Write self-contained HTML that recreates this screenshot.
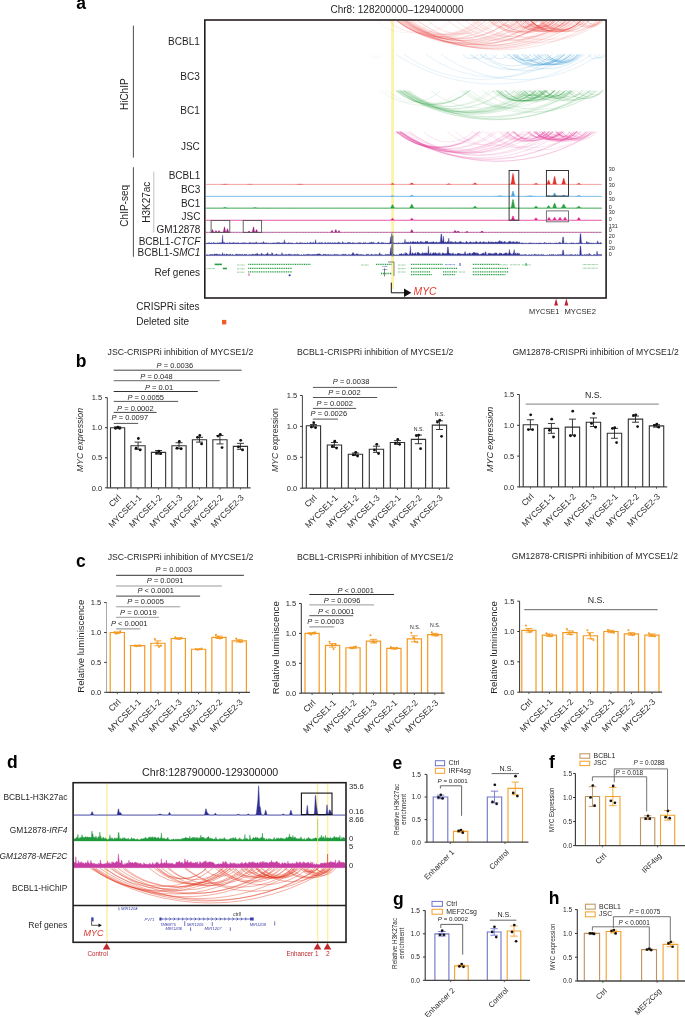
<!DOCTYPE html>
<html><head><meta charset="utf-8"><title>Figure</title>
<style>
html,body{margin:0;padding:0;background:#fff;width:685px;height:1017px;overflow:hidden}
svg{display:block;-webkit-font-smoothing:antialiased;will-change:transform}
text{font-family:"Liberation Sans",sans-serif}
</style></head><body>
<svg width="685" height="1017" viewBox="0 0 685 1017" font-family="&quot;Liberation Sans&quot;, sans-serif">
<rect width="685" height="1017" fill="#fff"/>
<text x="76.20" y="9.10" font-size="17.5" font-weight="bold" fill="#000">a</text>
<text x="330.50" y="12.80" font-size="10" fill="#231f20" textLength="133.00" lengthAdjust="spacingAndGlyphs">Chr8: 128200000–129400000</text>
<rect x="391.20" y="20.50" width="2.90" height="268.50" fill="#fbf2ab" />
<path d="M401.2 20.8A68.6 68.6 0 0 0 490.1 20.8M406.4 20.8A54.5 54.5 0 0 0 479.6 20.8M404.6 20.8A92.2 92.2 0 0 0 518.6 20.8M396.9 20.8A118.3 118.3 0 0 0 537.5 20.8M396.6 20.8A108.9 108.9 0 0 0 527.7 20.8M397.1 20.8A65.0 65.0 0 0 0 482.1 20.8M402.8 20.8A156.2 156.2 0 0 0 580.0 20.8M398.0 20.8A80.5 80.5 0 0 0 499.7 20.8M406.0 20.8A169.9 169.9 0 0 0 596.0 20.8M405.2 20.8A95.6 95.6 0 0 0 522.8 20.8M411.6 20.8A47.0 47.0 0 0 0 476.2 20.8M409.7 20.8A77.7 77.7 0 0 0 508.5 20.8M398.3 20.8A67.2 67.2 0 0 0 485.7 20.8M400.9 20.8A156.7 156.7 0 0 0 578.5 20.8M398.9 20.8A126.3 126.3 0 0 0 547.4 20.8M406.2 20.8A91.5 91.5 0 0 0 519.5 20.8M404.8 20.8A54.8 54.8 0 0 0 478.4 20.8M397.0 20.8A79.3 79.3 0 0 0 497.4 20.8M406.9 20.8A98.0 98.0 0 0 0 526.9 20.8M401.0 20.8A124.7 124.7 0 0 0 547.9 20.8M403.3 20.8A85.1 85.1 0 0 0 509.9 20.8M408.7 20.8A132.3 132.3 0 0 0 563.0 20.8M399.9 20.8A124.3 124.3 0 0 0 546.4 20.8M404.4 20.8A161.3 161.3 0 0 0 586.4 20.8M407.7 20.8A79.4 79.4 0 0 0 508.3 20.8M411.7 20.8A55.2 55.2 0 0 0 485.7 20.8M402.7 20.8A146.5 146.5 0 0 0 570.7 20.8M398.4 20.8A114.4 114.4 0 0 0 535.0 20.8M396.6 20.8A140.5 140.5 0 0 0 558.9 20.8M408.2 20.8A115.7 115.7 0 0 0 546.2 20.8" fill="none" stroke="#e4312b" stroke-width="0.6" stroke-opacity="0.22"/>
<path d="M493.4 20.8A44.7 44.7 0 0 0 555.3 20.8M476.7 20.8A70.8 70.8 0 0 0 568.0 20.8M465.9 20.8A64.4 64.4 0 0 0 550.2 20.8M490.1 20.8A87.2 87.2 0 0 0 599.0 20.8M456.1 20.8A89.3 89.3 0 0 0 567.1 20.8M417.6 20.8A126.5 126.5 0 0 0 566.3 20.8M472.2 20.8A108.0 108.0 0 0 0 602.4 20.8M488.4 20.8A44.1 44.1 0 0 0 549.7 20.8M447.9 20.8A95.0 95.0 0 0 0 564.9 20.8M414.1 20.8A100.6 100.6 0 0 0 536.8 20.8M427.6 20.8A48.9 48.9 0 0 0 494.4 20.8M417.5 20.8A135.1 135.1 0 0 0 574.5 20.8" fill="none" stroke="#e4312b" stroke-width="0.6" stroke-opacity="0.22"/>
<path d="M503.2 20.8A20.9 20.9 0 0 0 535.4 20.8M529.9 20.8A38.9 38.9 0 0 0 584.9 20.8M498.2 20.8A36.9 36.9 0 0 0 550.8 20.8M546.0 20.8A36.0 36.0 0 0 0 597.5 20.8M573.6 20.8A16.9 16.9 0 0 0 600.4 20.8M518.4 20.8A27.6 27.6 0 0 0 559.4 20.8M526.6 20.8A38.9 38.9 0 0 0 581.6 20.8M587.7 20.8A6.0 6.0 0 0 0 598.5 20.8M508.0 20.8A19.0 19.0 0 0 0 537.7 20.8M513.8 20.8A33.5 33.5 0 0 0 562.2 20.8M550.1 20.8A13.0 13.0 0 0 0 571.4 20.8M490.4 20.8A37.2 37.2 0 0 0 543.4 20.8M527.7 20.8A32.4 32.4 0 0 0 574.7 20.8M587.2 20.8A8.1 8.1 0 0 0 601.2 20.8M542.6 20.8A27.7 27.7 0 0 0 583.7 20.8M559.0 20.8A6.7 6.7 0 0 0 570.8 20.8M581.8 20.8A11.3 11.3 0 0 0 600.5 20.8M579.2 20.8A12.8 12.8 0 0 0 600.2 20.8M530.0 20.8A23.1 23.1 0 0 0 565.1 20.8M500.6 20.8A38.9 38.9 0 0 0 555.6 20.8M496.3 20.8A9.7 9.7 0 0 0 512.9 20.8M511.3 20.8A14.4 14.4 0 0 0 534.6 20.8M524.7 20.8A7.8 7.8 0 0 0 538.3 20.8M490.0 20.8A16.0 16.0 0 0 0 515.6 20.8M500.3 20.8A29.7 29.7 0 0 0 544.0 20.8M492.6 20.8A38.9 38.9 0 0 0 547.6 20.8M552.6 20.8A9.4 9.4 0 0 0 568.6 20.8M515.7 20.8A24.4 24.4 0 0 0 552.6 20.8M527.1 20.8A10.8 10.8 0 0 0 545.2 20.8M576.6 20.8A16.5 16.5 0 0 0 602.9 20.8M537.5 20.8A24.4 24.4 0 0 0 574.4 20.8M498.8 20.8A11.8 11.8 0 0 0 518.4 20.8M524.9 20.8A17.8 17.8 0 0 0 553.0 20.8M574.5 20.8A7.4 7.4 0 0 0 587.5 20.8" fill="none" stroke="#e4312b" stroke-width="0.6" stroke-opacity="0.28"/>
<path d="M515.7 20.8A34.8 34.8 0 0 0 565.7 20.8M530.8 20.8A14.9 14.9 0 0 0 554.9 20.8M531.3 20.8A11.5 11.5 0 0 0 550.4 20.8M530.8 20.8A34.8 34.8 0 0 0 580.8 20.8M540.9 20.8A26.6 26.6 0 0 0 580.6 20.8M522.8 20.8A23.8 23.8 0 0 0 558.9 20.8M520.0 20.8A34.8 34.8 0 0 0 570.0 20.8M531.0 20.8A34.8 34.8 0 0 0 580.9 20.8M524.9 20.8A18.1 18.1 0 0 0 553.4 20.8M539.3 20.8A34.8 34.8 0 0 0 589.3 20.8" fill="none" stroke="#e4312b" stroke-width="0.7" stroke-opacity="0.45"/>
<path d="M389.1 20.8A45.7 45.7 0 0 0 452.1 20.8M388.4 20.8A43.8 43.8 0 0 0 449.2 20.8M376.5 20.8A41.2 41.2 0 0 0 434.2 20.8" fill="none" stroke="#e4312b" stroke-width="0.6" stroke-opacity="0.1"/>
<path d="M396.0 54.3A176.3 176.3 0 0 0 592.0 54.3M426.0 54.3A117.8 117.8 0 0 0 566.0 54.3M441.0 54.3A137.2 137.2 0 0 0 600.0 54.3M404.0 54.3A134.1 134.1 0 0 0 560.0 54.3" fill="none" stroke="#3a9bd5" stroke-width="0.6" stroke-opacity="0.22"/>
<path d="M463.0 54.3A8.7 8.7 0 0 0 478.0 54.3M470.0 54.3A9.4 9.4 0 0 0 486.0 54.3M480.0 54.3A10.1 10.1 0 0 0 497.0 54.3M492.0 54.3A9.4 9.4 0 0 0 508.0 54.3M503.0 54.3A9.4 9.4 0 0 0 519.0 54.3M588.0 54.3A8.7 8.7 0 0 0 603.0 54.3M594.0 54.3A6.8 6.8 0 0 0 606.0 54.3M484.2 54.3A40.7 40.7 0 0 0 541.3 54.3M471.1 54.3A61.8 61.8 0 0 0 552.6 54.3M480.4 54.3A70.3 70.3 0 0 0 571.2 54.3M508.3 54.3A40.1 40.1 0 0 0 564.7 54.3M507.5 54.3A57.9 57.9 0 0 0 584.6 54.3M508.2 54.3A37.6 37.6 0 0 0 561.6 54.3" fill="none" stroke="#3a9bd5" stroke-width="0.6" stroke-opacity="0.3"/>
<path d="M516.8 54.3A17.2 17.2 0 0 0 544.1 54.3M515.9 54.3A16.5 16.5 0 0 0 542.1 54.3M533.0 54.3A34.2 34.2 0 0 0 582.2 54.3M541.6 54.3A18.6 18.6 0 0 0 570.7 54.3M534.1 54.3A30.4 30.4 0 0 0 578.6 54.3M511.4 54.3A34.8 34.8 0 0 0 561.4 54.3M544.4 54.3A23.6 23.6 0 0 0 580.2 54.3M538.0 54.3A19.8 19.8 0 0 0 568.8 54.3M515.1 54.3A34.8 34.8 0 0 0 565.1 54.3M521.3 54.3A34.8 34.8 0 0 0 571.3 54.3M546.9 54.3A15.3 15.3 0 0 0 571.4 54.3M524.1 54.3A34.8 34.8 0 0 0 574.1 54.3M537.0 54.3A12.6 12.6 0 0 0 557.8 54.3M513.1 54.3A15.9 15.9 0 0 0 538.5 54.3M544.2 54.3A24.2 24.2 0 0 0 580.8 54.3M513.8 54.3A34.8 34.8 0 0 0 563.8 54.3M547.2 54.3A19.7 19.7 0 0 0 577.8 54.3M522.0 54.3A28.3 28.3 0 0 0 563.9 54.3M513.2 54.3A10.4 10.4 0 0 0 530.8 54.3M546.8 54.3A19.8 19.8 0 0 0 577.5 54.3M529.1 54.3A34.8 34.8 0 0 0 579.1 54.3M525.4 54.3A34.8 34.8 0 0 0 575.4 54.3" fill="none" stroke="#3a9bd5" stroke-width="0.6" stroke-opacity="0.35"/>
<path d="M370.0 54.3A6.8 6.8 0 0 0 382.0 54.3" fill="none" stroke="#3a9bd5" stroke-width="0.6" stroke-opacity="0.15"/>
<path d="M407.6 90.5A66.4 66.4 0 0 0 494.1 90.5M399.5 90.5A84.4 84.4 0 0 0 505.4 90.5M399.4 90.5A124.4 124.4 0 0 0 545.9 90.5M399.6 90.5A101.1 101.1 0 0 0 522.8 90.5M397.8 90.5A172.8 172.8 0 0 0 590.6 90.5M401.0 90.5A105.1 105.1 0 0 0 528.2 90.5M404.2 90.5A165.2 165.2 0 0 0 589.8 90.5M401.9 90.5A169.6 169.6 0 0 0 591.6 90.5M403.0 90.5A113.1 113.1 0 0 0 538.4 90.5M403.3 90.5A46.7 46.7 0 0 0 467.6 90.5M402.2 90.5A67.8 67.8 0 0 0 490.3 90.5M396.1 90.5A158.4 158.4 0 0 0 575.3 90.5M398.4 90.5A109.7 109.7 0 0 0 530.3 90.5M406.2 90.5A113.4 113.4 0 0 0 541.8 90.5M400.6 90.5A113.7 113.7 0 0 0 536.5 90.5M403.8 90.5A148.1 148.1 0 0 0 573.2 90.5M397.5 90.5A122.7 122.7 0 0 0 542.3 90.5M399.5 90.5A82.4 82.4 0 0 0 503.2 90.5M406.8 90.5A106.1 106.1 0 0 0 535.1 90.5M403.9 90.5A144.5 144.5 0 0 0 569.9 90.5M408.8 90.5A95.4 95.4 0 0 0 526.2 90.5M404.6 90.5A108.0 108.0 0 0 0 534.8 90.5" fill="none" stroke="#2ea043" stroke-width="0.6" stroke-opacity="0.22"/>
<path d="M466.1 90.5A85.6 85.6 0 0 0 573.2 90.5M460.7 90.5A73.8 73.8 0 0 0 555.3 90.5M463.0 90.5A111.9 111.9 0 0 0 597.2 90.5M482.9 90.5A88.5 88.5 0 0 0 593.1 90.5M504.8 90.5A39.0 39.0 0 0 0 559.9 90.5M470.4 90.5A105.2 105.2 0 0 0 597.7 90.5M495.6 90.5A34.2 34.2 0 0 0 544.8 90.5M430.9 90.5A77.3 77.3 0 0 0 529.3 90.5" fill="none" stroke="#2ea043" stroke-width="0.6" stroke-opacity="0.2"/>
<path d="M497.1 90.5A21.7 21.7 0 0 0 530.4 90.5M497.2 90.5A34.8 34.8 0 0 0 547.2 90.5M566.8 90.5A22.5 22.5 0 0 0 601.2 90.5M505.1 90.5A34.8 34.8 0 0 0 555.1 90.5M554.7 90.5A9.1 9.1 0 0 0 570.3 90.5M576.5 90.5A16.7 16.7 0 0 0 603.0 90.5M511.5 90.5A34.8 34.8 0 0 0 561.5 90.5M529.0 90.5A28.1 28.1 0 0 0 570.7 90.5M587.0 90.5A9.3 9.3 0 0 0 602.8 90.5M505.8 90.5A33.2 33.2 0 0 0 553.9 90.5M540.5 90.5A17.9 17.9 0 0 0 568.7 90.5M509.2 90.5A24.5 24.5 0 0 0 546.2 90.5M560.8 90.5A6.0 6.0 0 0 0 571.4 90.5M544.3 90.5A20.6 20.6 0 0 0 576.2 90.5M491.8 90.5A29.9 29.9 0 0 0 535.7 90.5M551.1 90.5A20.7 20.7 0 0 0 583.1 90.5M496.3 90.5A34.8 34.8 0 0 0 546.3 90.5M567.3 90.5A23.5 23.5 0 0 0 603.0 90.5M500.3 90.5A22.9 22.9 0 0 0 535.2 90.5M493.9 90.5A34.8 34.8 0 0 0 543.9 90.5M516.5 90.5A12.1 12.1 0 0 0 536.5 90.5M531.4 90.5A34.8 34.8 0 0 0 581.4 90.5M570.3 90.5A9.5 9.5 0 0 0 586.4 90.5M504.6 90.5A34.8 34.8 0 0 0 554.6 90.5M545.9 90.5A29.7 29.7 0 0 0 589.6 90.5M498.8 90.5A9.0 9.0 0 0 0 514.2 90.5M557.4 90.5A16.0 16.0 0 0 0 583.0 90.5M497.1 90.5A34.8 34.8 0 0 0 547.1 90.5M552.2 90.5A29.6 29.6 0 0 0 595.7 90.5M498.2 90.5A34.8 34.8 0 0 0 548.2 90.5M496.5 90.5A34.8 34.8 0 0 0 546.5 90.5M534.5 90.5A19.4 19.4 0 0 0 564.7 90.5M544.2 90.5A34.8 34.8 0 0 0 594.2 90.5M516.3 90.5A12.1 12.1 0 0 0 536.3 90.5M541.6 90.5A13.8 13.8 0 0 0 564.1 90.5M500.7 90.5A15.6 15.6 0 0 0 525.8 90.5" fill="none" stroke="#2ea043" stroke-width="0.6" stroke-opacity="0.28"/>
<path d="M513.8 90.5A20.2 20.2 0 0 0 545.1 90.5M523.2 90.5A20.2 20.2 0 0 0 554.6 90.5M539.3 90.5A16.3 16.3 0 0 0 565.4 90.5M530.0 90.5A15.3 15.3 0 0 0 554.6 90.5M524.5 90.5A11.2 11.2 0 0 0 543.3 90.5M521.0 90.5A11.2 11.2 0 0 0 539.7 90.5M538.4 90.5A22.0 22.0 0 0 0 572.2 90.5M518.8 90.5A27.5 27.5 0 0 0 559.7 90.5M545.6 90.5A12.3 12.3 0 0 0 565.9 90.5" fill="none" stroke="#2ea043" stroke-width="0.7" stroke-opacity="0.45"/>
<path d="M396.0 90.5A55.9 55.9 0 0 0 470.0 90.5" fill="none" stroke="#2ea043" stroke-width="0.7" stroke-opacity="0.5"/>
<path d="M388.4 90.5A36.7 36.7 0 0 0 440.7 90.5M381.9 90.5A59.2 59.2 0 0 0 460.4 90.5M379.9 90.5A43.5 43.5 0 0 0 440.3 90.5M385.8 90.5A63.5 63.5 0 0 0 469.0 90.5" fill="none" stroke="#2ea043" stroke-width="0.6" stroke-opacity="0.1"/>
<path d="M400.8 131.6A154.7 154.7 0 0 0 576.5 131.6M405.9 131.6A120.9 120.9 0 0 0 549.0 131.6M401.7 131.6A85.5 85.5 0 0 0 508.7 131.6M396.8 131.6A61.8 61.8 0 0 0 478.2 131.6M397.0 131.6A145.2 145.2 0 0 0 563.7 131.6M399.6 131.6A63.5 63.5 0 0 0 482.9 131.6M397.2 131.6A159.8 159.8 0 0 0 577.8 131.6M408.2 131.6A123.5 123.5 0 0 0 553.9 131.6M399.9 131.6A73.2 73.2 0 0 0 493.9 131.6M400.1 131.6A102.1 102.1 0 0 0 524.3 131.6M398.2 131.6A102.1 102.1 0 0 0 522.4 131.6M399.7 131.6A175.2 175.2 0 0 0 594.7 131.6M409.6 131.6A104.8 104.8 0 0 0 536.6 131.6M399.4 131.6A176.1 176.1 0 0 0 595.2 131.6M400.3 131.6A87.9 87.9 0 0 0 509.9 131.6M396.0 131.6A95.5 95.5 0 0 0 513.4 131.6M402.6 131.6A105.6 105.6 0 0 0 530.4 131.6M398.8 131.6A109.6 109.6 0 0 0 530.7 131.6M396.1 131.6A79.7 79.7 0 0 0 497.0 131.6M397.3 131.6A96.7 96.7 0 0 0 515.9 131.6" fill="none" stroke="#df1f8a" stroke-width="0.6" stroke-opacity="0.24"/>
<path d="M423.8 131.6A34.1 34.1 0 0 0 472.9 131.6M447.4 131.6A48.4 48.4 0 0 0 513.6 131.6M472.7 131.6A66.1 66.1 0 0 0 558.9 131.6M487.5 131.6A67.4 67.4 0 0 0 575.2 131.6M484.4 131.6A84.9 84.9 0 0 0 590.9 131.6M455.1 131.6A55.4 55.4 0 0 0 529.3 131.6" fill="none" stroke="#df1f8a" stroke-width="0.6" stroke-opacity="0.2"/>
<path d="M576.7 131.6A6.6 6.6 0 0 0 588.4 131.6M555.1 131.6A20.1 20.1 0 0 0 586.3 131.6M498.6 131.6A30.8 30.8 0 0 0 543.6 131.6M569.0 131.6A13.4 13.4 0 0 0 590.9 131.6M555.9 131.6A23.8 23.8 0 0 0 592.0 131.6M506.6 131.6A30.8 30.8 0 0 0 551.6 131.6M536.9 131.6A30.8 30.8 0 0 0 581.9 131.6M561.8 131.6A20.5 20.5 0 0 0 593.4 131.6M543.5 131.6A30.8 30.8 0 0 0 588.5 131.6M551.7 131.6A23.1 23.1 0 0 0 586.9 131.6M514.1 131.6A7.0 7.0 0 0 0 526.4 131.6M506.0 131.6A26.5 26.5 0 0 0 545.6 131.6M503.7 131.6A30.8 30.8 0 0 0 548.7 131.6M541.4 131.6A26.3 26.3 0 0 0 580.6 131.6M547.0 131.6A25.2 25.2 0 0 0 584.9 131.6M535.6 131.6A5.7 5.7 0 0 0 545.8 131.6M561.2 131.6A19.3 19.3 0 0 0 591.3 131.6M536.7 131.6A24.8 24.8 0 0 0 574.2 131.6M549.7 131.6A7.1 7.1 0 0 0 562.3 131.6M556.2 131.6A10.7 10.7 0 0 0 574.2 131.6M501.2 131.6A21.5 21.5 0 0 0 534.2 131.6M555.5 131.6A9.8 9.8 0 0 0 572.2 131.6M556.4 131.6A27.5 27.5 0 0 0 597.2 131.6M536.0 131.6A19.2 19.2 0 0 0 565.9 131.6M534.8 131.6A30.8 30.8 0 0 0 579.8 131.6M558.7 131.6A17.8 17.8 0 0 0 586.8 131.6M548.3 131.6A7.5 7.5 0 0 0 561.4 131.6M507.2 131.6A19.6 19.6 0 0 0 537.7 131.6M556.7 131.6A11.8 11.8 0 0 0 576.2 131.6M542.1 131.6A5.9 5.9 0 0 0 552.7 131.6" fill="none" stroke="#df1f8a" stroke-width="0.6" stroke-opacity="0.28"/>
<path d="M514.0 131.6A19.5 19.5 0 0 0 544.4 131.6M534.2 131.6A23.6 23.6 0 0 0 570.1 131.6M534.3 131.6A15.9 15.9 0 0 0 559.8 131.6M529.0 131.6A21.0 21.0 0 0 0 561.4 131.6M527.4 131.6A13.4 13.4 0 0 0 549.3 131.6M541.5 131.6A13.3 13.3 0 0 0 563.2 131.6M544.3 131.6A21.3 21.3 0 0 0 577.0 131.6M512.6 131.6A27.3 27.3 0 0 0 553.1 131.6M539.1 131.6A25.5 25.5 0 0 0 577.3 131.6" fill="none" stroke="#df1f8a" stroke-width="0.7" stroke-opacity="0.5"/>
<path d="M396.0 131.6A63.1 63.1 0 0 0 480.0 131.6" fill="none" stroke="#df1f8a" stroke-width="0.7" stroke-opacity="0.5"/>
<rect x="204.80" y="20.00" width="401.30" height="278.00" fill="none" stroke="#231f20" stroke-width="1.6" />
<line x1="133.40" y1="25.60" x2="133.40" y2="157.60" stroke="#231f20" stroke-width="0.8" />
<line x1="133.40" y1="167.20" x2="133.40" y2="256.80" stroke="#231f20" stroke-width="0.8" />
<line x1="153.80" y1="171.60" x2="153.80" y2="232.30" stroke="#b0b0b0" stroke-width="0.8" />
<text x="128.00" y="94.20" font-size="10" text-anchor="middle" fill="#231f20" transform="rotate(-90 128.00 94.20)">HiChIP</text>
<text x="128.50" y="205.80" font-size="10" text-anchor="middle" fill="#231f20" transform="rotate(-90 128.50 205.80)">ChIP-seq</text>
<text x="150.50" y="202.20" font-size="10" text-anchor="middle" fill="#231f20" transform="rotate(-90 150.50 202.20)">H3K27ac</text>
<text x="199.80" y="44.90" font-size="10" text-anchor="end" fill="#231f20">BCBL1</text>
<text x="199.80" y="79.70" font-size="10" text-anchor="end" fill="#231f20">BC3</text>
<text x="199.80" y="114.40" font-size="10" text-anchor="end" fill="#231f20">BC1</text>
<text x="199.80" y="149.80" font-size="10" text-anchor="end" fill="#231f20">JSC</text>
<text x="200.40" y="179.30" font-size="10" text-anchor="end" fill="#231f20">BCBL1</text>
<text x="200.40" y="192.90" font-size="10" text-anchor="end" fill="#231f20">BC3</text>
<text x="200.40" y="206.60" font-size="10" text-anchor="end" fill="#231f20">BC1</text>
<text x="200.40" y="219.70" font-size="10" text-anchor="end" fill="#231f20">JSC</text>
<text x="200.40" y="232.60" font-size="10" text-anchor="end" fill="#231f20">GM12878</text>
<text x="200.40" y="244.60" font-size="10" text-anchor="end" fill="#231f20">BCBL1-<tspan font-style="italic">CTCF</tspan></text>
<text x="200.40" y="256.40" font-size="10" text-anchor="end" fill="#231f20">BCBL1-<tspan font-style="italic">SMC1</tspan></text>
<text x="200.10" y="276.30" font-size="10" text-anchor="end" fill="#231f20">Ref genes</text>
<text x="136.20" y="310.00" font-size="10" fill="#231f20">CRISPRi sites</text>
<text x="136.20" y="324.60" font-size="10" fill="#231f20">Deleted site</text>
<rect x="222.00" y="319.90" width="4.30" height="4.50" fill="#f15a29" />
<path d="M205.8 184.4L205.8 184.40L206.3 184.40L206.8 184.40L207.3 184.40L207.8 184.40L208.3 184.40L208.8 184.40L209.3 184.40L209.8 184.40L210.3 184.40L210.8 184.40L211.3 184.40L211.8 184.40L212.3 184.40L212.8 184.40L213.3 184.40L213.8 184.40L214.3 184.40L214.8 184.40L215.3 184.40L215.8 184.40L216.3 184.40L216.8 184.40L217.3 184.40L217.8 184.40L218.3 184.40L218.8 184.40L219.3 184.40L219.8 184.40L220.3 184.40L220.8 184.40L221.3 184.39L221.8 184.37L222.3 184.34L222.8 184.28L223.3 184.21L223.8 184.12L224.3 184.05L224.8 184.00L225.3 184.01L225.8 184.06L226.3 184.14L226.8 184.22L227.3 184.29L227.8 184.34L228.3 184.37L228.8 184.39L229.3 184.40L229.8 184.40L230.3 184.40L230.8 184.40L231.3 184.40L231.8 184.40L232.3 184.40L232.8 184.40L233.3 184.40L233.8 184.40L234.3 184.40L234.8 184.40L235.3 184.40L235.8 184.40L236.3 184.40L236.8 184.40L237.3 184.40L237.8 184.40L238.3 184.40L238.8 184.40L239.3 184.40L239.8 184.40L240.3 184.40L240.8 184.40L241.3 184.40L241.8 184.40L242.3 184.40L242.8 184.40L243.3 184.40L243.8 184.40L244.3 184.40L244.8 184.40L245.3 184.40L245.8 184.40L246.3 184.39L246.8 184.38L247.3 184.35L247.8 184.31L248.3 184.25L248.8 184.19L249.3 184.13L249.8 184.10L250.3 184.11L250.8 184.14L251.3 184.20L251.8 184.27L252.3 184.32L252.8 184.36L253.3 184.38L253.8 184.39L254.3 184.40L254.8 184.40L255.3 184.40L255.8 184.40L256.3 184.40L256.8 184.40L257.3 184.40L257.8 184.40L258.3 184.40L258.8 184.40L259.3 184.40L259.8 184.40L260.3 184.40L260.8 184.40L261.3 184.40L261.8 184.40L262.3 184.40L262.8 184.40L263.3 184.40L263.8 184.40L264.3 184.40L264.8 184.40L265.3 184.40L265.8 184.40L266.3 184.40L266.8 184.40L267.3 184.40L267.8 184.40L268.3 184.40L268.8 184.40L269.3 184.40L269.8 184.40L270.3 184.40L270.8 184.40L271.3 184.40L271.8 184.40L272.3 184.40L272.8 184.40L273.3 184.40L273.8 184.40L274.3 184.40L274.8 184.40L275.3 184.40L275.8 184.40L276.3 184.40L276.8 184.40L277.3 184.40L277.8 184.40L278.3 184.40L278.8 184.40L279.3 184.40L279.8 184.40L280.3 184.40L280.8 184.40L281.3 184.40L281.8 184.40L282.3 184.40L282.8 184.40L283.3 184.40L283.8 184.40L284.3 184.40L284.8 184.40L285.3 184.40L285.8 184.40L286.3 184.40L286.8 184.40L287.3 184.40L287.8 184.40L288.3 184.40L288.8 184.40L289.3 184.40L289.8 184.40L290.3 184.40L290.8 184.40L291.3 184.40L291.8 184.40L292.3 184.40L292.8 184.40L293.3 184.40L293.8 184.40L294.3 184.40L294.8 184.40L295.3 184.40L295.8 184.40L296.3 184.39L296.8 184.37L297.3 184.34L297.8 184.28L298.3 184.21L298.8 184.12L299.3 184.05L299.8 184.00L300.3 184.01L300.8 184.06L301.3 184.14L301.8 184.22L302.3 184.29L302.8 184.34L303.3 184.37L303.8 184.39L304.3 184.40L304.8 184.40L305.3 184.40L305.8 184.40L306.3 184.40L306.8 184.40L307.3 184.40L307.8 184.40L308.3 184.40L308.8 184.40L309.3 184.40L309.8 184.40L310.3 184.40L310.8 184.40L311.3 184.40L311.8 184.40L312.3 184.40L312.8 184.40L313.3 184.40L313.8 184.40L314.3 184.40L314.8 184.40L315.3 184.40L315.8 184.40L316.3 184.40L316.8 184.40L317.3 184.40L317.8 184.40L318.3 184.40L318.8 184.40L319.3 184.40L319.8 184.40L320.3 184.40L320.8 184.40L321.3 184.40L321.8 184.40L322.3 184.40L322.8 184.40L323.3 184.40L323.8 184.40L324.3 184.40L324.8 184.40L325.3 184.40L325.8 184.40L326.3 184.40L326.8 184.40L327.3 184.40L327.8 184.40L328.3 184.40L328.8 184.40L329.3 184.40L329.8 184.40L330.3 184.40L330.8 184.40L331.3 184.40L331.8 184.40L332.3 184.40L332.8 184.40L333.3 184.40L333.8 184.40L334.3 184.40L334.8 184.40L335.3 184.40L335.8 184.40L336.3 184.40L336.8 184.40L337.3 184.40L337.8 184.40L338.3 184.40L338.8 184.40L339.3 184.40L339.8 184.40L340.3 184.40L340.8 184.40L341.3 184.40L341.8 184.40L342.3 184.40L342.8 184.40L343.3 184.40L343.8 184.40L344.3 184.40L344.8 184.40L345.3 184.40L345.8 184.40L346.3 184.40L346.8 184.40L347.3 184.40L347.8 184.40L348.3 184.40L348.8 184.40L349.3 184.40L349.8 184.40L350.3 184.40L350.8 184.40L351.3 184.40L351.8 184.40L352.3 184.40L352.8 184.40L353.3 184.40L353.8 184.40L354.3 184.40L354.8 184.40L355.3 184.40L355.8 184.40L356.3 184.40L356.8 184.40L357.3 184.40L357.8 184.40L358.3 184.40L358.8 184.40L359.3 184.40L359.8 184.40L360.3 184.40L360.8 184.40L361.3 184.40L361.8 184.40L362.3 184.40L362.8 184.40L363.3 184.40L363.8 184.40L364.3 184.40L364.8 184.40L365.3 184.40L365.8 184.40L366.3 184.40L366.8 184.40L367.3 184.40L367.8 184.40L368.3 184.40L368.8 184.40L369.3 184.40L369.8 184.40L370.3 184.40L370.8 184.40L371.3 184.40L371.8 184.40L372.3 184.40L372.8 184.40L373.3 184.40L373.8 184.40L374.3 184.40L374.8 184.40L375.3 184.40L375.8 184.40L376.3 184.40L376.8 184.40L377.3 184.40L377.8 184.40L378.3 184.40L378.8 184.40L379.3 184.40L379.8 184.40L380.3 184.40L380.8 184.40L381.3 184.40L381.8 184.40L382.3 184.40L382.8 184.40L383.3 184.40L383.8 184.40L384.3 184.40L384.8 184.40L385.3 184.40L385.8 184.40L386.3 184.40L386.8 184.40L387.3 184.40L387.8 184.40L388.3 184.40L388.8 184.40L389.3 184.40L389.8 184.39L390.3 184.36L390.8 184.24L391.3 183.96L391.8 183.55L392.3 183.23L392.8 183.27L393.3 183.63L393.8 184.03L394.3 184.27L394.8 184.37L395.3 184.39L395.8 184.40L396.3 184.40L396.8 184.40L397.3 184.40L397.8 184.40L398.3 184.40L398.8 184.40L399.3 184.40L399.8 184.40L400.3 184.40L400.8 184.40L401.3 184.40L401.8 184.40L402.3 184.40L402.8 184.40L403.3 184.40L403.8 184.40L404.3 184.40L404.8 184.40L405.3 184.40L405.8 184.40L406.3 184.40L406.8 184.40L407.3 184.40L407.8 184.40L408.3 184.39L408.8 184.37L409.3 184.31L409.8 184.15L410.3 183.85L410.8 183.44L411.3 183.06L411.8 182.90L412.3 183.06L412.8 183.44L413.3 183.85L413.8 184.15L414.3 184.31L414.8 184.37L415.3 184.39L415.8 184.40L416.3 184.40L416.8 184.40L417.3 184.40L417.8 184.40L418.3 184.40L418.8 184.40L419.3 184.40L419.8 184.40L420.3 184.40L420.8 184.40L421.3 184.40L421.8 184.40L422.3 184.40L422.8 184.40L423.3 184.40L423.8 184.40L424.3 184.40L424.8 184.40L425.3 184.40L425.8 184.40L426.3 184.40L426.8 184.40L427.3 184.40L427.8 184.40L428.3 184.40L428.8 184.40L429.3 184.40L429.8 184.40L430.3 184.40L430.8 184.40L431.3 184.40L431.8 184.40L432.3 184.40L432.8 184.40L433.3 184.40L433.8 184.40L434.3 184.40L434.8 184.40L435.3 184.40L435.8 184.40L436.3 184.40L436.8 184.40L437.3 184.40L437.8 184.40L438.3 184.40L438.8 184.40L439.3 184.40L439.8 184.40L440.3 184.40L440.8 184.40L441.3 184.40L441.8 184.40L442.3 184.40L442.8 184.40L443.3 184.40L443.8 184.40L444.3 184.40L444.8 184.40L445.3 184.40L445.8 184.39L446.3 184.35L446.8 184.26L447.3 184.11L447.8 183.89L448.3 183.68L448.8 183.60L449.3 183.68L449.8 183.89L450.3 184.11L450.8 184.26L451.3 184.35L451.8 184.39L452.3 184.40L452.8 184.40L453.3 184.40L453.8 184.40L454.3 184.40L454.8 184.40L455.3 184.40L455.8 184.40L456.3 184.40L456.8 184.40L457.3 184.40L457.8 184.40L458.3 184.40L458.8 184.40L459.3 184.40L459.8 184.40L460.3 184.40L460.8 184.40L461.3 184.40L461.8 184.40L462.3 184.40L462.8 184.40L463.3 184.40L463.8 184.40L464.3 184.40L464.8 184.40L465.3 184.40L465.8 184.40L466.3 184.40L466.8 184.40L467.3 184.40L467.8 184.40L468.3 184.40L468.8 184.40L469.3 184.40L469.8 184.40L470.3 184.40L470.8 184.40L471.3 184.40L471.8 184.38L472.3 184.34L472.8 184.23L473.3 183.98L473.8 183.61L474.3 183.19L474.8 182.93L475.3 182.96L475.8 183.27L476.3 183.69L476.8 184.04L477.3 184.26L477.8 184.35L478.3 184.39L478.8 184.40L479.3 184.40L479.8 184.40L480.3 184.40L480.8 184.40L481.3 184.40L481.8 184.40L482.3 184.40L482.8 184.40L483.3 184.40L483.8 184.40L484.3 184.40L484.8 184.40L485.3 184.40L485.8 184.40L486.3 184.40L486.8 184.40L487.3 184.40L487.8 184.40L488.3 184.40L488.8 184.40L489.3 184.40L489.8 184.40L490.3 184.40L490.8 184.40L491.3 184.40L491.8 184.40L492.3 184.40L492.8 184.40L493.3 184.40L493.8 184.40L494.3 184.40L494.8 184.40L495.3 184.40L495.8 184.40L496.3 184.40L496.8 184.40L497.3 184.40L497.8 184.40L498.3 184.40L498.8 184.40L499.3 184.40L499.8 184.40L500.3 184.40L500.8 184.40L501.3 184.40L501.8 184.40L502.3 184.40L502.8 184.40L503.3 184.40L503.8 184.40L504.3 184.40L504.8 184.40L505.3 184.40L505.8 184.40L506.3 184.40L506.8 184.40L507.3 184.40L507.8 184.40L508.3 184.40L508.8 184.40L509.3 184.40L509.8 184.37L510.3 184.25L510.8 183.74L511.3 182.32L511.8 179.49L512.3 175.79L512.8 173.17L513.3 173.50L513.8 176.53L514.3 180.17L514.8 182.71L515.3 183.90L515.8 184.29L516.3 184.38L516.8 184.40L517.3 184.40L517.8 184.40L518.3 184.40L518.8 184.40L519.3 184.40L519.8 184.40L520.3 184.40L520.8 184.40L521.3 184.40L521.8 184.40L522.3 184.40L522.8 184.40L523.3 184.40L523.8 184.40L524.3 184.40L524.8 184.40L525.3 184.40L525.8 184.40L526.3 184.40L526.8 184.40L527.3 184.40L527.8 184.40L528.3 184.40L528.8 184.40L529.3 184.40L529.8 184.40L530.3 184.40L530.8 184.40L531.3 184.40L531.8 184.40L532.3 184.40L532.8 184.39L533.3 184.35L533.8 184.26L534.3 184.07L534.8 183.77L535.3 183.43L535.8 183.22L536.3 183.25L536.8 183.50L537.3 183.83L537.8 184.12L538.3 184.29L538.8 184.36L539.3 184.39L539.8 184.40L540.3 184.40L540.8 184.40L541.3 184.40L541.8 184.40L542.3 184.40L542.8 184.40L543.3 184.40L543.8 184.40L544.3 184.40L544.8 184.40L545.3 184.40L545.8 184.38L546.3 184.29L546.8 183.93L547.3 183.01L547.8 181.51L548.3 180.17L548.8 180.02L549.3 181.20L549.8 182.74L550.3 183.80L550.8 184.24L551.3 184.37L551.8 184.36L552.3 184.18L552.8 183.50L553.3 181.77L553.8 178.95L554.3 176.41L554.8 176.13L555.3 178.35L555.8 181.27L556.3 183.26L556.8 184.11L557.3 184.35L557.8 184.39L558.3 184.40L558.8 184.40L559.3 184.40L559.8 184.40L560.3 184.39L560.8 184.36L561.3 184.18L561.8 183.63L562.3 182.36L562.8 180.38L563.3 178.49L563.8 177.94L564.3 179.15L564.8 181.22L565.3 182.97L565.8 183.92L566.3 184.28L566.8 184.38L567.3 184.40L567.8 184.40L568.3 184.40L568.8 184.40L569.3 184.40L569.8 184.40L570.3 184.40L570.8 184.40L571.3 184.40L571.8 184.40L572.3 184.40L572.8 184.40L573.3 184.40L573.8 184.40L574.3 184.40L574.8 184.40L575.3 184.39L575.8 184.38L576.3 184.33L576.8 184.20L577.3 183.96L577.8 183.63L578.3 183.33L578.8 183.20L579.3 183.33L579.8 183.63L580.3 183.96L580.8 184.20L581.3 184.33L581.8 184.38L582.3 184.39L582.8 184.40L583.3 184.40L583.8 184.40L584.3 184.40L584.8 184.40L585.3 184.40L585.8 184.40L586.3 184.40L586.8 184.40L587.3 184.40L587.8 184.40L588.3 184.40L588.8 184.40L589.3 184.40L589.8 184.40L590.3 184.40L590.8 184.40L591.3 184.40L591.8 184.40L592.3 184.40L592.8 184.40L593.3 184.40L593.8 184.40L594.3 184.40L594.8 184.40L595.3 184.40L595.8 184.40L596.3 184.40L596.8 184.40L597.3 184.40L597.8 184.40L598.3 184.40L598.8 184.40L599.3 184.40L599.8 184.40L600.3 184.40L600.8 184.40L601.3 184.40L601.8 184.40L601.8 184.4Z" fill="#e4312b" stroke="#e4312b" stroke-width="0.25" stroke-linejoin="round"/>
<path d="M205.8 196.4L205.8 196.40L206.3 196.40L206.8 196.40L207.3 196.40L207.8 196.40L208.3 196.40L208.8 196.40L209.3 196.40L209.8 196.40L210.3 196.40L210.8 196.40L211.3 196.40L211.8 196.40L212.3 196.40L212.8 196.40L213.3 196.40L213.8 196.40L214.3 196.40L214.8 196.40L215.3 196.40L215.8 196.40L216.3 196.40L216.8 196.40L217.3 196.40L217.8 196.40L218.3 196.40L218.8 196.40L219.3 196.40L219.8 196.40L220.3 196.40L220.8 196.40L221.3 196.40L221.8 196.40L222.3 196.40L222.8 196.40L223.3 196.40L223.8 196.40L224.3 196.40L224.8 196.40L225.3 196.40L225.8 196.40L226.3 196.40L226.8 196.40L227.3 196.40L227.8 196.40L228.3 196.40L228.8 196.40L229.3 196.40L229.8 196.40L230.3 196.40L230.8 196.40L231.3 196.40L231.8 196.40L232.3 196.40L232.8 196.40L233.3 196.40L233.8 196.40L234.3 196.40L234.8 196.40L235.3 196.40L235.8 196.40L236.3 196.40L236.8 196.40L237.3 196.40L237.8 196.40L238.3 196.40L238.8 196.40L239.3 196.40L239.8 196.40L240.3 196.40L240.8 196.40L241.3 196.40L241.8 196.40L242.3 196.40L242.8 196.40L243.3 196.40L243.8 196.40L244.3 196.40L244.8 196.40L245.3 196.40L245.8 196.40L246.3 196.40L246.8 196.40L247.3 196.40L247.8 196.40L248.3 196.40L248.8 196.40L249.3 196.40L249.8 196.40L250.3 196.40L250.8 196.40L251.3 196.40L251.8 196.40L252.3 196.40L252.8 196.40L253.3 196.40L253.8 196.40L254.3 196.40L254.8 196.40L255.3 196.40L255.8 196.40L256.3 196.40L256.8 196.40L257.3 196.40L257.8 196.40L258.3 196.40L258.8 196.40L259.3 196.40L259.8 196.40L260.3 196.40L260.8 196.40L261.3 196.40L261.8 196.40L262.3 196.40L262.8 196.40L263.3 196.40L263.8 196.40L264.3 196.40L264.8 196.40L265.3 196.40L265.8 196.40L266.3 196.40L266.8 196.40L267.3 196.40L267.8 196.40L268.3 196.40L268.8 196.40L269.3 196.40L269.8 196.40L270.3 196.40L270.8 196.40L271.3 196.40L271.8 196.40L272.3 196.40L272.8 196.40L273.3 196.40L273.8 196.40L274.3 196.40L274.8 196.40L275.3 196.40L275.8 196.40L276.3 196.40L276.8 196.40L277.3 196.40L277.8 196.40L278.3 196.40L278.8 196.40L279.3 196.40L279.8 196.40L280.3 196.40L280.8 196.40L281.3 196.40L281.8 196.40L282.3 196.40L282.8 196.40L283.3 196.40L283.8 196.40L284.3 196.40L284.8 196.40L285.3 196.40L285.8 196.40L286.3 196.40L286.8 196.40L287.3 196.40L287.8 196.40L288.3 196.40L288.8 196.40L289.3 196.40L289.8 196.40L290.3 196.40L290.8 196.40L291.3 196.40L291.8 196.40L292.3 196.40L292.8 196.40L293.3 196.40L293.8 196.40L294.3 196.40L294.8 196.40L295.3 196.40L295.8 196.40L296.3 196.40L296.8 196.40L297.3 196.40L297.8 196.40L298.3 196.40L298.8 196.40L299.3 196.40L299.8 196.40L300.3 196.40L300.8 196.40L301.3 196.40L301.8 196.40L302.3 196.40L302.8 196.40L303.3 196.40L303.8 196.40L304.3 196.40L304.8 196.40L305.3 196.40L305.8 196.40L306.3 196.40L306.8 196.40L307.3 196.40L307.8 196.40L308.3 196.40L308.8 196.40L309.3 196.40L309.8 196.40L310.3 196.40L310.8 196.40L311.3 196.40L311.8 196.40L312.3 196.40L312.8 196.40L313.3 196.40L313.8 196.40L314.3 196.40L314.8 196.40L315.3 196.40L315.8 196.40L316.3 196.40L316.8 196.40L317.3 196.40L317.8 196.40L318.3 196.40L318.8 196.40L319.3 196.40L319.8 196.40L320.3 196.40L320.8 196.40L321.3 196.40L321.8 196.40L322.3 196.40L322.8 196.40L323.3 196.40L323.8 196.40L324.3 196.40L324.8 196.40L325.3 196.40L325.8 196.40L326.3 196.40L326.8 196.40L327.3 196.40L327.8 196.40L328.3 196.40L328.8 196.40L329.3 196.40L329.8 196.40L330.3 196.40L330.8 196.40L331.3 196.40L331.8 196.40L332.3 196.40L332.8 196.40L333.3 196.40L333.8 196.40L334.3 196.40L334.8 196.40L335.3 196.40L335.8 196.40L336.3 196.40L336.8 196.40L337.3 196.40L337.8 196.40L338.3 196.40L338.8 196.40L339.3 196.40L339.8 196.40L340.3 196.40L340.8 196.40L341.3 196.40L341.8 196.40L342.3 196.40L342.8 196.40L343.3 196.40L343.8 196.40L344.3 196.40L344.8 196.40L345.3 196.40L345.8 196.40L346.3 196.40L346.8 196.40L347.3 196.40L347.8 196.40L348.3 196.40L348.8 196.40L349.3 196.40L349.8 196.40L350.3 196.40L350.8 196.40L351.3 196.40L351.8 196.40L352.3 196.40L352.8 196.40L353.3 196.40L353.8 196.40L354.3 196.40L354.8 196.40L355.3 196.40L355.8 196.40L356.3 196.40L356.8 196.40L357.3 196.40L357.8 196.40L358.3 196.40L358.8 196.40L359.3 196.40L359.8 196.40L360.3 196.40L360.8 196.40L361.3 196.40L361.8 196.40L362.3 196.40L362.8 196.40L363.3 196.40L363.8 196.40L364.3 196.40L364.8 196.40L365.3 196.40L365.8 196.40L366.3 196.40L366.8 196.40L367.3 196.40L367.8 196.40L368.3 196.40L368.8 196.40L369.3 196.40L369.8 196.40L370.3 196.40L370.8 196.40L371.3 196.40L371.8 196.40L372.3 196.40L372.8 196.40L373.3 196.40L373.8 196.40L374.3 196.40L374.8 196.40L375.3 196.40L375.8 196.40L376.3 196.40L376.8 196.40L377.3 196.40L377.8 196.40L378.3 196.40L378.8 196.40L379.3 196.40L379.8 196.40L380.3 196.40L380.8 196.40L381.3 196.40L381.8 196.40L382.3 196.40L382.8 196.40L383.3 196.40L383.8 196.40L384.3 196.40L384.8 196.40L385.3 196.40L385.8 196.40L386.3 196.40L386.8 196.40L387.3 196.40L387.8 196.40L388.3 196.40L388.8 196.40L389.3 196.40L389.8 196.39L390.3 196.37L390.8 196.29L391.3 196.11L391.8 195.83L392.3 195.62L392.8 195.65L393.3 195.89L393.8 196.15L394.3 196.32L394.8 196.38L395.3 196.40L395.8 196.40L396.3 196.40L396.8 196.40L397.3 196.40L397.8 196.40L398.3 196.40L398.8 196.40L399.3 196.40L399.8 196.40L400.3 196.40L400.8 196.40L401.3 196.40L401.8 196.40L402.3 196.40L402.8 196.40L403.3 196.40L403.8 196.40L404.3 196.40L404.8 196.40L405.3 196.40L405.8 196.40L406.3 196.40L406.8 196.40L407.3 196.40L407.8 196.40L408.3 196.39L408.8 196.38L409.3 196.33L409.8 196.20L410.3 195.96L410.8 195.63L411.3 195.33L411.8 195.20L412.3 195.33L412.8 195.63L413.3 195.96L413.8 196.20L414.3 196.33L414.8 196.38L415.3 196.39L415.8 196.40L416.3 196.40L416.8 196.40L417.3 196.40L417.8 196.40L418.3 196.40L418.8 196.40L419.3 196.40L419.8 196.40L420.3 196.40L420.8 196.40L421.3 196.40L421.8 196.40L422.3 196.40L422.8 196.40L423.3 196.40L423.8 196.40L424.3 196.40L424.8 196.40L425.3 196.40L425.8 196.40L426.3 196.40L426.8 196.40L427.3 196.40L427.8 196.40L428.3 196.40L428.8 196.40L429.3 196.40L429.8 196.40L430.3 196.40L430.8 196.40L431.3 196.40L431.8 196.40L432.3 196.40L432.8 196.40L433.3 196.40L433.8 196.40L434.3 196.40L434.8 196.40L435.3 196.40L435.8 196.40L436.3 196.40L436.8 196.40L437.3 196.40L437.8 196.40L438.3 196.40L438.8 196.40L439.3 196.40L439.8 196.40L440.3 196.40L440.8 196.40L441.3 196.40L441.8 196.40L442.3 196.40L442.8 196.40L443.3 196.40L443.8 196.40L444.3 196.40L444.8 196.40L445.3 196.40L445.8 196.40L446.3 196.40L446.8 196.40L447.3 196.40L447.8 196.40L448.3 196.40L448.8 196.40L449.3 196.40L449.8 196.40L450.3 196.40L450.8 196.40L451.3 196.40L451.8 196.40L452.3 196.40L452.8 196.40L453.3 196.40L453.8 196.40L454.3 196.40L454.8 196.40L455.3 196.40L455.8 196.40L456.3 196.40L456.8 196.40L457.3 196.40L457.8 196.40L458.3 196.40L458.8 196.40L459.3 196.40L459.8 196.40L460.3 196.40L460.8 196.40L461.3 196.40L461.8 196.40L462.3 196.40L462.8 196.40L463.3 196.40L463.8 196.40L464.3 196.40L464.8 196.40L465.3 196.40L465.8 196.40L466.3 196.40L466.8 196.40L467.3 196.40L467.8 196.40L468.3 196.40L468.8 196.40L469.3 196.40L469.8 196.40L470.3 196.40L470.8 196.40L471.3 196.40L471.8 196.40L472.3 196.40L472.8 196.40L473.3 196.40L473.8 196.40L474.3 196.40L474.8 196.40L475.3 196.40L475.8 196.40L476.3 196.40L476.8 196.40L477.3 196.40L477.8 196.40L478.3 196.40L478.8 196.40L479.3 196.40L479.8 196.40L480.3 196.40L480.8 196.40L481.3 196.40L481.8 196.40L482.3 196.40L482.8 196.40L483.3 196.40L483.8 196.40L484.3 196.40L484.8 196.40L485.3 196.40L485.8 196.40L486.3 196.40L486.8 196.40L487.3 196.40L487.8 196.40L488.3 196.40L488.8 196.40L489.3 196.40L489.8 196.40L490.3 196.40L490.8 196.40L491.3 196.40L491.8 196.40L492.3 196.40L492.8 196.40L493.3 196.40L493.8 196.39L494.3 196.38L494.8 196.37L495.3 196.35L495.8 196.32L496.3 196.27L496.8 196.21L497.3 196.13L497.8 196.05L498.3 195.96L498.8 195.89L499.3 195.83L499.8 195.80L500.3 195.81L500.8 195.84L501.3 195.90L501.8 195.98L502.3 196.07L502.8 196.15L503.3 196.22L503.8 196.28L504.3 196.32L504.8 196.35L505.3 196.37L505.8 196.39L506.3 196.39L506.8 196.40L507.3 196.40L507.8 196.40L508.3 196.40L508.8 196.40L509.3 196.40L509.8 196.40L510.3 196.39L510.8 196.30L511.3 195.90L511.8 194.73L512.3 192.73L512.8 191.08L513.3 191.29L513.8 193.16L514.3 195.04L514.8 196.02L515.3 196.33L515.8 196.39L516.3 196.40L516.8 196.40L517.3 196.40L517.8 196.40L518.3 196.40L518.8 196.40L519.3 196.40L519.8 196.40L520.3 196.40L520.8 196.40L521.3 196.40L521.8 196.40L522.3 196.40L522.8 196.40L523.3 196.40L523.8 196.39L524.3 196.38L524.8 196.37L525.3 196.35L525.8 196.32L526.3 196.27L526.8 196.21L527.3 196.13L527.8 196.05L528.3 195.96L528.8 195.89L529.3 195.83L529.8 195.80L530.3 195.81L530.8 195.84L531.3 195.90L531.8 195.98L532.3 196.07L532.8 196.15L533.3 196.22L533.8 196.28L534.3 196.32L534.8 196.35L535.3 196.37L535.8 196.39L536.3 196.39L536.8 196.40L537.3 196.40L537.8 196.40L538.3 196.40L538.8 196.40L539.3 196.40L539.8 196.40L540.3 196.40L540.8 196.40L541.3 196.40L541.8 196.40L542.3 196.40L542.8 196.40L543.3 196.40L543.8 196.40L544.3 196.40L544.8 196.40L545.3 196.40L545.8 196.40L546.3 196.39L546.8 196.36L547.3 196.22L547.8 195.87L548.3 195.49L548.8 195.44L549.3 195.79L549.8 196.16L550.3 196.34L550.8 196.39L551.3 196.40L551.8 196.38L552.3 196.31L552.8 196.03L553.3 195.32L553.8 194.16L554.3 193.11L554.8 193.00L555.3 193.91L555.8 195.11L556.3 195.93L556.8 196.28L557.3 196.38L557.8 196.40L558.3 196.40L558.8 196.40L559.3 196.40L559.8 196.40L560.3 196.40L560.8 196.40L561.3 196.37L561.8 196.28L562.3 196.02L562.8 195.55L563.3 195.06L563.8 194.91L564.3 195.23L564.8 195.75L565.3 196.15L565.8 196.33L566.3 196.39L566.8 196.40L567.3 196.40L567.8 196.40L568.3 196.40L568.8 196.40L569.3 196.40L569.8 196.40L570.3 196.40L570.8 196.40L571.3 196.40L571.8 196.40L572.3 196.40L572.8 196.40L573.3 196.40L573.8 196.40L574.3 196.40L574.8 196.40L575.3 196.40L575.8 196.38L576.3 196.34L576.8 196.23L577.3 196.03L577.8 195.76L578.3 195.51L578.8 195.40L579.3 195.51L579.8 195.76L580.3 196.03L580.8 196.23L581.3 196.34L581.8 196.38L582.3 196.40L582.8 196.40L583.3 196.40L583.8 196.40L584.3 196.40L584.8 196.40L585.3 196.40L585.8 196.40L586.3 196.40L586.8 196.40L587.3 196.40L587.8 196.40L588.3 196.40L588.8 196.40L589.3 196.40L589.8 196.40L590.3 196.40L590.8 196.40L591.3 196.40L591.8 196.40L592.3 196.40L592.8 196.40L593.3 196.40L593.8 196.40L594.3 196.40L594.8 196.40L595.3 196.40L595.8 196.40L596.3 196.40L596.8 196.40L597.3 196.40L597.8 196.40L598.3 196.40L598.8 196.40L599.3 196.40L599.8 196.40L600.3 196.40L600.8 196.40L601.3 196.40L601.8 196.40L601.8 196.4Z" fill="#4aa3df" stroke="#4aa3df" stroke-width="0.45" stroke-linejoin="round"/>
<path d="M205.8 208.2L205.8 208.18L206.3 208.16L206.8 208.16L207.3 208.15L207.8 208.18L208.3 208.19L208.8 208.16L209.3 208.18L209.8 208.15L210.3 208.12L210.8 208.17L211.3 208.19L211.8 208.10L212.3 208.15L212.8 208.18L213.3 208.20L213.8 208.15L214.3 208.18L214.8 208.12L215.3 208.16L215.8 208.03L216.3 208.16L216.8 208.14L217.3 208.19L217.8 208.18L218.3 208.15L218.8 208.16L219.3 208.15L219.8 208.13L220.3 208.10L220.8 208.17L221.3 208.14L221.8 208.15L222.3 208.14L222.8 208.05L223.3 207.94L223.8 207.69L224.3 207.51L224.8 207.36L225.3 207.42L225.8 207.53L226.3 207.80L226.8 207.96L227.3 208.12L227.8 208.09L228.3 208.18L228.8 208.18L229.3 208.16L229.8 208.11L230.3 208.19L230.8 208.18L231.3 208.20L231.8 208.14L232.3 208.15L232.8 208.13L233.3 208.06L233.8 208.16L234.3 208.17L234.8 208.18L235.3 208.17L235.8 208.14L236.3 208.20L236.8 208.19L237.3 208.17L237.8 208.15L238.3 208.15L238.8 208.10L239.3 208.07L239.8 208.19L240.3 208.19L240.8 208.13L241.3 208.15L241.8 208.17L242.3 208.13L242.8 208.16L243.3 208.20L243.8 208.16L244.3 208.14L244.8 208.18L245.3 208.17L245.8 208.14L246.3 208.20L246.8 208.19L247.3 208.13L247.8 208.03L248.3 208.17L248.8 208.15L249.3 208.18L249.8 208.18L250.3 208.18L250.8 208.20L251.3 208.17L251.8 208.17L252.3 208.16L252.8 208.04L253.3 208.02L253.8 207.81L254.3 207.66L254.8 207.60L255.3 207.62L255.8 207.74L256.3 207.87L256.8 208.05L257.3 208.10L257.8 208.16L258.3 208.16L258.8 208.11L259.3 208.14L259.8 208.16L260.3 208.18L260.8 208.15L261.3 208.18L261.8 208.10L262.3 208.16L262.8 208.09L263.3 208.14L263.8 208.14L264.3 208.17L264.8 208.20L265.3 208.19L265.8 208.11L266.3 208.16L266.8 208.16L267.3 208.10L267.8 208.18L268.3 208.16L268.8 208.10L269.3 208.12L269.8 208.08L270.3 208.20L270.8 208.20L271.3 208.15L271.8 208.19L272.3 208.17L272.8 208.16L273.3 208.10L273.8 208.11L274.3 208.19L274.8 208.20L275.3 208.17L275.8 208.18L276.3 208.18L276.8 208.16L277.3 208.19L277.8 208.18L278.3 208.19L278.8 208.15L279.3 208.19L279.8 208.18L280.3 208.19L280.8 208.13L281.3 208.13L281.8 208.18L282.3 208.17L282.8 208.19L283.3 208.16L283.8 208.20L284.3 208.19L284.8 208.18L285.3 208.16L285.8 208.16L286.3 208.14L286.8 208.17L287.3 208.18L287.8 208.19L288.3 208.18L288.8 208.11L289.3 208.17L289.8 208.19L290.3 208.17L290.8 208.15L291.3 208.14L291.8 208.11L292.3 208.11L292.8 208.17L293.3 208.08L293.8 208.16L294.3 208.20L294.8 208.17L295.3 208.19L295.8 208.19L296.3 208.16L296.8 208.15L297.3 208.16L297.8 208.17L298.3 208.17L298.8 208.17L299.3 208.18L299.8 208.18L300.3 208.18L300.8 208.14L301.3 208.19L301.8 208.19L302.3 208.11L302.8 208.15L303.3 208.15L303.8 208.16L304.3 208.18L304.8 208.18L305.3 208.19L305.8 208.16L306.3 208.11L306.8 208.17L307.3 208.13L307.8 208.15L308.3 208.16L308.8 208.16L309.3 208.15L309.8 208.19L310.3 208.18L310.8 208.19L311.3 208.17L311.8 208.14L312.3 208.14L312.8 208.19L313.3 208.15L313.8 208.13L314.3 208.15L314.8 208.13L315.3 208.13L315.8 208.17L316.3 208.17L316.8 208.13L317.3 208.19L317.8 208.18L318.3 208.16L318.8 208.14L319.3 208.16L319.8 208.19L320.3 208.16L320.8 208.17L321.3 208.16L321.8 208.18L322.3 208.18L322.8 208.12L323.3 208.13L323.8 208.19L324.3 208.12L324.8 208.19L325.3 208.20L325.8 208.18L326.3 208.17L326.8 208.18L327.3 208.15L327.8 208.16L328.3 208.19L328.8 208.18L329.3 208.18L329.8 208.17L330.3 208.15L330.8 208.19L331.3 208.16L331.8 208.13L332.3 208.17L332.8 208.20L333.3 208.20L333.8 208.16L334.3 208.13L334.8 208.20L335.3 208.19L335.8 208.16L336.3 208.15L336.8 208.16L337.3 208.19L337.8 208.13L338.3 208.14L338.8 208.17L339.3 208.09L339.8 208.20L340.3 208.18L340.8 208.18L341.3 208.15L341.8 208.20L342.3 208.11L342.8 208.20L343.3 208.18L343.8 208.15L344.3 208.18L344.8 208.13L345.3 208.17L345.8 208.19L346.3 208.11L346.8 208.16L347.3 208.16L347.8 208.13L348.3 208.17L348.8 208.15L349.3 208.17L349.8 208.18L350.3 208.19L350.8 208.20L351.3 208.19L351.8 208.17L352.3 208.11L352.8 208.20L353.3 208.14L353.8 208.13L354.3 208.19L354.8 208.16L355.3 208.19L355.8 208.16L356.3 208.18L356.8 208.17L357.3 208.18L357.8 208.19L358.3 208.17L358.8 208.18L359.3 208.13L359.8 208.20L360.3 208.16L360.8 208.15L361.3 208.19L361.8 208.16L362.3 208.18L362.8 208.17L363.3 208.10L363.8 208.16L364.3 208.15L364.8 208.15L365.3 208.12L365.8 208.12L366.3 208.17L366.8 208.16L367.3 208.14L367.8 208.15L368.3 208.17L368.8 208.19L369.3 208.11L369.8 208.17L370.3 208.17L370.8 208.18L371.3 208.17L371.8 208.16L372.3 208.18L372.8 208.17L373.3 208.13L373.8 208.18L374.3 208.19L374.8 208.17L375.3 208.15L375.8 208.18L376.3 208.18L376.8 208.19L377.3 208.20L377.8 208.12L378.3 208.20L378.8 208.13L379.3 208.16L379.8 208.14L380.3 208.19L380.8 208.16L381.3 208.16L381.8 208.17L382.3 208.19L382.8 208.19L383.3 208.20L383.8 208.14L384.3 208.17L384.8 208.12L385.3 208.12L385.8 208.18L386.3 208.17L386.8 208.20L387.3 208.17L387.8 208.12L388.3 208.19L388.8 208.18L389.3 208.16L389.8 208.15L390.3 208.01L390.8 207.66L391.3 206.82L391.8 205.67L392.3 204.72L392.8 204.87L393.3 205.88L393.8 207.10L394.3 207.80L394.8 208.09L395.3 208.15L395.8 208.16L396.3 208.15L396.8 208.14L397.3 208.13L397.8 208.20L398.3 208.19L398.8 208.14L399.3 208.17L399.8 208.17L400.3 208.13L400.8 208.10L401.3 208.13L401.8 208.14L402.3 208.20L402.8 208.18L403.3 208.16L403.8 208.18L404.3 208.19L404.8 208.19L405.3 208.17L405.8 208.08L406.3 208.15L406.8 208.19L407.3 208.19L407.8 208.17L408.3 208.19L408.8 208.18L409.3 208.10L409.8 207.77L410.3 207.06L410.8 205.97L411.3 204.70L411.8 204.18L412.3 204.68L412.8 205.93L413.3 207.14L413.8 207.80L414.3 208.06L414.8 208.13L415.3 208.12L415.8 208.18L416.3 208.18L416.8 208.18L417.3 208.15L417.8 208.16L418.3 208.18L418.8 208.19L419.3 208.18L419.8 208.18L420.3 208.15L420.8 208.09L421.3 208.18L421.8 208.11L422.3 208.10L422.8 208.13L423.3 208.18L423.8 208.19L424.3 208.18L424.8 208.17L425.3 208.14L425.8 208.18L426.3 208.14L426.8 208.15L427.3 208.18L427.8 208.17L428.3 208.17L428.8 208.14L429.3 208.11L429.8 208.17L430.3 208.19L430.8 208.18L431.3 208.15L431.8 208.14L432.3 208.16L432.8 208.15L433.3 208.15L433.8 208.15L434.3 208.17L434.8 208.15L435.3 208.18L435.8 208.18L436.3 208.18L436.8 208.15L437.3 208.16L437.8 208.12L438.3 208.14L438.8 208.20L439.3 208.18L439.8 208.16L440.3 208.19L440.8 208.14L441.3 208.20L441.8 208.19L442.3 208.14L442.8 208.15L443.3 208.16L443.8 208.18L444.3 208.19L444.8 208.18L445.3 208.19L445.8 208.11L446.3 208.16L446.8 208.12L447.3 208.18L447.8 208.20L448.3 208.18L448.8 208.12L449.3 208.20L449.8 208.12L450.3 208.14L450.8 208.18L451.3 208.18L451.8 208.14L452.3 208.18L452.8 208.20L453.3 208.17L453.8 208.20L454.3 208.18L454.8 208.20L455.3 208.15L455.8 208.13L456.3 208.19L456.8 208.19L457.3 208.16L457.8 208.19L458.3 208.15L458.8 208.15L459.3 208.16L459.8 208.16L460.3 208.15L460.8 208.11L461.3 208.15L461.8 208.16L462.3 208.13L462.8 208.15L463.3 208.13L463.8 208.16L464.3 208.12L464.8 208.17L465.3 208.17L465.8 208.19L466.3 208.08L466.8 208.20L467.3 208.19L467.8 208.18L468.3 208.19L468.8 208.11L469.3 208.17L469.8 208.11L470.3 208.13L470.8 208.18L471.3 208.17L471.8 208.18L472.3 208.12L472.8 208.05L473.3 207.78L473.8 207.34L474.3 206.70L474.8 206.18L475.3 206.25L475.8 206.81L476.3 207.41L476.8 207.89L477.3 208.04L477.8 208.16L478.3 208.18L478.8 208.16L479.3 208.16L479.8 208.17L480.3 208.12L480.8 208.19L481.3 208.20L481.8 208.18L482.3 208.18L482.8 208.10L483.3 208.20L483.8 208.20L484.3 208.19L484.8 208.16L485.3 208.12L485.8 208.18L486.3 208.15L486.8 208.17L487.3 208.20L487.8 208.17L488.3 208.16L488.8 208.15L489.3 208.15L489.8 208.16L490.3 208.18L490.8 208.18L491.3 208.10L491.8 208.19L492.3 208.19L492.8 208.18L493.3 208.16L493.8 208.14L494.3 208.19L494.8 208.16L495.3 208.17L495.8 208.13L496.3 208.20L496.8 208.19L497.3 208.19L497.8 208.06L498.3 208.16L498.8 208.17L499.3 208.19L499.8 208.18L500.3 208.16L500.8 208.19L501.3 208.14L501.8 208.20L502.3 208.14L502.8 208.08L503.3 208.18L503.8 208.19L504.3 208.20L504.8 208.12L505.3 208.17L505.8 208.14L506.3 208.14L506.8 208.15L507.3 208.15L507.8 208.17L508.3 208.17L508.8 208.17L509.3 208.10L509.8 208.12L510.3 208.11L510.8 207.86L511.3 206.91L511.8 204.89L512.3 201.74L512.8 199.42L513.3 199.71L513.8 202.38L514.3 205.40L514.8 207.21L515.3 207.95L515.8 208.09L516.3 208.06L516.8 208.15L517.3 208.19L517.8 208.20L518.3 208.16L518.8 208.18L519.3 208.18L519.8 208.10L520.3 208.20L520.8 208.15L521.3 208.18L521.8 208.16L522.3 208.18L522.8 208.19L523.3 208.18L523.8 208.19L524.3 208.16L524.8 208.19L525.3 208.14L525.8 208.16L526.3 208.18L526.8 208.14L527.3 208.17L527.8 208.17L528.3 208.18L528.8 208.07L529.3 208.13L529.8 208.15L530.3 208.13L530.8 208.11L531.3 208.16L531.8 208.15L532.3 208.17L532.8 208.15L533.3 208.10L533.8 207.97L534.3 207.64L534.8 207.13L535.3 206.56L535.8 206.23L536.3 206.24L536.8 206.67L537.3 207.24L537.8 207.65L538.3 207.95L538.8 208.12L539.3 208.16L539.8 208.18L540.3 208.07L540.8 208.18L541.3 208.19L541.8 208.16L542.3 208.10L542.8 208.19L543.3 208.18L543.8 208.18L544.3 208.14L544.8 208.15L545.3 208.15L545.8 208.16L546.3 208.12L546.8 207.90L547.3 207.35L547.8 206.57L548.3 205.81L548.8 205.75L549.3 206.38L549.8 207.23L550.3 207.85L550.8 208.04L551.3 208.16L551.8 208.12L552.3 207.93L552.8 207.43L553.3 206.34L553.8 204.77L554.3 203.46L554.8 203.26L555.3 204.43L555.8 206.05L556.3 207.29L556.8 207.85L557.3 208.08L557.8 208.18L558.3 208.18L558.8 208.18L559.3 208.18L559.8 208.19L560.3 208.15L560.8 208.08L561.3 207.84L561.8 207.33L562.3 206.51L562.8 205.34L563.3 204.45L563.8 204.18L564.3 204.76L564.8 205.86L565.3 206.88L565.8 207.62L566.3 207.92L566.8 208.14L567.3 208.14L567.8 208.18L568.3 208.06L568.8 208.16L569.3 208.19L569.8 208.08L570.3 208.18L570.8 208.20L571.3 208.20L571.8 208.13L572.3 208.19L572.8 208.19L573.3 208.15L573.8 208.16L574.3 208.20L574.8 208.20L575.3 208.17L575.8 208.14L576.3 208.07L576.8 207.81L577.3 207.44L577.8 206.89L578.3 206.40L578.8 206.16L579.3 206.39L579.8 206.90L580.3 207.44L580.8 207.85L581.3 207.96L581.8 208.16L582.3 208.18L582.8 208.19L583.3 208.16L583.8 208.14L584.3 208.19L584.8 208.17L585.3 208.17L585.8 208.18L586.3 208.15L586.8 208.15L587.3 208.10L587.8 208.14L588.3 208.15L588.8 208.13L589.3 208.17L589.8 208.12L590.3 208.14L590.8 208.14L591.3 208.18L591.8 208.11L592.3 208.14L592.8 208.13L593.3 208.18L593.8 208.19L594.3 208.16L594.8 208.20L595.3 208.15L595.8 208.20L596.3 208.17L596.8 208.20L597.3 208.13L597.8 208.15L598.3 208.05L598.8 208.19L599.3 208.14L599.8 208.14L600.3 208.12L600.8 208.17L601.3 208.17L601.8 208.20L601.8 208.2Z" fill="#2ea043" stroke="#2ea043" stroke-width="0.55" stroke-linejoin="round"/>
<path d="M205.8 220.3L205.8 220.30L206.3 220.30L206.8 220.30L207.3 220.30L207.8 220.30L208.3 220.30L208.8 220.30L209.3 220.30L209.8 220.30L210.3 220.30L210.8 220.30L211.3 220.30L211.8 220.30L212.3 220.30L212.8 220.30L213.3 220.30L213.8 220.30L214.3 220.30L214.8 220.30L215.3 220.30L215.8 220.30L216.3 220.30L216.8 220.30L217.3 220.30L217.8 220.30L218.3 220.30L218.8 220.30L219.3 220.30L219.8 220.30L220.3 220.30L220.8 220.30L221.3 220.30L221.8 220.30L222.3 220.30L222.8 220.30L223.3 220.30L223.8 220.30L224.3 220.30L224.8 220.30L225.3 220.30L225.8 220.30L226.3 220.30L226.8 220.30L227.3 220.30L227.8 220.30L228.3 220.30L228.8 220.30L229.3 220.30L229.8 220.30L230.3 220.30L230.8 220.30L231.3 220.30L231.8 220.30L232.3 220.30L232.8 220.30L233.3 220.30L233.8 220.30L234.3 220.30L234.8 220.30L235.3 220.30L235.8 220.30L236.3 220.30L236.8 220.30L237.3 220.30L237.8 220.30L238.3 220.30L238.8 220.30L239.3 220.30L239.8 220.30L240.3 220.30L240.8 220.30L241.3 220.30L241.8 220.30L242.3 220.30L242.8 220.30L243.3 220.30L243.8 220.30L244.3 220.30L244.8 220.30L245.3 220.30L245.8 220.30L246.3 220.30L246.8 220.30L247.3 220.30L247.8 220.30L248.3 220.30L248.8 220.30L249.3 220.30L249.8 220.30L250.3 220.30L250.8 220.30L251.3 220.30L251.8 220.30L252.3 220.30L252.8 220.30L253.3 220.30L253.8 220.30L254.3 220.30L254.8 220.30L255.3 220.30L255.8 220.30L256.3 220.30L256.8 220.30L257.3 220.30L257.8 220.30L258.3 220.30L258.8 220.30L259.3 220.30L259.8 220.30L260.3 220.30L260.8 220.30L261.3 220.30L261.8 220.30L262.3 220.30L262.8 220.30L263.3 220.30L263.8 220.30L264.3 220.30L264.8 220.30L265.3 220.30L265.8 220.30L266.3 220.30L266.8 220.30L267.3 220.30L267.8 220.30L268.3 220.30L268.8 220.30L269.3 220.30L269.8 220.30L270.3 220.30L270.8 220.30L271.3 220.30L271.8 220.30L272.3 220.30L272.8 220.30L273.3 220.30L273.8 220.30L274.3 220.30L274.8 220.30L275.3 220.30L275.8 220.30L276.3 220.30L276.8 220.30L277.3 220.30L277.8 220.30L278.3 220.30L278.8 220.30L279.3 220.30L279.8 220.30L280.3 220.30L280.8 220.30L281.3 220.30L281.8 220.30L282.3 220.30L282.8 220.30L283.3 220.30L283.8 220.30L284.3 220.30L284.8 220.30L285.3 220.30L285.8 220.30L286.3 220.30L286.8 220.30L287.3 220.30L287.8 220.30L288.3 220.30L288.8 220.30L289.3 220.30L289.8 220.30L290.3 220.30L290.8 220.30L291.3 220.30L291.8 220.30L292.3 220.30L292.8 220.30L293.3 220.30L293.8 220.30L294.3 220.30L294.8 220.30L295.3 220.30L295.8 220.30L296.3 220.30L296.8 220.30L297.3 220.30L297.8 220.30L298.3 220.30L298.8 220.30L299.3 220.30L299.8 220.30L300.3 220.30L300.8 220.30L301.3 220.30L301.8 220.30L302.3 220.30L302.8 220.30L303.3 220.30L303.8 220.30L304.3 220.30L304.8 220.30L305.3 220.30L305.8 220.30L306.3 220.30L306.8 220.30L307.3 220.30L307.8 220.30L308.3 220.30L308.8 220.30L309.3 220.30L309.8 220.30L310.3 220.30L310.8 220.30L311.3 220.30L311.8 220.30L312.3 220.30L312.8 220.30L313.3 220.30L313.8 220.30L314.3 220.30L314.8 220.30L315.3 220.30L315.8 220.30L316.3 220.30L316.8 220.30L317.3 220.30L317.8 220.30L318.3 220.30L318.8 220.30L319.3 220.30L319.8 220.30L320.3 220.30L320.8 220.30L321.3 220.30L321.8 220.30L322.3 220.30L322.8 220.30L323.3 220.30L323.8 220.30L324.3 220.30L324.8 220.30L325.3 220.30L325.8 220.30L326.3 220.30L326.8 220.30L327.3 220.30L327.8 220.30L328.3 220.30L328.8 220.30L329.3 220.30L329.8 220.30L330.3 220.30L330.8 220.30L331.3 220.30L331.8 220.30L332.3 220.30L332.8 220.30L333.3 220.30L333.8 220.30L334.3 220.30L334.8 220.30L335.3 220.30L335.8 220.30L336.3 220.30L336.8 220.30L337.3 220.30L337.8 220.30L338.3 220.30L338.8 220.30L339.3 220.30L339.8 220.30L340.3 220.30L340.8 220.30L341.3 220.30L341.8 220.30L342.3 220.30L342.8 220.30L343.3 220.30L343.8 220.30L344.3 220.30L344.8 220.30L345.3 220.30L345.8 220.30L346.3 220.30L346.8 220.30L347.3 220.30L347.8 220.30L348.3 220.30L348.8 220.30L349.3 220.30L349.8 220.30L350.3 220.30L350.8 220.30L351.3 220.30L351.8 220.30L352.3 220.30L352.8 220.30L353.3 220.30L353.8 220.30L354.3 220.30L354.8 220.30L355.3 220.30L355.8 220.30L356.3 220.30L356.8 220.30L357.3 220.30L357.8 220.30L358.3 220.30L358.8 220.30L359.3 220.30L359.8 220.30L360.3 220.30L360.8 220.30L361.3 220.30L361.8 220.30L362.3 220.30L362.8 220.30L363.3 220.30L363.8 220.30L364.3 220.30L364.8 220.30L365.3 220.30L365.8 220.30L366.3 220.30L366.8 220.30L367.3 220.30L367.8 220.30L368.3 220.30L368.8 220.30L369.3 220.30L369.8 220.30L370.3 220.30L370.8 220.30L371.3 220.30L371.8 220.30L372.3 220.30L372.8 220.30L373.3 220.30L373.8 220.30L374.3 220.30L374.8 220.30L375.3 220.30L375.8 220.30L376.3 220.30L376.8 220.30L377.3 220.30L377.8 220.30L378.3 220.30L378.8 220.30L379.3 220.30L379.8 220.30L380.3 220.30L380.8 220.30L381.3 220.30L381.8 220.30L382.3 220.30L382.8 220.30L383.3 220.30L383.8 220.30L384.3 220.30L384.8 220.30L385.3 220.30L385.8 220.30L386.3 220.30L386.8 220.30L387.3 220.30L387.8 220.30L388.3 220.30L388.8 220.30L389.3 220.30L389.8 220.29L390.3 220.23L390.8 220.03L391.3 219.56L391.8 218.88L392.3 218.35L392.8 218.42L393.3 219.02L393.8 219.68L394.3 220.09L394.8 220.25L395.3 220.29L395.8 220.30L396.3 220.30L396.8 220.30L397.3 220.30L397.8 220.30L398.3 220.30L398.8 220.30L399.3 220.30L399.8 220.30L400.3 220.30L400.8 220.30L401.3 220.30L401.8 220.30L402.3 220.30L402.8 220.30L403.3 220.30L403.8 220.30L404.3 220.30L404.8 220.30L405.3 220.30L405.8 220.30L406.3 220.30L406.8 220.30L407.3 220.30L407.8 220.30L408.3 220.30L408.8 220.30L409.3 220.27L409.8 220.18L410.3 219.88L410.8 219.30L411.3 218.62L411.8 218.30L412.3 218.62L412.8 219.30L413.3 219.88L413.8 220.18L414.3 220.27L414.8 220.30L415.3 220.30L415.8 220.30L416.3 220.30L416.8 220.30L417.3 220.30L417.8 220.30L418.3 220.30L418.8 220.30L419.3 220.30L419.8 220.30L420.3 220.30L420.8 220.30L421.3 220.30L421.8 220.30L422.3 220.30L422.8 220.30L423.3 220.30L423.8 220.30L424.3 220.30L424.8 220.30L425.3 220.30L425.8 220.30L426.3 220.30L426.8 220.30L427.3 220.30L427.8 220.30L428.3 220.30L428.8 220.30L429.3 220.30L429.8 220.30L430.3 220.30L430.8 220.30L431.3 220.30L431.8 220.30L432.3 220.30L432.8 220.30L433.3 220.30L433.8 220.30L434.3 220.30L434.8 220.30L435.3 220.30L435.8 220.30L436.3 220.30L436.8 220.30L437.3 220.30L437.8 220.30L438.3 220.30L438.8 220.30L439.3 220.30L439.8 220.30L440.3 220.30L440.8 220.30L441.3 220.30L441.8 220.30L442.3 220.30L442.8 220.30L443.3 220.30L443.8 220.30L444.3 220.30L444.8 220.30L445.3 220.30L445.8 220.30L446.3 220.30L446.8 220.30L447.3 220.30L447.8 220.30L448.3 220.30L448.8 220.30L449.3 220.30L449.8 220.30L450.3 220.30L450.8 220.30L451.3 220.30L451.8 220.30L452.3 220.30L452.8 220.30L453.3 220.30L453.8 220.30L454.3 220.30L454.8 220.30L455.3 220.30L455.8 220.30L456.3 220.30L456.8 220.30L457.3 220.30L457.8 220.30L458.3 220.30L458.8 220.30L459.3 220.30L459.8 220.30L460.3 220.30L460.8 220.30L461.3 220.30L461.8 220.30L462.3 220.30L462.8 220.30L463.3 220.30L463.8 220.30L464.3 220.30L464.8 220.30L465.3 220.30L465.8 220.30L466.3 220.30L466.8 220.30L467.3 220.30L467.8 220.30L468.3 220.30L468.8 220.30L469.3 220.30L469.8 220.30L470.3 220.30L470.8 220.30L471.3 220.30L471.8 220.30L472.3 220.30L472.8 220.30L473.3 220.30L473.8 220.30L474.3 220.30L474.8 220.30L475.3 220.30L475.8 220.30L476.3 220.30L476.8 220.30L477.3 220.30L477.8 220.30L478.3 220.30L478.8 220.30L479.3 220.30L479.8 220.30L480.3 220.30L480.8 220.30L481.3 220.30L481.8 220.30L482.3 220.30L482.8 220.30L483.3 220.30L483.8 220.30L484.3 220.30L484.8 220.30L485.3 220.30L485.8 220.30L486.3 220.30L486.8 220.30L487.3 220.30L487.8 220.30L488.3 220.30L488.8 220.30L489.3 220.30L489.8 220.30L490.3 220.30L490.8 220.30L491.3 220.30L491.8 220.30L492.3 220.30L492.8 220.30L493.3 220.30L493.8 220.30L494.3 220.30L494.8 220.30L495.3 220.30L495.8 220.30L496.3 220.30L496.8 220.30L497.3 220.30L497.8 220.30L498.3 220.30L498.8 220.30L499.3 220.30L499.8 220.30L500.3 220.30L500.8 220.30L501.3 220.30L501.8 220.30L502.3 220.30L502.8 220.30L503.3 220.30L503.8 220.30L504.3 220.30L504.8 220.30L505.3 220.30L505.8 220.30L506.3 220.30L506.8 220.30L507.3 220.30L507.8 220.30L508.3 220.30L508.8 220.30L509.3 220.30L509.8 220.30L510.3 220.29L510.8 220.22L511.3 219.89L511.8 218.93L512.3 217.30L512.8 215.95L513.3 216.12L513.8 217.65L514.3 219.19L514.8 219.99L515.3 220.24L515.8 220.29L516.3 220.30L516.8 220.30L517.3 220.30L517.8 220.30L518.3 220.30L518.8 220.30L519.3 220.30L519.8 220.30L520.3 220.30L520.8 220.30L521.3 220.30L521.8 220.30L522.3 220.30L522.8 220.30L523.3 220.30L523.8 220.30L524.3 220.30L524.8 220.30L525.3 220.30L525.8 220.30L526.3 220.30L526.8 220.30L527.3 220.30L527.8 220.30L528.3 220.30L528.8 220.30L529.3 220.30L529.8 220.30L530.3 220.30L530.8 220.30L531.3 220.30L531.8 220.30L532.3 220.30L532.8 220.30L533.3 220.28L533.8 220.21L534.3 219.96L534.8 219.38L535.3 218.52L535.8 217.87L536.3 217.95L536.8 218.70L537.3 219.53L537.8 220.04L538.3 220.24L538.8 220.29L539.3 220.30L539.8 220.30L540.3 220.30L540.8 220.30L541.3 220.30L541.8 220.30L542.3 220.30L542.8 220.30L543.3 220.30L543.8 220.30L544.3 220.30L544.8 220.30L545.3 220.30L545.8 220.30L546.3 220.28L546.8 220.20L547.3 219.90L547.8 219.20L548.3 218.17L548.8 217.38L549.3 217.48L549.8 218.38L550.3 219.37L550.8 219.98L551.3 220.22L551.8 220.27L552.3 220.22L552.8 219.98L553.3 219.37L553.8 218.38L554.3 217.48L554.8 217.38L555.3 218.17L555.8 219.20L556.3 219.90L556.8 220.19L557.3 220.26L557.8 220.19L558.3 219.90L558.8 219.20L559.3 218.17L559.8 217.38L560.3 217.48L560.8 218.38L561.3 219.37L561.8 219.98L562.3 220.20L562.8 220.18L563.3 219.90L563.8 219.20L564.3 218.17L564.8 217.38L565.3 217.48L565.8 218.38L566.3 219.37L566.8 219.98L567.3 220.22L567.8 220.29L568.3 220.30L568.8 220.30L569.3 220.30L569.8 220.30L570.3 220.30L570.8 220.30L571.3 220.30L571.8 220.30L572.3 220.30L572.8 220.30L573.3 220.30L573.8 220.30L574.3 220.30L574.8 220.30L575.3 220.30L575.8 220.29L576.3 220.26L576.8 220.13L577.3 219.71L577.8 218.90L578.3 217.95L578.8 217.50L579.3 217.95L579.8 218.90L580.3 219.71L580.8 220.13L581.3 220.26L581.8 220.29L582.3 220.30L582.8 220.30L583.3 220.30L583.8 220.30L584.3 220.30L584.8 220.30L585.3 220.30L585.8 220.30L586.3 220.30L586.8 220.30L587.3 220.30L587.8 220.30L588.3 220.30L588.8 220.30L589.3 220.30L589.8 220.30L590.3 220.30L590.8 220.30L591.3 220.30L591.8 220.30L592.3 220.30L592.8 220.30L593.3 220.30L593.8 220.30L594.3 220.30L594.8 220.30L595.3 220.30L595.8 220.30L596.3 220.30L596.8 220.30L597.3 220.30L597.8 220.30L598.3 220.30L598.8 220.30L599.3 220.30L599.8 220.30L600.3 220.30L600.8 220.30L601.3 220.30L601.8 220.30L601.8 220.3Z" fill="#df1f8a" stroke="#df1f8a" stroke-width="0.45" stroke-linejoin="round"/>
<line x1="205.80" y1="232.30" x2="601.80" y2="232.30" stroke="#c77fb3" stroke-width="0.7" stroke-dasharray="2 1"/>
<path d="M205.8 232.4L205.8 232.40L206.3 232.40L206.8 232.40L207.3 232.40L207.8 232.40L208.3 232.40L208.8 232.40L209.3 232.40L209.8 232.40L210.3 232.40L210.8 232.37L211.3 232.08L211.8 231.00L212.3 229.58L212.8 229.79L213.3 231.30L213.8 232.19L214.3 232.36L214.8 232.19L215.3 231.47L215.8 230.52L216.3 230.66L216.8 231.66L217.3 232.24L217.8 232.18L218.3 231.47L218.8 230.52L219.3 230.66L219.8 231.66L220.3 232.26L220.8 232.39L221.3 232.40L221.8 232.40L222.3 232.40L222.8 232.33L223.3 231.77L223.8 229.61L224.3 226.76L224.8 227.19L225.3 230.19L225.8 231.93L226.3 231.94L226.8 230.54L227.3 228.64L227.8 228.92L228.3 230.93L228.8 232.11L229.3 232.37L229.8 232.40L230.3 232.40L230.8 232.40L231.3 232.40L231.8 232.40L232.3 232.40L232.8 232.40L233.3 232.40L233.8 232.40L234.3 232.40L234.8 232.40L235.3 232.40L235.8 232.40L236.3 232.40L236.8 232.40L237.3 232.40L237.8 232.40L238.3 232.40L238.8 232.40L239.3 232.40L239.8 232.40L240.3 232.40L240.8 232.40L241.3 232.40L241.8 232.40L242.3 232.40L242.8 232.40L243.3 232.40L243.8 232.40L244.3 232.40L244.8 232.40L245.3 232.40L245.8 232.40L246.3 232.40L246.8 232.40L247.3 232.38L247.8 232.24L248.3 231.70L248.8 230.99L249.3 231.10L249.8 231.85L250.3 232.29L250.8 232.39L251.3 232.40L251.8 232.33L252.3 231.77L252.8 229.61L253.3 226.76L253.8 227.19L254.3 230.19L254.8 231.94L255.3 232.05L255.8 231.00L256.3 229.58L256.8 229.79L257.3 231.30L257.8 232.19L258.3 232.38L258.8 232.40L259.3 232.40L259.8 232.40L260.3 232.40L260.8 232.40L261.3 232.40L261.8 232.40L262.3 232.40L262.8 232.40L263.3 232.40L263.8 232.40L264.3 232.40L264.8 232.40L265.3 232.40L265.8 232.40L266.3 232.40L266.8 232.40L267.3 232.40L267.8 232.40L268.3 232.40L268.8 232.40L269.3 232.40L269.8 232.40L270.3 232.40L270.8 232.40L271.3 232.40L271.8 232.40L272.3 232.40L272.8 232.40L273.3 232.40L273.8 232.40L274.3 232.40L274.8 232.40L275.3 232.40L275.8 232.40L276.3 232.40L276.8 232.40L277.3 232.40L277.8 232.40L278.3 232.40L278.8 232.40L279.3 232.40L279.8 232.40L280.3 232.40L280.8 232.40L281.3 232.40L281.8 232.40L282.3 232.40L282.8 232.40L283.3 232.40L283.8 232.40L284.3 232.40L284.8 232.40L285.3 232.40L285.8 232.40L286.3 232.40L286.8 232.40L287.3 232.40L287.8 232.40L288.3 232.40L288.8 232.40L289.3 232.40L289.8 232.40L290.3 232.40L290.8 232.40L291.3 232.40L291.8 232.40L292.3 232.40L292.8 232.40L293.3 232.40L293.8 232.40L294.3 232.40L294.8 232.40L295.3 232.40L295.8 232.40L296.3 232.40L296.8 232.40L297.3 232.40L297.8 232.40L298.3 232.40L298.8 232.40L299.3 232.40L299.8 232.40L300.3 232.40L300.8 232.40L301.3 232.40L301.8 232.40L302.3 232.40L302.8 232.40L303.3 232.40L303.8 232.40L304.3 232.40L304.8 232.40L305.3 232.40L305.8 232.40L306.3 232.40L306.8 232.40L307.3 232.40L307.8 232.40L308.3 232.40L308.8 232.40L309.3 232.40L309.8 232.40L310.3 232.40L310.8 232.40L311.3 232.40L311.8 232.40L312.3 232.40L312.8 232.40L313.3 232.40L313.8 232.40L314.3 232.40L314.8 232.40L315.3 232.40L315.8 232.40L316.3 232.40L316.8 232.40L317.3 232.40L317.8 232.40L318.3 232.40L318.8 232.40L319.3 232.40L319.8 232.40L320.3 232.40L320.8 232.40L321.3 232.40L321.8 232.40L322.3 232.40L322.8 232.40L323.3 232.40L323.8 232.40L324.3 232.40L324.8 232.40L325.3 232.40L325.8 232.40L326.3 232.40L326.8 232.40L327.3 232.40L327.8 232.40L328.3 232.40L328.8 232.40L329.3 232.40L329.8 232.40L330.3 232.38L330.8 232.17L331.3 231.38L331.8 230.33L332.3 230.49L332.8 231.59L333.3 232.24L333.8 232.38L334.3 232.31L334.8 231.77L335.3 230.37L335.8 229.40L336.3 230.37L336.8 231.77L337.3 232.29L337.8 232.18L338.3 231.47L338.8 230.52L339.3 230.66L339.8 231.66L340.3 232.26L340.8 232.39L341.3 232.40L341.8 232.40L342.3 232.40L342.8 232.40L343.3 232.40L343.8 232.40L344.3 232.40L344.8 232.40L345.3 232.40L345.8 232.40L346.3 232.40L346.8 232.40L347.3 232.40L347.8 232.40L348.3 232.40L348.8 232.40L349.3 232.40L349.8 232.40L350.3 232.40L350.8 232.40L351.3 232.40L351.8 232.40L352.3 232.40L352.8 232.40L353.3 232.40L353.8 232.40L354.3 232.40L354.8 232.40L355.3 232.40L355.8 232.40L356.3 232.40L356.8 232.40L357.3 232.40L357.8 232.40L358.3 232.40L358.8 232.40L359.3 232.40L359.8 232.40L360.3 232.40L360.8 232.40L361.3 232.40L361.8 232.40L362.3 232.40L362.8 232.40L363.3 232.40L363.8 232.40L364.3 232.40L364.8 232.40L365.3 232.40L365.8 232.40L366.3 232.40L366.8 232.40L367.3 232.40L367.8 232.40L368.3 232.40L368.8 232.40L369.3 232.40L369.8 232.40L370.3 232.40L370.8 232.40L371.3 232.40L371.8 232.40L372.3 232.40L372.8 232.40L373.3 232.40L373.8 232.40L374.3 232.40L374.8 232.40L375.3 232.40L375.8 232.40L376.3 232.40L376.8 232.40L377.3 232.40L377.8 232.40L378.3 232.40L378.8 232.40L379.3 232.40L379.8 232.40L380.3 232.40L380.8 232.40L381.3 232.40L381.8 232.40L382.3 232.40L382.8 232.40L383.3 232.40L383.8 232.40L384.3 232.40L384.8 232.40L385.3 232.40L385.8 232.40L386.3 232.40L386.8 232.40L387.3 232.40L387.8 232.40L388.3 232.40L388.8 232.40L389.3 232.40L389.8 232.40L390.3 232.40L390.8 232.40L391.3 232.40L391.8 232.40L392.3 232.40L392.8 232.40L393.3 232.40L393.8 232.40L394.3 232.40L394.8 232.40L395.3 232.40L395.8 232.40L396.3 232.40L396.8 232.40L397.3 232.40L397.8 232.40L398.3 232.40L398.8 232.40L399.3 232.40L399.8 232.40L400.3 232.40L400.8 232.40L401.3 232.40L401.8 232.40L402.3 232.40L402.8 232.40L403.3 232.40L403.8 232.40L404.3 232.40L404.8 232.40L405.3 232.40L405.8 232.40L406.3 232.40L406.8 232.40L407.3 232.40L407.8 232.40L408.3 232.40L408.8 232.40L409.3 232.40L409.8 232.38L410.3 232.21L410.8 231.53L411.3 230.20L411.8 229.40L412.3 230.20L412.8 231.53L413.3 232.21L413.8 232.38L414.3 232.40L414.8 232.40L415.3 232.40L415.8 232.40L416.3 232.40L416.8 232.40L417.3 232.40L417.8 232.40L418.3 232.40L418.8 232.40L419.3 232.40L419.8 232.40L420.3 232.40L420.8 232.40L421.3 232.40L421.8 232.40L422.3 232.40L422.8 232.40L423.3 232.40L423.8 232.40L424.3 232.40L424.8 232.40L425.3 232.40L425.8 232.40L426.3 232.40L426.8 232.40L427.3 232.40L427.8 232.40L428.3 232.40L428.8 232.40L429.3 232.40L429.8 232.40L430.3 232.40L430.8 232.40L431.3 232.40L431.8 232.40L432.3 232.40L432.8 232.40L433.3 232.40L433.8 232.40L434.3 232.40L434.8 232.40L435.3 232.40L435.8 232.40L436.3 232.40L436.8 232.40L437.3 232.40L437.8 232.40L438.3 232.40L438.8 232.40L439.3 232.40L439.8 232.40L440.3 232.40L440.8 232.40L441.3 232.40L441.8 232.40L442.3 232.40L442.8 232.40L443.3 232.40L443.8 232.40L444.3 232.40L444.8 232.40L445.3 232.40L445.8 232.40L446.3 232.40L446.8 232.40L447.3 232.40L447.8 232.40L448.3 232.40L448.8 232.40L449.3 232.40L449.8 232.40L450.3 232.40L450.8 232.40L451.3 232.40L451.8 232.40L452.3 232.40L452.8 232.38L453.3 232.29L453.8 231.93L454.3 231.17L454.8 230.48L455.3 230.57L455.8 231.33L456.3 231.95L456.8 231.97L457.3 231.47L457.8 230.96L458.3 231.03L458.8 231.61L459.3 232.12L459.8 232.34L460.3 232.39L460.8 232.40L461.3 232.40L461.8 232.40L462.3 232.40L462.8 232.40L463.3 232.40L463.8 232.40L464.3 232.40L464.8 232.39L465.3 232.33L465.8 232.12L466.3 231.66L466.8 231.25L467.3 231.30L467.8 231.77L468.3 232.18L468.8 232.35L469.3 232.39L469.8 232.40L470.3 232.40L470.8 232.40L471.3 232.40L471.8 232.40L472.3 232.40L472.8 232.40L473.3 232.40L473.8 232.40L474.3 232.40L474.8 232.40L475.3 232.40L475.8 232.40L476.3 232.40L476.8 232.40L477.3 232.40L477.8 232.40L478.3 232.40L478.8 232.40L479.3 232.40L479.8 232.39L480.3 232.32L480.8 232.04L481.3 231.48L481.8 230.96L482.3 231.03L482.8 231.61L483.3 232.12L483.8 232.34L484.3 232.39L484.8 232.40L485.3 232.40L485.8 232.40L486.3 232.40L486.8 232.40L487.3 232.40L487.8 232.40L488.3 232.40L488.8 232.40L489.3 232.40L489.8 232.40L490.3 232.40L490.8 232.40L491.3 232.40L491.8 232.40L492.3 232.40L492.8 232.40L493.3 232.40L493.8 232.40L494.3 232.40L494.8 232.40L495.3 232.40L495.8 232.40L496.3 232.40L496.8 232.40L497.3 232.40L497.8 232.40L498.3 232.40L498.8 232.40L499.3 232.40L499.8 232.40L500.3 232.40L500.8 232.40L501.3 232.40L501.8 232.40L502.3 232.40L502.8 232.40L503.3 232.40L503.8 232.40L504.3 232.40L504.8 232.40L505.3 232.40L505.8 232.40L506.3 232.40L506.8 232.40L507.3 232.40L507.8 232.40L508.3 232.40L508.8 232.40L509.3 232.40L509.8 232.40L510.3 232.40L510.8 232.40L511.3 232.40L511.8 232.40L512.3 232.40L512.8 232.40L513.3 232.40L513.8 232.40L514.3 232.40L514.8 232.40L515.3 232.40L515.8 232.40L516.3 232.40L516.8 232.40L517.3 232.40L517.8 232.40L518.3 232.40L518.8 232.40L519.3 232.40L519.8 232.40L520.3 232.40L520.8 232.40L521.3 232.40L521.8 232.40L522.3 232.40L522.8 232.40L523.3 232.40L523.8 232.40L524.3 232.40L524.8 232.40L525.3 232.40L525.8 232.40L526.3 232.40L526.8 232.40L527.3 232.40L527.8 232.40L528.3 232.40L528.8 232.40L529.3 232.40L529.8 232.40L530.3 232.40L530.8 232.40L531.3 232.40L531.8 232.40L532.3 232.40L532.8 232.40L533.3 232.40L533.8 232.40L534.3 232.40L534.8 232.40L535.3 232.40L535.8 232.40L536.3 232.40L536.8 232.40L537.3 232.40L537.8 232.40L538.3 232.40L538.8 232.40L539.3 232.40L539.8 232.40L540.3 232.40L540.8 232.40L541.3 232.40L541.8 232.40L542.3 232.40L542.8 232.40L543.3 232.40L543.8 232.40L544.3 232.40L544.8 232.40L545.3 232.40L545.8 232.40L546.3 232.40L546.8 232.40L547.3 232.40L547.8 232.40L548.3 232.40L548.8 232.40L549.3 232.40L549.8 232.40L550.3 232.40L550.8 232.40L551.3 232.40L551.8 232.40L552.3 232.40L552.8 232.40L553.3 232.40L553.8 232.40L554.3 232.40L554.8 232.40L555.3 232.40L555.8 232.40L556.3 232.40L556.8 232.40L557.3 232.40L557.8 232.40L558.3 232.40L558.8 232.40L559.3 232.40L559.8 232.40L560.3 232.40L560.8 232.40L561.3 232.40L561.8 232.40L562.3 232.40L562.8 232.40L563.3 232.40L563.8 232.40L564.3 232.40L564.8 232.40L565.3 232.40L565.8 232.40L566.3 232.40L566.8 232.40L567.3 232.40L567.8 232.40L568.3 232.40L568.8 232.40L569.3 232.40L569.8 232.40L570.3 232.40L570.8 232.40L571.3 232.40L571.8 232.40L572.3 232.40L572.8 232.40L573.3 232.40L573.8 232.40L574.3 232.40L574.8 232.40L575.3 232.40L575.8 232.40L576.3 232.40L576.8 232.40L577.3 232.40L577.8 232.40L578.3 232.40L578.8 232.40L579.3 232.40L579.8 232.40L580.3 232.40L580.8 232.40L581.3 232.40L581.8 232.40L582.3 232.40L582.8 232.40L583.3 232.40L583.8 232.40L584.3 232.40L584.8 232.40L585.3 232.40L585.8 232.40L586.3 232.40L586.8 232.40L587.3 232.40L587.8 232.40L588.3 232.40L588.8 232.40L589.3 232.40L589.8 232.40L590.3 232.40L590.8 232.40L591.3 232.40L591.8 232.40L592.3 232.40L592.8 232.40L593.3 232.40L593.8 232.40L594.3 232.40L594.8 232.40L595.3 232.40L595.8 232.40L596.3 232.40L596.8 232.40L597.3 232.40L597.8 232.40L598.3 232.40L598.8 232.40L599.3 232.40L599.8 232.40L600.3 232.40L600.8 232.40L601.3 232.40L601.8 232.40L601.8 232.4Z" fill="#9a1f7a" stroke="#9a1f7a" stroke-width="0.3" stroke-linejoin="round"/>
<path d="M205.8 243.7L205.8 242.74L206.4 243.23L207.0 243.30L207.6 243.10L208.2 243.17L208.8 242.51L209.4 242.63L210.0 243.24L210.6 243.09L211.2 243.02L211.8 242.62L212.4 243.39L213.0 242.85L213.6 242.54L214.2 242.64L214.8 243.16L215.4 243.06L216.0 243.06L216.6 243.20L217.2 243.03L217.8 242.60L218.4 243.18L219.0 242.68L219.6 242.74L220.2 242.67L220.8 242.81L221.4 242.64L222.0 242.91L222.6 235.10L223.2 242.64L223.8 242.61L224.4 242.56L225.0 242.79L225.6 243.36L226.2 242.91L226.8 243.09L227.4 242.70L228.0 243.21L228.6 243.18L229.2 242.51L229.8 242.68L230.4 242.97L231.0 242.73L231.6 242.98L232.2 242.68L232.8 243.12L233.4 242.59L234.0 242.59L234.6 243.12L235.2 242.88L235.8 242.87L236.4 242.93L237.0 243.03L237.6 242.80L238.2 243.07L238.8 242.54L239.4 243.29L240.0 243.37L240.6 243.01L241.2 243.01L241.8 242.93L242.4 242.69L243.0 243.20L243.6 242.68L244.2 242.61L244.8 243.01L245.4 242.76L246.0 243.22L246.6 243.10L247.2 243.23L247.8 242.95L248.4 243.27L249.0 242.50L249.6 242.68L250.2 242.58L250.8 242.72L251.4 243.07L252.0 242.73L252.6 242.95L253.2 242.59L253.8 242.94L254.4 242.90L255.0 242.83L255.6 243.02L256.2 241.70L256.8 243.02L257.4 242.98L258.0 243.39L258.6 242.75L259.2 243.19L259.8 242.93L260.4 242.86L261.0 243.22L261.6 242.75L262.2 242.76L262.8 243.15L263.4 241.43L264.0 242.55L264.6 242.94L265.2 242.68L265.8 243.27L266.4 242.83L267.0 243.10L267.6 243.18L268.2 243.25L268.8 242.84L269.4 243.25L270.0 243.32L270.6 243.12L271.2 243.23L271.8 243.00L272.4 242.96L273.0 242.98L273.6 242.87L274.2 243.25L274.8 242.77L275.4 243.04L276.0 243.02L276.6 242.78L277.2 243.26L277.8 242.07L278.4 242.64L279.0 243.08L279.6 242.57L280.2 243.01L280.8 242.90L281.4 242.74L282.0 243.27L282.6 242.63L283.2 242.87L283.8 243.09L284.4 239.70L285.0 243.24L285.6 242.59L286.2 243.38L286.8 242.97L287.4 243.07L288.0 243.09L288.6 242.56L289.2 242.97L289.8 243.05L290.4 242.69L291.0 243.07L291.6 243.07L292.2 242.91L292.8 243.10L293.4 243.26L294.0 243.38L294.6 243.35L295.2 243.27L295.8 243.35L296.4 242.74L297.0 242.58L297.6 242.90L298.2 243.32L298.8 243.01L299.4 242.73L300.0 243.05L300.6 242.61L301.2 242.86L301.8 243.03L302.4 242.88L303.0 242.76L303.6 243.30L304.2 243.24L304.8 242.79L305.4 243.08L306.0 243.01L306.6 243.17L307.2 242.52L307.8 242.76L308.4 243.24L309.0 243.08L309.6 243.35L310.2 241.87L310.8 243.00L311.4 242.88L312.0 242.61L312.6 243.10L313.2 242.55L313.8 242.58L314.4 243.27L315.0 243.06L315.6 239.70L316.2 242.69L316.8 243.39L317.4 243.03L318.0 242.89L318.6 243.03L319.2 242.54L319.8 242.85L320.4 243.06L321.0 242.59L321.6 242.69L322.2 242.51L322.8 243.11L323.4 243.16L324.0 243.26L324.6 242.96L325.2 242.57L325.8 242.56L326.4 243.27L327.0 242.88L327.6 242.87L328.2 242.56L328.8 242.70L329.4 243.15L330.0 242.62L330.6 242.75L331.2 242.74L331.8 243.31L332.4 242.75L333.0 242.81L333.6 243.07L334.2 242.55L334.8 243.02L335.4 242.67L336.0 242.99L336.6 243.04L337.2 242.97L337.8 242.73L338.4 241.88L339.0 242.51L339.6 242.73L340.2 242.83L340.8 243.18L341.4 243.37L342.0 243.32L342.6 241.49L343.2 242.98L343.8 242.75L344.4 243.09L345.0 243.23L345.6 242.67L346.2 243.23L346.8 243.10L347.4 242.56L348.0 242.69L348.6 242.58L349.2 242.58L349.8 242.53L350.4 242.83L351.0 242.63L351.6 243.31L352.2 242.67L352.8 242.73L353.4 242.98L354.0 242.53L354.6 243.26L355.2 242.90L355.8 243.25L356.4 242.98L357.0 243.16L357.6 242.90L358.2 242.87L358.8 242.60L359.4 242.54L360.0 243.27L360.6 242.53L361.2 242.91L361.8 243.37L362.4 243.29L363.0 242.83L363.6 242.55L364.2 243.07L364.8 242.83L365.4 242.62L366.0 243.08L366.6 243.13L367.2 243.18L367.8 242.98L368.4 242.90L369.0 242.94L369.6 242.65L370.2 242.78L370.8 242.51L371.4 241.82L372.0 243.36L372.6 242.53L373.2 242.08L373.8 243.03L374.4 242.87L375.0 243.39L375.6 243.24L376.2 243.31L376.8 243.16L377.4 242.94L378.0 242.53L378.6 241.84L379.2 242.65L379.8 243.30L380.4 243.16L381.0 243.07L381.6 242.54L382.2 242.51L382.8 242.81L383.4 242.75L384.0 243.08L384.6 243.17L385.2 243.26L385.8 242.87L386.4 243.26L387.0 242.88L387.6 243.03L388.2 243.07L388.8 243.02L389.4 242.72L390.0 242.66L390.6 236.70L391.2 243.05L391.8 233.20L392.4 242.80L393.0 242.99L393.6 242.57L394.2 242.77L394.8 243.33L395.4 243.32L396.0 243.02L396.6 242.94L397.2 243.18L397.8 243.13L398.4 242.58L399.0 243.01L399.6 243.36L400.2 242.64L400.8 243.26L401.4 243.35L402.0 243.10L402.6 242.73L403.2 242.94L403.8 242.80L404.4 242.80L405.0 239.25L405.6 242.70L406.2 242.74L406.8 241.86L407.4 242.50L408.0 241.89L408.6 242.38L409.2 242.32L409.8 242.97L410.4 241.32L411.0 242.92L411.6 242.22L412.2 241.89L412.8 241.64L413.4 241.42L414.0 242.25L414.6 242.23L415.2 241.87L415.8 242.06L416.4 243.02L417.0 241.66L417.6 241.34L418.2 242.05L418.8 242.47L419.4 242.44L420.0 242.60L420.6 240.92L421.2 242.94L421.8 241.54L422.4 242.82L423.0 241.81L423.6 242.41L424.2 242.49L424.8 242.46L425.4 241.31L426.0 241.46L426.6 241.54L427.2 241.36L427.8 241.39L428.4 242.75L429.0 242.23L429.6 242.43L430.2 242.04L430.8 242.60L431.4 242.19L432.0 241.90L432.6 242.14L433.2 241.71L433.8 241.69L434.4 242.65L435.0 242.18L435.6 242.58L436.2 241.82L436.8 242.23L437.4 242.72L438.0 242.46L438.6 242.45L439.2 241.78L439.8 242.68L440.4 241.92L441.0 234.10L441.6 234.10L442.2 241.20L442.8 241.37L443.4 236.10L444.0 241.65L444.6 242.49L445.2 241.67L445.8 242.22L446.4 242.61L447.0 241.82L447.6 241.57L448.2 242.31L448.8 238.10L449.4 242.77L450.0 242.59L450.6 241.57L451.2 241.57L451.8 242.33L452.4 241.71L453.0 242.89L453.6 242.31L454.2 242.03L454.8 243.06L455.4 241.13L456.0 242.43L456.6 242.50L457.2 241.98L457.8 243.06L458.4 242.00L459.0 242.74L459.6 241.46L460.2 242.05L460.8 241.34L461.4 242.51L462.0 242.02L462.6 242.88L463.2 242.54L463.8 242.45L464.4 242.89L465.0 242.67L465.6 242.66L466.2 241.14L466.8 241.67L467.4 242.62L468.0 242.24L468.6 243.00L469.2 242.69L469.8 241.70L470.4 242.11L471.0 241.66L471.6 242.63L472.2 242.31L472.8 242.94L473.4 241.73L474.0 242.93L474.6 242.44L475.2 242.19L475.8 241.84L476.4 241.33L477.0 242.18L477.6 242.43L478.2 242.72L478.8 242.46L479.4 241.99L480.0 242.59L480.6 241.38L481.2 242.89L481.8 242.14L482.4 242.51L483.0 242.49L483.6 241.38L484.2 242.38L484.8 241.91L485.4 242.30L486.0 242.68L486.6 242.28L487.2 242.43L487.8 243.05L488.4 241.37L489.0 241.88L489.6 242.25L490.2 242.79L490.8 241.85L491.4 241.94L492.0 242.00L492.6 242.18L493.2 242.11L493.8 242.23L494.4 242.86L495.0 241.88L495.6 241.99L496.2 242.07L496.8 242.30L497.4 242.08L498.0 242.44L498.6 241.35L499.2 241.92L499.8 240.30L500.4 241.42L501.0 241.79L501.6 241.58L502.2 241.61L502.8 243.07L503.4 242.31L504.0 241.86L504.6 241.55L505.2 241.48L505.8 243.05L506.4 242.98L507.0 241.98L507.6 242.81L508.2 242.60L508.8 241.47L509.4 241.32L510.0 241.67L510.6 241.43L511.2 241.78L511.8 242.94L512.4 242.11L513.0 241.55L513.6 241.84L514.2 241.69L514.8 242.75L515.4 242.59L516.0 241.60L516.6 241.85L517.2 242.70L517.8 241.38L518.4 242.18L519.0 243.05L519.6 241.76L520.2 243.22L520.8 243.23L521.4 243.00L522.0 243.10L522.6 242.80L523.2 243.11L523.8 243.34L524.4 243.23L525.0 243.42L525.6 243.01L526.2 243.21L526.8 243.33L527.4 243.49L528.0 243.30L528.6 243.08L529.2 243.02L529.8 242.91L530.4 242.84L531.0 242.98L531.6 243.16L532.2 242.78L532.8 243.41L533.4 243.11L534.0 243.32L534.6 243.20L535.2 243.35L535.8 243.35L536.4 243.09L537.0 243.11L537.6 243.48L538.2 242.98L538.8 242.91L539.4 243.09L540.0 242.90L540.6 242.94L541.2 243.06L541.8 243.21L542.4 243.44L543.0 242.97L543.6 243.08L544.2 243.41L544.8 241.97L545.4 243.30L546.0 243.30L546.6 243.12L547.2 243.26L547.8 243.21L548.4 242.95L549.0 242.94L549.6 243.24L550.2 242.97L550.8 242.74L551.4 243.46L552.0 243.18L552.6 243.20L553.2 243.44L553.8 243.11L554.4 243.16L555.0 242.87L555.6 243.36L556.2 242.82L556.8 242.99L557.4 243.14L558.0 243.31L558.6 242.84L559.2 243.21L559.8 241.81L560.4 243.02L561.0 242.86L561.6 243.39L562.2 242.96L562.8 237.10L563.4 237.10L564.0 243.47L564.6 243.25L565.2 243.24L565.8 242.99L566.4 242.90L567.0 243.08L567.6 243.40L568.2 243.44L568.8 243.47L569.4 243.21L570.0 243.19L570.6 243.18L571.2 243.10L571.8 242.76L572.4 243.16L573.0 242.76L573.6 243.01L574.2 243.20L574.8 243.28L575.4 243.46L576.0 242.83L576.6 243.16L577.2 243.28L577.8 243.10L578.4 242.79L579.0 243.31L579.6 242.66L580.2 233.70L580.8 233.70L581.4 242.21L582.0 242.80L582.6 243.26L583.2 243.48L583.8 243.40L584.4 243.48L585.0 243.32L585.6 243.42L586.2 243.10L586.8 241.20L587.4 243.30L588.0 242.02L588.6 242.93L589.2 242.78L589.8 243.04L590.4 243.13L591.0 242.97L591.6 242.95L592.2 243.12L592.8 243.16L593.4 243.05L594.0 243.28L594.6 243.43L595.2 243.12L595.8 243.40L596.4 243.11L597.0 243.21L597.6 240.70L598.2 242.75L598.8 242.75L599.4 243.30L600.0 242.85L600.6 242.50L601.2 242.67L601.8 243.7Z" fill="#2e3192" stroke="#2e3192" stroke-width="0.35"/>
<path d="M205.8 255.6L205.8 255.10L206.4 254.99L207.0 254.46L207.6 254.64L208.2 255.08L208.8 255.07L209.4 254.42L210.0 255.15L210.6 254.05L211.2 254.69L211.8 254.36L212.4 254.42L213.0 254.52L213.6 254.97L214.2 254.04L214.8 254.01L215.4 254.19L216.0 254.31L216.6 254.07L217.2 254.14L217.8 254.26L218.4 254.83L219.0 254.24L219.6 254.19L220.2 255.00L220.8 254.52L221.4 254.80L222.0 255.01L222.6 252.60L223.2 254.81L223.8 254.84L224.4 253.85L225.0 254.68L225.6 255.18L226.2 253.90L226.8 254.05L227.4 254.19L228.0 255.08L228.6 254.50L229.2 254.90L229.8 254.04L230.4 254.01L231.0 255.05L231.6 255.17L232.2 254.23L232.8 254.54L233.4 255.01L234.0 254.88L234.6 254.97L235.2 254.51L235.8 254.45L236.4 254.09L237.0 254.52L237.6 254.09L238.2 255.08L238.8 254.35L239.4 254.43L240.0 254.08L240.6 254.67L241.2 254.29L241.8 255.07L242.4 254.23L243.0 254.38L243.6 255.05L244.2 254.61L244.8 254.06L245.4 254.67L246.0 254.44L246.6 254.03L247.2 255.11L247.8 255.18L248.4 254.71L249.0 254.70L249.6 254.26L250.2 254.91L250.8 254.61L251.4 254.43L252.0 254.81L252.6 254.00L253.2 253.99L253.8 254.57L254.4 254.69L255.0 254.36L255.6 254.20L256.2 253.41L256.8 254.74L257.4 253.31L258.0 254.55L258.6 254.61L259.2 255.08L259.8 254.24L260.4 255.06L261.0 254.15L261.6 252.98L262.2 254.15L262.8 254.87L263.4 254.21L264.0 254.90L264.6 254.75L265.2 254.29L265.8 254.80L266.4 254.09L267.0 254.10L267.6 252.42L268.2 254.65L268.8 254.33L269.4 254.45L270.0 254.44L270.6 254.35L271.2 255.18L271.8 252.70L272.4 252.90L273.0 254.42L273.6 254.91L274.2 254.93L274.8 254.57L275.4 254.81L276.0 254.05L276.6 254.06L277.2 254.58L277.8 254.78L278.4 254.99L279.0 254.27L279.6 255.18L280.2 254.61L280.8 255.00L281.4 254.72L282.0 252.57L282.6 254.80L283.2 255.04L283.8 254.36L284.4 255.05L285.0 254.59L285.6 254.22L286.2 254.94L286.8 254.23L287.4 255.20L288.0 254.21L288.6 254.28L289.2 254.44L289.8 254.02L290.4 254.20L291.0 254.82L291.6 254.38L292.2 254.52L292.8 254.90L293.4 255.04L294.0 254.13L294.6 254.36L295.2 255.05L295.8 254.28L296.4 255.08L297.0 254.27L297.6 254.22L298.2 255.07L298.8 254.14L299.4 255.11L300.0 255.09L300.6 255.10L301.2 254.40L301.8 254.71L302.4 255.16L303.0 254.91L303.6 254.34L304.2 254.56L304.8 255.05L305.4 254.85L306.0 254.31L306.6 254.81L307.2 254.16L307.8 254.62L308.4 254.09L309.0 254.66L309.6 254.16L310.2 254.89L310.8 254.60L311.4 255.01L312.0 254.01L312.6 254.74L313.2 254.13L313.8 255.05L314.4 254.31L315.0 254.41L315.6 254.58L316.2 254.66L316.8 254.11L317.4 254.09L318.0 254.04L318.6 254.09L319.2 254.15L319.8 253.60L320.4 254.18L321.0 254.75L321.6 254.94L322.2 254.64L322.8 254.96L323.4 254.32L324.0 254.03L324.6 254.75L325.2 254.51L325.8 254.07L326.4 254.76L327.0 255.12L327.6 254.50L328.2 254.02L328.8 254.78L329.4 254.99L330.0 254.49L330.6 254.69L331.2 254.82L331.8 254.66L332.4 254.52L333.0 255.14L333.6 254.79L334.2 254.13L334.8 254.26L335.4 254.55L336.0 254.70L336.6 254.40L337.2 254.74L337.8 254.22L338.4 255.12L339.0 254.41L339.6 255.15L340.2 255.16L340.8 254.45L341.4 254.67L342.0 254.98L342.6 254.22L343.2 254.34L343.8 254.23L344.4 254.42L345.0 254.53L345.6 254.03L346.2 254.56L346.8 255.08L347.4 254.92L348.0 255.18L348.6 254.16L349.2 254.34L349.8 254.92L350.4 254.84L351.0 254.78L351.6 254.51L352.2 254.02L352.8 252.43L353.4 252.69L354.0 254.55L354.6 254.28L355.2 254.95L355.8 254.54L356.4 253.63L357.0 254.27L357.6 253.67L358.2 254.89L358.8 254.28L359.4 254.67L360.0 254.40L360.6 254.56L361.2 254.33L361.8 254.83L362.4 255.08L363.0 254.32L363.6 254.99L364.2 255.06L364.8 255.02L365.4 254.90L366.0 254.88L366.6 254.07L367.2 254.30L367.8 254.53L368.4 254.06L369.0 255.18L369.6 254.81L370.2 254.68L370.8 255.17L371.4 254.06L372.0 254.12L372.6 254.95L373.2 254.76L373.8 254.98L374.4 254.51L375.0 254.83L375.6 254.27L376.2 254.79L376.8 254.25L377.4 254.63L378.0 255.04L378.6 254.47L379.2 254.09L379.8 252.60L380.4 254.91L381.0 254.20L381.6 254.60L382.2 254.97L382.8 254.69L383.4 254.97L384.0 255.15L384.6 255.06L385.2 254.57L385.8 254.25L386.4 254.45L387.0 255.05L387.6 254.28L388.2 254.08L388.8 254.72L389.4 254.79L390.0 254.13L390.6 247.60L391.2 255.06L391.8 245.10L392.4 254.48L393.0 254.05L393.6 254.26L394.2 254.82L394.8 254.71L395.4 255.15L396.0 254.74L396.6 254.63L397.2 254.84L397.8 255.17L398.4 255.10L399.0 254.39L399.6 254.03L400.2 254.05L400.8 254.36L401.4 253.35L402.0 254.09L402.6 254.49L403.2 254.14L403.8 254.09L404.4 255.15L405.0 252.41L405.6 254.30L406.2 252.65L406.8 253.40L407.4 253.81L408.0 254.79L408.6 254.66L409.2 254.55L409.8 252.78L410.4 245.60L411.0 253.62L411.6 254.45L412.2 252.88L412.8 252.70L413.4 254.16L414.0 253.70L414.6 253.43L415.2 253.57L415.8 252.43L416.4 254.76L417.0 254.05L417.6 251.99L418.2 252.59L418.8 252.69L419.4 253.05L420.0 254.08L420.6 254.31L421.2 253.37L421.8 254.40L422.4 252.82L423.0 252.45L423.6 254.30L424.2 253.06L424.8 253.24L425.4 253.56L426.0 252.59L426.6 253.23L427.2 253.61L427.8 253.43L428.4 246.10L429.0 253.76L429.6 253.93L430.2 253.78L430.8 252.47L431.4 254.76L432.0 253.85L432.6 253.38L433.2 252.85L433.8 252.70L434.4 254.11L435.0 252.45L435.6 252.66L436.2 254.22L436.8 253.12L437.4 253.67L438.0 254.24L438.6 252.73L439.2 254.53L439.8 252.44L440.4 253.70L441.0 254.65L441.6 254.64L442.2 253.20L442.8 252.66L443.4 253.32L444.0 253.39L444.6 254.20L445.2 253.05L445.8 254.25L446.4 253.42L447.0 253.74L447.6 247.10L448.2 247.10L448.8 252.52L449.4 253.35L450.0 253.81L450.6 253.27L451.2 254.72L451.8 253.45L452.4 254.07L453.0 252.64L453.6 254.19L454.2 254.14L454.8 254.43L455.4 253.75L456.0 254.40L456.6 254.48L457.2 254.00L457.8 252.98L458.4 253.66L459.0 252.94L459.6 253.78L460.2 254.20L460.8 253.54L461.4 253.88L462.0 254.48L462.6 253.94L463.2 253.69L463.8 254.30L464.4 253.99L465.0 251.39L465.6 253.09L466.2 254.63L466.8 254.29L467.4 253.48L468.0 254.20L468.6 254.13L469.2 252.90L469.8 253.12L470.4 253.23L471.0 254.69L471.6 254.18L472.2 252.83L472.8 253.77L473.4 252.44L474.0 252.36L474.6 252.44L475.2 252.77L475.8 253.23L476.4 252.67L477.0 254.56L477.6 252.87L478.2 253.26L478.8 254.12L479.4 254.59L480.0 254.70L480.6 253.96L481.2 253.75L481.8 254.21L482.4 253.29L483.0 253.57L483.6 252.70L484.2 254.38L484.8 253.57L485.4 251.60L486.0 252.65L486.6 254.70L487.2 254.76L487.8 254.46L488.4 252.92L489.0 254.09L489.6 253.15L490.2 253.15L490.8 253.82L491.4 253.22L492.0 254.48L492.6 253.83L493.2 253.88L493.8 253.47L494.4 252.88L495.0 254.01L495.6 252.73L496.2 252.96L496.8 252.91L497.4 254.52L498.0 254.57L498.6 254.03L499.2 253.51L499.8 253.11L500.4 252.89L501.0 254.04L501.6 252.97L502.2 253.91L502.8 254.43L503.4 253.69L504.0 253.98L504.6 253.57L505.2 252.68L505.8 253.14L506.4 252.73L507.0 253.47L507.6 254.14L508.2 252.88L508.8 254.60L509.4 249.37L510.0 252.86L510.6 253.47L511.2 253.82L511.8 254.58L512.4 254.55L513.0 253.19L513.6 252.86L514.2 249.53L514.8 254.77L515.4 252.93L516.0 253.52L516.6 254.42L517.2 252.64L517.8 253.84L518.4 254.13L519.0 252.92L519.6 254.07L520.2 254.83L520.8 254.96L521.4 254.64L522.0 254.76L522.6 254.79L523.2 255.31L523.8 254.61L524.4 254.47L525.0 254.98L525.6 254.50L526.2 254.33L526.8 255.27L527.4 255.24L528.0 255.00L528.6 254.87L529.2 254.41L529.8 254.76L530.4 255.01L531.0 254.97L531.6 254.36L532.2 254.49L532.8 255.20L533.4 255.19L534.0 254.33L534.6 254.36L535.2 254.60L535.8 254.49L536.4 254.79L537.0 254.65L537.6 254.72L538.2 254.59L538.8 254.61L539.4 254.86L540.0 255.28L540.6 254.70L541.2 254.46L541.8 254.47L542.4 254.83L543.0 255.05L543.6 254.34L544.2 255.31L544.8 254.97L545.4 255.21L546.0 254.98L546.6 254.99L547.2 255.14L547.8 254.73L548.4 255.26L549.0 254.59L549.6 254.38L550.2 254.95L550.8 254.79L551.4 254.53L552.0 254.37L552.6 254.76L553.2 254.74L553.8 254.37L554.4 255.06L555.0 255.30L555.6 254.38L556.2 254.95L556.8 255.08L557.4 254.67L558.0 254.40L558.6 254.62L559.2 255.18L559.8 254.32L560.4 254.86L561.0 254.35L561.6 254.79L562.2 254.80L562.8 250.10L563.4 250.10L564.0 254.76L564.6 255.12L565.2 255.30L565.8 254.75L566.4 254.40L567.0 255.13L567.6 254.73L568.2 255.32L568.8 254.61L569.4 255.06L570.0 254.46L570.6 254.69L571.2 254.57L571.8 254.31L572.4 254.89L573.0 254.73L573.6 255.11L574.2 254.63L574.8 255.10L575.4 254.33L576.0 255.00L576.6 255.16L577.2 254.62L577.8 254.52L578.4 255.22L579.0 254.87L579.6 255.21L580.2 246.10L580.8 246.10L581.4 254.56L582.0 254.85L582.6 254.71L583.2 255.13L583.8 254.77L584.4 254.33L585.0 254.99L585.6 254.69L586.2 255.07L586.8 254.32L587.4 254.38L588.0 254.67L588.6 255.12L589.2 253.07L589.8 255.01L590.4 254.58L591.0 254.39L591.6 255.32L592.2 255.28L592.8 255.29L593.4 254.69L594.0 254.46L594.6 254.36L595.2 254.70L595.8 255.06L596.4 255.32L597.0 251.10L597.6 254.04L598.2 255.02L598.8 254.51L599.4 254.54L600.0 254.57L600.6 254.67L601.2 254.10L601.8 255.6Z" fill="#2e3192" stroke="#2e3192" stroke-width="0.35"/>
<rect x="391.60" y="235.50" width="1.80" height="20.80" fill="#7a7a7a" />
<rect x="211.10" y="220.50" width="18.70" height="11.90" fill="none" stroke="#555" stroke-width="0.9" />
<rect x="243.20" y="220.50" width="18.40" height="11.90" fill="none" stroke="#555" stroke-width="0.9" />
<rect x="509.10" y="170.50" width="9.70" height="49.70" fill="none" stroke="#222" stroke-width="0.9" />
<rect x="546.40" y="170.50" width="22.10" height="25.60" fill="none" stroke="#222" stroke-width="0.9" />
<rect x="546.40" y="210.90" width="22.10" height="10.90" fill="none" stroke="#666" stroke-width="0.9" />
<text x="608.80" y="171.40" font-size="5.4" fill="#231f20">30</text>
<text x="608.80" y="180.80" font-size="5.4" fill="#231f20">0</text>
<text x="608.80" y="186.90" font-size="5.4" fill="#231f20">30</text>
<text x="608.80" y="194.70" font-size="5.4" fill="#231f20">0</text>
<text x="608.80" y="200.90" font-size="5.4" fill="#231f20">30</text>
<text x="608.80" y="208.50" font-size="5.4" fill="#231f20">0</text>
<text x="608.80" y="213.70" font-size="5.4" fill="#231f20">30</text>
<text x="608.80" y="220.50" font-size="5.4" fill="#231f20">0</text>
<text x="608.80" y="227.50" font-size="5.4" fill="#231f20">131</text>
<text x="608.80" y="231.80" font-size="5.4" fill="#231f20">0</text>
<text x="608.80" y="238.20" font-size="5.4" fill="#231f20">20</text>
<text x="608.80" y="243.50" font-size="5.4" fill="#231f20">0</text>
<text x="608.80" y="250.00" font-size="5.4" fill="#231f20">20</text>
<text x="608.80" y="256.40" font-size="5.4" fill="#231f20">0</text>
<line x1="248.20" y1="264.40" x2="311.00" y2="264.40" stroke="#27a043" stroke-width="1.3" stroke-dasharray="1.1 0.7"/>
<line x1="248.20" y1="268.30" x2="292.00" y2="268.30" stroke="#27a043" stroke-width="1.3" stroke-dasharray="1.1 0.7"/>
<line x1="248.20" y1="271.80" x2="292.00" y2="271.80" stroke="#27a043" stroke-width="1.3" stroke-dasharray="1.1 0.7"/>
<line x1="410.90" y1="264.40" x2="443.00" y2="264.40" stroke="#27a043" stroke-width="1.3" stroke-dasharray="1.1 0.7"/>
<line x1="472.80" y1="264.40" x2="499.20" y2="264.40" stroke="#27a043" stroke-width="1.3" stroke-dasharray="1.1 0.7"/>
<line x1="410.90" y1="268.30" x2="457.40" y2="268.30" stroke="#27a043" stroke-width="1.3" stroke-dasharray="1.1 0.7"/>
<line x1="472.80" y1="268.30" x2="508.80" y2="268.30" stroke="#27a043" stroke-width="1.3" stroke-dasharray="1.1 0.7"/>
<line x1="410.90" y1="271.80" x2="430.00" y2="271.80" stroke="#27a043" stroke-width="1.3" stroke-dasharray="1.1 0.7"/>
<line x1="443.00" y1="271.80" x2="457.40" y2="271.80" stroke="#27a043" stroke-width="1.3" stroke-dasharray="1.1 0.7"/>
<line x1="472.80" y1="271.80" x2="508.80" y2="271.80" stroke="#27a043" stroke-width="1.3" stroke-dasharray="1.1 0.7"/>
<line x1="410.90" y1="274.70" x2="431.70" y2="274.70" stroke="#27a043" stroke-width="1.3" stroke-dasharray="1.1 0.7"/>
<line x1="443.00" y1="274.70" x2="455.00" y2="274.70" stroke="#27a043" stroke-width="1.3" stroke-dasharray="1.1 0.7"/>
<line x1="472.80" y1="274.70" x2="505.60" y2="274.70" stroke="#27a043" stroke-width="1.3" stroke-dasharray="1.1 0.7"/>
<line x1="376.00" y1="264.40" x2="392.00" y2="264.40" stroke="#27a043" stroke-width="1.3" stroke-dasharray="1.1 0.7"/>
<line x1="381.00" y1="273.50" x2="392.00" y2="273.50" stroke="#27a043" stroke-width="1.3" stroke-dasharray="1.1 0.7"/>
<line x1="214.60" y1="264.40" x2="221.90" y2="264.40" stroke="#27a043" stroke-width="1.6" />
<line x1="222.80" y1="268.50" x2="226.90" y2="268.50" stroke="#27a043" stroke-width="1.6" />
<line x1="237.00" y1="265.00" x2="245.00" y2="265.00" stroke="#7cc08a" stroke-width="1.0" stroke-dasharray="0.8 0.5"/>
<line x1="237.00" y1="268.80" x2="245.00" y2="268.80" stroke="#7cc08a" stroke-width="1.0" stroke-dasharray="0.8 0.5"/>
<line x1="237.00" y1="272.20" x2="245.00" y2="272.20" stroke="#7cc08a" stroke-width="1.0" stroke-dasharray="0.8 0.5"/>
<line x1="206.50" y1="268.60" x2="215.50" y2="268.60" stroke="#7cc08a" stroke-width="1.0" stroke-dasharray="0.8 0.5"/>
<line x1="361.00" y1="265.00" x2="369.00" y2="265.00" stroke="#7cc08a" stroke-width="1.0" stroke-dasharray="0.8 0.5"/>
<line x1="398.00" y1="265.00" x2="406.00" y2="265.00" stroke="#7cc08a" stroke-width="1.0" stroke-dasharray="0.8 0.5"/>
<line x1="398.00" y1="268.60" x2="406.00" y2="268.60" stroke="#7cc08a" stroke-width="1.0" stroke-dasharray="0.8 0.5"/>
<line x1="398.00" y1="272.00" x2="406.00" y2="272.00" stroke="#7cc08a" stroke-width="1.0" stroke-dasharray="0.8 0.5"/>
<line x1="459.00" y1="272.00" x2="465.00" y2="272.00" stroke="#7cc08a" stroke-width="1.0" stroke-dasharray="0.8 0.5"/>
<line x1="499.00" y1="264.80" x2="508.00" y2="264.80" stroke="#7cc08a" stroke-width="1.0" stroke-dasharray="0.8 0.5"/>
<line x1="510.00" y1="264.80" x2="520.00" y2="264.80" stroke="#7cc08a" stroke-width="1.0" stroke-dasharray="0.8 0.5"/>
<line x1="522.00" y1="264.80" x2="531.00" y2="264.80" stroke="#7cc08a" stroke-width="1.0" stroke-dasharray="0.8 0.5"/>
<line x1="582.70" y1="264.60" x2="597.70" y2="264.60" stroke="#7cc08a" stroke-width="1.0" stroke-dasharray="0.8 0.5"/>
<line x1="582.70" y1="268.20" x2="597.70" y2="268.20" stroke="#7cc08a" stroke-width="1.0" stroke-dasharray="0.8 0.5"/>
<line x1="445.00" y1="264.60" x2="455.00" y2="264.60" stroke="#5a6fc0" stroke-width="0.9" stroke-dasharray="0.8 0.5"/>
<line x1="382.50" y1="266.50" x2="387.50" y2="266.50" stroke="#5a6fc0" stroke-width="0.9" stroke-dasharray="0.8 0.5"/>
<line x1="382.50" y1="269.50" x2="387.50" y2="269.50" stroke="#5a6fc0" stroke-width="0.9" stroke-dasharray="0.8 0.5"/>
<line x1="460.00" y1="263.00" x2="460.00" y2="266.00" stroke="#3a4fb0" stroke-width="1.0" />
<line x1="526.00" y1="263.00" x2="526.00" y2="266.00" stroke="#27a043" stroke-width="1.0" />
<line x1="249.00" y1="273.30" x2="249.00" y2="276.00" stroke="#e0218a" stroke-width="0.8" />
<circle cx="289.60" cy="275.20" r="1.0" fill="#2e3192"/>
<polyline points="384.50,268.30 384.50,276.50" fill="none" stroke="#333" stroke-width="0.6" />
<polyline points="388.00,262.00 394.00,262.00 394.00,276.00" fill="none" stroke="#333" stroke-width="0.6" />
<polyline points="391.30,282.60 391.30,292.80 405.50,292.80" fill="none" stroke="#111" stroke-width="1.0" />
<polygon points="404.00,288.60 411.30,292.80 404.00,297.00" fill="#111" />
<text x="413.60" y="294.90" font-size="10.3" font-style="italic" fill="#e03a2c">MYC</text>
<polygon points="554.20,305.60 556.10,298.60 558.00,305.60" fill="#be1e2d" />
<polygon points="564.50,305.60 566.40,298.60 568.30,305.60" fill="#be1e2d" />
<text x="529.00" y="313.90" font-size="7.4" fill="#231f20" textLength="30.40" lengthAdjust="spacingAndGlyphs">MYCSE1</text>
<text x="564.50" y="313.90" font-size="7.4" fill="#231f20" textLength="31.40" lengthAdjust="spacingAndGlyphs">MYCSE2</text>
<text x="75.80" y="366.70" font-size="17.5" font-weight="bold" fill="#000">b</text>
<text x="76.10" y="567.10" font-size="17.5" font-weight="bold" fill="#000">c</text>
<text x="107.60" y="355.40" font-size="8.7" fill="#231f20" textLength="145.70" lengthAdjust="spacingAndGlyphs">JSC-CRISPRi inhibition of MYCSE1/2</text>
<rect x="110.50" y="427.70" width="14.20" height="60.10" fill="#fff" />
<polyline points="110.50,487.80 110.50,427.70 124.70,427.70 124.70,487.80" fill="none" stroke="#333" stroke-width="1.1" />
<rect x="130.97" y="445.73" width="14.20" height="42.07" fill="#fff" />
<polyline points="130.97,487.80 130.97,445.73 145.17,445.73 145.17,487.80" fill="none" stroke="#333" stroke-width="1.1" />
<rect x="151.44" y="452.34" width="14.20" height="35.46" fill="#fff" />
<polyline points="151.44,487.80 151.44,452.34 165.64,452.34 165.64,487.80" fill="none" stroke="#333" stroke-width="1.1" />
<rect x="171.91" y="445.73" width="14.20" height="42.07" fill="#fff" />
<polyline points="171.91,487.80 171.91,445.73 186.11,445.73 186.11,487.80" fill="none" stroke="#333" stroke-width="1.1" />
<rect x="192.38" y="439.72" width="14.20" height="48.08" fill="#fff" />
<polyline points="192.38,487.80 192.38,439.72 206.58,439.72 206.58,487.80" fill="none" stroke="#333" stroke-width="1.1" />
<rect x="212.85" y="439.72" width="14.20" height="48.08" fill="#fff" />
<polyline points="212.85,487.80 212.85,439.72 227.05,439.72 227.05,487.80" fill="none" stroke="#333" stroke-width="1.1" />
<rect x="233.32" y="446.33" width="14.20" height="41.47" fill="#fff" />
<polyline points="233.32,487.80 233.32,446.33 247.52,446.33 247.52,487.80" fill="none" stroke="#333" stroke-width="1.1" />
<line x1="117.60" y1="426.80" x2="117.60" y2="428.60" stroke="#222" stroke-width="0.9" />
<line x1="114.10" y1="426.80" x2="121.10" y2="426.80" stroke="#222" stroke-width="0.9" />
<line x1="114.10" y1="428.60" x2="121.10" y2="428.60" stroke="#222" stroke-width="0.9" />
<circle cx="117.90" cy="427.10" r="1.4" fill="#111"/>
<circle cx="115.60" cy="428.30" r="1.4" fill="#111"/>
<circle cx="119.70" cy="428.30" r="1.4" fill="#111"/>
<line x1="138.07" y1="442.12" x2="138.07" y2="449.34" stroke="#222" stroke-width="0.9" />
<line x1="134.57" y1="442.12" x2="141.57" y2="442.12" stroke="#222" stroke-width="0.9" />
<line x1="134.57" y1="449.34" x2="141.57" y2="449.34" stroke="#222" stroke-width="0.9" />
<circle cx="138.37" cy="438.52" r="1.4" fill="#111"/>
<circle cx="136.07" cy="448.13" r="1.4" fill="#111"/>
<circle cx="140.17" cy="449.94" r="1.4" fill="#111"/>
<line x1="158.54" y1="450.54" x2="158.54" y2="454.14" stroke="#222" stroke-width="0.9" />
<line x1="155.04" y1="450.54" x2="162.04" y2="450.54" stroke="#222" stroke-width="0.9" />
<line x1="155.04" y1="454.14" x2="162.04" y2="454.14" stroke="#222" stroke-width="0.9" />
<circle cx="158.84" cy="451.14" r="1.4" fill="#111"/>
<circle cx="156.54" cy="452.94" r="1.4" fill="#111"/>
<circle cx="160.64" cy="453.54" r="1.4" fill="#111"/>
<line x1="179.01" y1="442.73" x2="179.01" y2="448.74" stroke="#222" stroke-width="0.9" />
<line x1="175.51" y1="442.73" x2="182.51" y2="442.73" stroke="#222" stroke-width="0.9" />
<line x1="175.51" y1="448.74" x2="182.51" y2="448.74" stroke="#222" stroke-width="0.9" />
<circle cx="179.31" cy="441.52" r="1.4" fill="#111"/>
<circle cx="177.01" cy="448.13" r="1.4" fill="#111"/>
<circle cx="181.11" cy="448.74" r="1.4" fill="#111"/>
<line x1="199.48" y1="437.32" x2="199.48" y2="442.12" stroke="#222" stroke-width="0.9" />
<line x1="195.98" y1="437.32" x2="202.98" y2="437.32" stroke="#222" stroke-width="0.9" />
<line x1="195.98" y1="442.12" x2="202.98" y2="442.12" stroke="#222" stroke-width="0.9" />
<circle cx="199.78" cy="435.51" r="1.4" fill="#111"/>
<circle cx="197.48" cy="437.32" r="1.4" fill="#111"/>
<circle cx="201.58" cy="443.93" r="1.4" fill="#111"/>
<line x1="219.95" y1="435.51" x2="219.95" y2="443.93" stroke="#222" stroke-width="0.9" />
<line x1="216.45" y1="435.51" x2="223.45" y2="435.51" stroke="#222" stroke-width="0.9" />
<line x1="216.45" y1="443.93" x2="223.45" y2="443.93" stroke="#222" stroke-width="0.9" />
<circle cx="220.25" cy="434.31" r="1.4" fill="#111"/>
<circle cx="217.95" cy="436.11" r="1.4" fill="#111"/>
<circle cx="222.05" cy="447.53" r="1.4" fill="#111"/>
<line x1="240.42" y1="443.33" x2="240.42" y2="449.34" stroke="#222" stroke-width="0.9" />
<line x1="236.92" y1="443.33" x2="243.92" y2="443.33" stroke="#222" stroke-width="0.9" />
<line x1="236.92" y1="449.34" x2="243.92" y2="449.34" stroke="#222" stroke-width="0.9" />
<circle cx="240.72" cy="440.32" r="1.4" fill="#111"/>
<circle cx="238.42" cy="446.93" r="1.4" fill="#111"/>
<circle cx="242.52" cy="449.94" r="1.4" fill="#111"/>
<line x1="107.30" y1="397.65" x2="107.30" y2="488.30" stroke="#444" stroke-width="1.0" />
<line x1="107.30" y1="487.80" x2="250.60" y2="487.80" stroke="#444" stroke-width="1.2" />
<line x1="105.00" y1="487.80" x2="107.30" y2="487.80" stroke="#333" stroke-width="1.0" />
<text x="102.10" y="490.50" font-size="7.5" text-anchor="end" fill="#231f20">0.0</text>
<line x1="105.00" y1="457.75" x2="107.30" y2="457.75" stroke="#333" stroke-width="1.0" />
<text x="102.10" y="460.45" font-size="7.5" text-anchor="end" fill="#231f20">0.5</text>
<line x1="105.00" y1="427.70" x2="107.30" y2="427.70" stroke="#333" stroke-width="1.0" />
<text x="102.10" y="430.40" font-size="7.5" text-anchor="end" fill="#231f20">1.0</text>
<line x1="105.00" y1="397.65" x2="107.30" y2="397.65" stroke="#333" stroke-width="1.0" />
<text x="102.10" y="400.35" font-size="7.5" text-anchor="end" fill="#231f20">1.5</text>
<line x1="117.60" y1="487.80" x2="117.60" y2="489.60" stroke="#444" stroke-width="0.9" />
<text x="121.60" y="498.10" font-size="8.5" text-anchor="end" fill="#231f20" transform="rotate(-45 121.60 498.10)">Ctrl</text>
<line x1="138.07" y1="487.80" x2="138.07" y2="489.60" stroke="#444" stroke-width="0.9" />
<text x="142.07" y="498.10" font-size="8.5" text-anchor="end" fill="#231f20" transform="rotate(-45 142.07 498.10)">MYCSE1-1</text>
<line x1="158.54" y1="487.80" x2="158.54" y2="489.60" stroke="#444" stroke-width="0.9" />
<text x="162.54" y="498.10" font-size="8.5" text-anchor="end" fill="#231f20" transform="rotate(-45 162.54 498.10)">MYCSE1-2</text>
<line x1="179.01" y1="487.80" x2="179.01" y2="489.60" stroke="#444" stroke-width="0.9" />
<text x="183.01" y="498.10" font-size="8.5" text-anchor="end" fill="#231f20" transform="rotate(-45 183.01 498.10)">MYCSE1-3</text>
<line x1="199.48" y1="487.80" x2="199.48" y2="489.60" stroke="#444" stroke-width="0.9" />
<text x="203.48" y="498.10" font-size="8.5" text-anchor="end" fill="#231f20" transform="rotate(-45 203.48 498.10)">MYCSE2-1</text>
<line x1="219.95" y1="487.80" x2="219.95" y2="489.60" stroke="#444" stroke-width="0.9" />
<text x="223.95" y="498.10" font-size="8.5" text-anchor="end" fill="#231f20" transform="rotate(-45 223.95 498.10)">MYCSE2-2</text>
<line x1="240.42" y1="487.80" x2="240.42" y2="489.60" stroke="#444" stroke-width="0.9" />
<text x="244.42" y="498.10" font-size="8.5" text-anchor="end" fill="#231f20" transform="rotate(-45 244.42 498.10)">MYCSE2-3</text>
<text x="83.00" y="440.00" font-size="8.7" text-anchor="middle" fill="#231f20" textLength="64.00" lengthAdjust="spacingAndGlyphs" transform="rotate(-90 83.00 440.00)"><tspan font-style="italic">MYC expression</tspan></text>
<line x1="113.70" y1="423.40" x2="138.20" y2="423.40" stroke="#555" stroke-width="1.0" />
<text x="111.60" y="420.30" font-size="7.5" fill="#231f20"><tspan font-style="italic">P</tspan> = 0.0097</text>
<line x1="113.70" y1="412.40" x2="156.60" y2="412.40" stroke="#444" stroke-width="1.0" />
<text x="117.10" y="410.60" font-size="7.5" fill="#231f20"><tspan font-style="italic">P</tspan> = 0.0002</text>
<line x1="113.70" y1="401.40" x2="178.20" y2="401.40" stroke="#555" stroke-width="1.0" />
<text x="127.50" y="399.90" font-size="7.5" fill="#231f20"><tspan font-style="italic">P</tspan> = 0.0055</text>
<line x1="113.70" y1="391.50" x2="197.80" y2="391.50" stroke="#333" stroke-width="1.0" />
<text x="144.90" y="389.60" font-size="7.5" fill="#231f20"><tspan font-style="italic">P</tspan> = 0.01</text>
<line x1="113.70" y1="380.70" x2="219.70" y2="380.70" stroke="#666" stroke-width="1.0" />
<text x="140.30" y="378.90" font-size="7.5" fill="#231f20"><tspan font-style="italic">P</tspan> = 0.048</text>
<line x1="113.70" y1="370.20" x2="241.60" y2="370.20" stroke="#444" stroke-width="1.0" />
<text x="156.60" y="368.00" font-size="7.5" fill="#231f20"><tspan font-style="italic">P</tspan> = 0.0036</text>
<text x="296.90" y="355.40" font-size="8.7" fill="#231f20" textLength="156.50" lengthAdjust="spacingAndGlyphs">BCBL1-CRISPRi inhibition of MYCSE1/2</text>
<rect x="306.30" y="425.78" width="14.30" height="62.42" fill="#fff" />
<polyline points="306.30,488.20 306.30,425.78 320.60,425.78 320.60,488.20" fill="none" stroke="#333" stroke-width="1.1" />
<rect x="327.30" y="444.94" width="14.30" height="43.26" fill="#fff" />
<polyline points="327.30,488.20 327.30,444.94 341.60,444.94 341.60,488.20" fill="none" stroke="#333" stroke-width="1.1" />
<rect x="348.30" y="454.21" width="14.30" height="33.99" fill="#fff" />
<polyline points="348.30,488.20 348.30,454.21 362.60,454.21 362.60,488.20" fill="none" stroke="#333" stroke-width="1.1" />
<rect x="369.30" y="449.27" width="14.30" height="38.93" fill="#fff" />
<polyline points="369.30,488.20 369.30,449.27 383.60,449.27 383.60,488.20" fill="none" stroke="#333" stroke-width="1.1" />
<rect x="390.30" y="442.47" width="14.30" height="45.73" fill="#fff" />
<polyline points="390.30,488.20 390.30,442.47 404.60,442.47 404.60,488.20" fill="none" stroke="#333" stroke-width="1.1" />
<rect x="411.30" y="439.38" width="14.30" height="48.82" fill="#fff" />
<polyline points="411.30,488.20 411.30,439.38 425.60,439.38 425.60,488.20" fill="none" stroke="#333" stroke-width="1.1" />
<rect x="432.30" y="425.16" width="14.30" height="63.04" fill="#fff" />
<polyline points="432.30,488.20 432.30,425.16 446.60,425.16 446.60,488.20" fill="none" stroke="#333" stroke-width="1.1" />
<line x1="313.45" y1="424.55" x2="313.45" y2="427.02" stroke="#222" stroke-width="0.9" />
<line x1="309.95" y1="424.55" x2="316.95" y2="424.55" stroke="#222" stroke-width="0.9" />
<line x1="309.95" y1="427.02" x2="316.95" y2="427.02" stroke="#222" stroke-width="0.9" />
<circle cx="313.75" cy="422.69" r="1.4" fill="#111"/>
<circle cx="311.45" cy="427.02" r="1.4" fill="#111"/>
<circle cx="315.55" cy="427.64" r="1.4" fill="#111"/>
<line x1="334.45" y1="442.47" x2="334.45" y2="447.41" stroke="#222" stroke-width="0.9" />
<line x1="330.95" y1="442.47" x2="337.95" y2="442.47" stroke="#222" stroke-width="0.9" />
<line x1="330.95" y1="447.41" x2="337.95" y2="447.41" stroke="#222" stroke-width="0.9" />
<circle cx="334.75" cy="441.23" r="1.4" fill="#111"/>
<circle cx="332.45" cy="446.18" r="1.4" fill="#111"/>
<circle cx="336.55" cy="448.03" r="1.4" fill="#111"/>
<line x1="355.45" y1="452.97" x2="355.45" y2="455.45" stroke="#222" stroke-width="0.9" />
<line x1="351.95" y1="452.97" x2="358.95" y2="452.97" stroke="#222" stroke-width="0.9" />
<line x1="351.95" y1="455.45" x2="358.95" y2="455.45" stroke="#222" stroke-width="0.9" />
<circle cx="355.75" cy="452.36" r="1.4" fill="#111"/>
<circle cx="353.45" cy="454.83" r="1.4" fill="#111"/>
<circle cx="357.55" cy="456.06" r="1.4" fill="#111"/>
<line x1="376.45" y1="446.18" x2="376.45" y2="452.36" stroke="#222" stroke-width="0.9" />
<line x1="372.95" y1="446.18" x2="379.95" y2="446.18" stroke="#222" stroke-width="0.9" />
<line x1="372.95" y1="452.36" x2="379.95" y2="452.36" stroke="#222" stroke-width="0.9" />
<circle cx="376.75" cy="444.32" r="1.4" fill="#111"/>
<circle cx="374.45" cy="449.88" r="1.4" fill="#111"/>
<circle cx="378.55" cy="453.59" r="1.4" fill="#111"/>
<line x1="397.45" y1="440.61" x2="397.45" y2="444.32" stroke="#222" stroke-width="0.9" />
<line x1="393.95" y1="440.61" x2="400.95" y2="440.61" stroke="#222" stroke-width="0.9" />
<line x1="393.95" y1="444.32" x2="400.95" y2="444.32" stroke="#222" stroke-width="0.9" />
<circle cx="397.75" cy="439.38" r="1.4" fill="#111"/>
<circle cx="395.45" cy="443.09" r="1.4" fill="#111"/>
<circle cx="399.55" cy="444.32" r="1.4" fill="#111"/>
<line x1="418.45" y1="435.05" x2="418.45" y2="443.70" stroke="#222" stroke-width="0.9" />
<line x1="414.95" y1="435.05" x2="421.95" y2="435.05" stroke="#222" stroke-width="0.9" />
<line x1="414.95" y1="443.70" x2="421.95" y2="443.70" stroke="#222" stroke-width="0.9" />
<circle cx="418.75" cy="435.05" r="1.4" fill="#111"/>
<circle cx="416.45" cy="435.67" r="1.4" fill="#111"/>
<circle cx="420.55" cy="448.65" r="1.4" fill="#111"/>
<line x1="439.45" y1="420.84" x2="439.45" y2="429.49" stroke="#222" stroke-width="0.9" />
<line x1="435.95" y1="420.84" x2="442.95" y2="420.84" stroke="#222" stroke-width="0.9" />
<line x1="435.95" y1="429.49" x2="442.95" y2="429.49" stroke="#222" stroke-width="0.9" />
<circle cx="439.75" cy="420.22" r="1.4" fill="#111"/>
<circle cx="437.45" cy="422.07" r="1.4" fill="#111"/>
<circle cx="441.55" cy="436.29" r="1.4" fill="#111"/>
<line x1="302.40" y1="395.50" x2="302.40" y2="488.70" stroke="#444" stroke-width="1.0" />
<line x1="302.40" y1="488.20" x2="449.60" y2="488.20" stroke="#444" stroke-width="1.2" />
<line x1="300.10" y1="488.20" x2="302.40" y2="488.20" stroke="#333" stroke-width="1.0" />
<text x="297.20" y="490.90" font-size="7.5" text-anchor="end" fill="#231f20">0.0</text>
<line x1="300.10" y1="457.30" x2="302.40" y2="457.30" stroke="#333" stroke-width="1.0" />
<text x="297.20" y="460.00" font-size="7.5" text-anchor="end" fill="#231f20">0.5</text>
<line x1="300.10" y1="426.40" x2="302.40" y2="426.40" stroke="#333" stroke-width="1.0" />
<text x="297.20" y="429.10" font-size="7.5" text-anchor="end" fill="#231f20">1.0</text>
<line x1="300.10" y1="395.50" x2="302.40" y2="395.50" stroke="#333" stroke-width="1.0" />
<text x="297.20" y="398.20" font-size="7.5" text-anchor="end" fill="#231f20">1.5</text>
<line x1="313.45" y1="488.20" x2="313.45" y2="490.00" stroke="#444" stroke-width="0.9" />
<text x="317.45" y="498.50" font-size="8.5" text-anchor="end" fill="#231f20" transform="rotate(-45 317.45 498.50)">Ctrl</text>
<line x1="334.45" y1="488.20" x2="334.45" y2="490.00" stroke="#444" stroke-width="0.9" />
<text x="338.45" y="498.50" font-size="8.5" text-anchor="end" fill="#231f20" transform="rotate(-45 338.45 498.50)">MYCSE1-1</text>
<line x1="355.45" y1="488.20" x2="355.45" y2="490.00" stroke="#444" stroke-width="0.9" />
<text x="359.45" y="498.50" font-size="8.5" text-anchor="end" fill="#231f20" transform="rotate(-45 359.45 498.50)">MYCSE1-2</text>
<line x1="376.45" y1="488.20" x2="376.45" y2="490.00" stroke="#444" stroke-width="0.9" />
<text x="380.45" y="498.50" font-size="8.5" text-anchor="end" fill="#231f20" transform="rotate(-45 380.45 498.50)">MYCSE1-3</text>
<line x1="397.45" y1="488.20" x2="397.45" y2="490.00" stroke="#444" stroke-width="0.9" />
<text x="401.45" y="498.50" font-size="8.5" text-anchor="end" fill="#231f20" transform="rotate(-45 401.45 498.50)">MYCSE2-1</text>
<line x1="418.45" y1="488.20" x2="418.45" y2="490.00" stroke="#444" stroke-width="0.9" />
<text x="422.45" y="498.50" font-size="8.5" text-anchor="end" fill="#231f20" transform="rotate(-45 422.45 498.50)">MYCSE2-2</text>
<line x1="439.45" y1="488.20" x2="439.45" y2="490.00" stroke="#444" stroke-width="0.9" />
<text x="443.45" y="498.50" font-size="8.5" text-anchor="end" fill="#231f20" transform="rotate(-45 443.45 498.50)">MYCSE2-3</text>
<text x="277.50" y="440.00" font-size="8.7" text-anchor="middle" fill="#231f20" textLength="64.00" lengthAdjust="spacingAndGlyphs" transform="rotate(-90 277.50 440.00)"><tspan font-style="italic">MYC</tspan> expression</text>
<line x1="312.90" y1="419.10" x2="338.00" y2="419.10" stroke="#555" stroke-width="1.0" />
<text x="310.60" y="416.40" font-size="7.5" fill="#231f20"><tspan font-style="italic">P</tspan> = 0.0026</text>
<line x1="312.90" y1="408.40" x2="356.20" y2="408.40" stroke="#555" stroke-width="1.0" />
<text x="316.40" y="405.90" font-size="7.5" fill="#231f20"><tspan font-style="italic">P</tspan> = 0.0002</text>
<line x1="312.90" y1="397.50" x2="377.20" y2="397.50" stroke="#555" stroke-width="1.0" />
<text x="328.30" y="394.90" font-size="7.5" fill="#231f20"><tspan font-style="italic">P</tspan> = 0.002</text>
<line x1="312.90" y1="387.40" x2="397.00" y2="387.40" stroke="#555" stroke-width="1.0" />
<text x="332.80" y="384.30" font-size="7.5" fill="#231f20"><tspan font-style="italic">P</tspan> = 0.0038</text>
<text x="418.90" y="430.70" font-size="5.2" text-anchor="middle" fill="#231f20">N.S.</text>
<text x="439.80" y="415.80" font-size="5.2" text-anchor="middle" fill="#231f20">N.S.</text>
<text x="512.40" y="355.10" font-size="8.7" fill="#231f20" textLength="166.30" lengthAdjust="spacingAndGlyphs">GM12878-CRISPRi inhibition of MYCSE1/2</text>
<rect x="523.20" y="424.68" width="14.40" height="62.22" fill="#fff" />
<polyline points="523.20,486.90 523.20,424.68 537.60,424.68 537.60,486.90" fill="none" stroke="#333" stroke-width="1.1" />
<rect x="544.22" y="428.38" width="14.40" height="58.52" fill="#fff" />
<polyline points="544.22,486.90 544.22,428.38 558.62,428.38 558.62,486.90" fill="none" stroke="#333" stroke-width="1.1" />
<rect x="565.24" y="427.15" width="14.40" height="59.75" fill="#fff" />
<polyline points="565.24,486.90 565.24,427.15 579.64,427.15 579.64,486.90" fill="none" stroke="#333" stroke-width="1.1" />
<rect x="586.26" y="422.22" width="14.40" height="64.68" fill="#fff" />
<polyline points="586.26,486.90 586.26,422.22 600.66,422.22 600.66,486.90" fill="none" stroke="#333" stroke-width="1.1" />
<rect x="607.28" y="433.31" width="14.40" height="53.59" fill="#fff" />
<polyline points="607.28,486.90 607.28,433.31 621.68,433.31 621.68,486.90" fill="none" stroke="#333" stroke-width="1.1" />
<rect x="628.30" y="419.14" width="14.40" height="67.76" fill="#fff" />
<polyline points="628.30,486.90 628.30,419.14 642.70,419.14 642.70,486.90" fill="none" stroke="#333" stroke-width="1.1" />
<rect x="649.32" y="425.92" width="14.40" height="60.98" fill="#fff" />
<polyline points="649.32,486.90 649.32,425.92 663.72,425.92 663.72,486.90" fill="none" stroke="#333" stroke-width="1.1" />
<line x1="530.40" y1="419.76" x2="530.40" y2="429.61" stroke="#222" stroke-width="0.9" />
<line x1="526.90" y1="419.76" x2="533.90" y2="419.76" stroke="#222" stroke-width="0.9" />
<line x1="526.90" y1="429.61" x2="533.90" y2="429.61" stroke="#222" stroke-width="0.9" />
<circle cx="530.70" cy="414.83" r="1.4" fill="#111"/>
<circle cx="528.40" cy="429.61" r="1.4" fill="#111"/>
<circle cx="532.50" cy="429.61" r="1.4" fill="#111"/>
<line x1="551.42" y1="423.45" x2="551.42" y2="433.31" stroke="#222" stroke-width="0.9" />
<line x1="547.92" y1="423.45" x2="554.92" y2="423.45" stroke="#222" stroke-width="0.9" />
<line x1="547.92" y1="433.31" x2="554.92" y2="433.31" stroke="#222" stroke-width="0.9" />
<circle cx="551.72" cy="419.14" r="1.4" fill="#111"/>
<circle cx="549.42" cy="430.23" r="1.4" fill="#111"/>
<circle cx="553.52" cy="437.00" r="1.4" fill="#111"/>
<line x1="572.44" y1="419.14" x2="572.44" y2="435.16" stroke="#222" stroke-width="0.9" />
<line x1="568.94" y1="419.14" x2="575.94" y2="419.14" stroke="#222" stroke-width="0.9" />
<line x1="568.94" y1="435.16" x2="575.94" y2="435.16" stroke="#222" stroke-width="0.9" />
<circle cx="572.74" cy="411.13" r="1.4" fill="#111"/>
<circle cx="570.44" cy="435.77" r="1.4" fill="#111"/>
<circle cx="574.54" cy="435.77" r="1.4" fill="#111"/>
<line x1="593.46" y1="417.91" x2="593.46" y2="426.53" stroke="#222" stroke-width="0.9" />
<line x1="589.96" y1="417.91" x2="596.96" y2="417.91" stroke="#222" stroke-width="0.9" />
<line x1="589.96" y1="426.53" x2="596.96" y2="426.53" stroke="#222" stroke-width="0.9" />
<circle cx="593.76" cy="413.60" r="1.4" fill="#111"/>
<circle cx="591.46" cy="423.45" r="1.4" fill="#111"/>
<circle cx="595.56" cy="427.15" r="1.4" fill="#111"/>
<line x1="614.48" y1="428.38" x2="614.48" y2="438.24" stroke="#222" stroke-width="0.9" />
<line x1="610.98" y1="428.38" x2="617.98" y2="428.38" stroke="#222" stroke-width="0.9" />
<line x1="610.98" y1="438.24" x2="617.98" y2="438.24" stroke="#222" stroke-width="0.9" />
<circle cx="614.78" cy="427.76" r="1.4" fill="#111"/>
<circle cx="612.48" cy="428.38" r="1.4" fill="#111"/>
<circle cx="616.58" cy="442.55" r="1.4" fill="#111"/>
<line x1="635.50" y1="416.06" x2="635.50" y2="422.22" stroke="#222" stroke-width="0.9" />
<line x1="632.00" y1="416.06" x2="639.00" y2="416.06" stroke="#222" stroke-width="0.9" />
<line x1="632.00" y1="422.22" x2="639.00" y2="422.22" stroke="#222" stroke-width="0.9" />
<circle cx="635.80" cy="414.83" r="1.4" fill="#111"/>
<circle cx="633.50" cy="415.44" r="1.4" fill="#111"/>
<circle cx="637.60" cy="426.53" r="1.4" fill="#111"/>
<line x1="656.52" y1="424.68" x2="656.52" y2="427.15" stroke="#222" stroke-width="0.9" />
<line x1="653.02" y1="424.68" x2="660.02" y2="424.68" stroke="#222" stroke-width="0.9" />
<line x1="653.02" y1="427.15" x2="660.02" y2="427.15" stroke="#222" stroke-width="0.9" />
<circle cx="656.82" cy="424.07" r="1.4" fill="#111"/>
<circle cx="654.52" cy="425.30" r="1.4" fill="#111"/>
<circle cx="658.62" cy="427.15" r="1.4" fill="#111"/>
<line x1="519.40" y1="394.50" x2="519.40" y2="487.40" stroke="#444" stroke-width="1.0" />
<line x1="519.40" y1="486.90" x2="667.20" y2="486.90" stroke="#444" stroke-width="1.2" />
<line x1="517.10" y1="486.90" x2="519.40" y2="486.90" stroke="#333" stroke-width="1.0" />
<text x="514.20" y="489.60" font-size="7.5" text-anchor="end" fill="#231f20">0.0</text>
<line x1="517.10" y1="456.10" x2="519.40" y2="456.10" stroke="#333" stroke-width="1.0" />
<text x="514.20" y="458.80" font-size="7.5" text-anchor="end" fill="#231f20">0.5</text>
<line x1="517.10" y1="425.30" x2="519.40" y2="425.30" stroke="#333" stroke-width="1.0" />
<text x="514.20" y="428.00" font-size="7.5" text-anchor="end" fill="#231f20">1.0</text>
<line x1="517.10" y1="394.50" x2="519.40" y2="394.50" stroke="#333" stroke-width="1.0" />
<text x="514.20" y="397.20" font-size="7.5" text-anchor="end" fill="#231f20">1.5</text>
<line x1="530.40" y1="486.90" x2="530.40" y2="488.70" stroke="#444" stroke-width="0.9" />
<text x="534.40" y="497.20" font-size="8.5" text-anchor="end" fill="#231f20" transform="rotate(-45 534.40 497.20)">Ctrl</text>
<line x1="551.42" y1="486.90" x2="551.42" y2="488.70" stroke="#444" stroke-width="0.9" />
<text x="555.42" y="497.20" font-size="8.5" text-anchor="end" fill="#231f20" transform="rotate(-45 555.42 497.20)">MYCSE1-1</text>
<line x1="572.44" y1="486.90" x2="572.44" y2="488.70" stroke="#444" stroke-width="0.9" />
<text x="576.44" y="497.20" font-size="8.5" text-anchor="end" fill="#231f20" transform="rotate(-45 576.44 497.20)">MYCSE1-2</text>
<line x1="593.46" y1="486.90" x2="593.46" y2="488.70" stroke="#444" stroke-width="0.9" />
<text x="597.46" y="497.20" font-size="8.5" text-anchor="end" fill="#231f20" transform="rotate(-45 597.46 497.20)">MYCSE1-3</text>
<line x1="614.48" y1="486.90" x2="614.48" y2="488.70" stroke="#444" stroke-width="0.9" />
<text x="618.48" y="497.20" font-size="8.5" text-anchor="end" fill="#231f20" transform="rotate(-45 618.48 497.20)">MYCSE2-1</text>
<line x1="635.50" y1="486.90" x2="635.50" y2="488.70" stroke="#444" stroke-width="0.9" />
<text x="639.50" y="497.20" font-size="8.5" text-anchor="end" fill="#231f20" transform="rotate(-45 639.50 497.20)">MYCSE2-2</text>
<line x1="656.52" y1="486.90" x2="656.52" y2="488.70" stroke="#444" stroke-width="0.9" />
<text x="660.52" y="497.20" font-size="8.5" text-anchor="end" fill="#231f20" transform="rotate(-45 660.52 497.20)">MYCSE2-3</text>
<text x="492.80" y="439.40" font-size="8.7" text-anchor="middle" fill="#231f20" textLength="65.00" lengthAdjust="spacingAndGlyphs" transform="rotate(-90 492.80 439.40)"><tspan font-style="italic">MYC expression</tspan></text>
<line x1="525.70" y1="404.10" x2="658.80" y2="404.10" stroke="#999" stroke-width="1.3" />
<text x="593.50" y="397.60" font-size="8.8" text-anchor="middle" fill="#231f20">N.S.</text>
<text x="107.70" y="559.60" font-size="8.7" fill="#231f20" textLength="145.70" lengthAdjust="spacingAndGlyphs">JSC-CRISPRi inhibition of MYCSE1/2</text>
<rect x="110.20" y="632.50" width="14.20" height="59.80" fill="#fff" />
<polyline points="110.20,692.30 110.20,632.50 124.40,632.50 124.40,692.30" fill="none" stroke="#f49a22" stroke-width="1.2" />
<rect x="130.53" y="645.66" width="14.20" height="46.64" fill="#fff" />
<polyline points="130.53,692.30 130.53,645.66 144.73,645.66 144.73,692.30" fill="none" stroke="#f49a22" stroke-width="1.2" />
<rect x="150.86" y="643.26" width="14.20" height="49.04" fill="#fff" />
<polyline points="150.86,692.30 150.86,643.26 165.06,643.26 165.06,692.30" fill="none" stroke="#f49a22" stroke-width="1.2" />
<rect x="171.19" y="638.48" width="14.20" height="53.82" fill="#fff" />
<polyline points="171.19,692.30 171.19,638.48 185.39,638.48 185.39,692.30" fill="none" stroke="#f49a22" stroke-width="1.2" />
<rect x="191.52" y="649.24" width="14.20" height="43.06" fill="#fff" />
<polyline points="191.52,692.30 191.52,649.24 205.72,649.24 205.72,692.30" fill="none" stroke="#f49a22" stroke-width="1.2" />
<rect x="211.85" y="637.28" width="14.20" height="55.02" fill="#fff" />
<polyline points="211.85,692.30 211.85,637.28 226.05,637.28 226.05,692.30" fill="none" stroke="#f49a22" stroke-width="1.2" />
<rect x="232.18" y="640.87" width="14.20" height="51.43" fill="#fff" />
<polyline points="232.18,692.30 232.18,640.87 246.38,640.87 246.38,692.30" fill="none" stroke="#f49a22" stroke-width="1.2" />
<line x1="117.30" y1="631.90" x2="117.30" y2="633.10" stroke="#f49a22" stroke-width="0.9" />
<line x1="113.80" y1="631.90" x2="120.80" y2="631.90" stroke="#f49a22" stroke-width="0.9" />
<line x1="113.80" y1="633.10" x2="120.80" y2="633.10" stroke="#f49a22" stroke-width="0.9" />
<circle cx="114.30" cy="632.50" r="1.05" fill="#f49a22"/>
<circle cx="116.30" cy="633.70" r="1.05" fill="#f49a22"/>
<circle cx="118.30" cy="633.10" r="1.05" fill="#f49a22"/>
<circle cx="120.30" cy="631.30" r="1.05" fill="#f49a22"/>
<line x1="137.63" y1="645.36" x2="137.63" y2="645.95" stroke="#f49a22" stroke-width="0.9" />
<line x1="134.13" y1="645.36" x2="141.13" y2="645.36" stroke="#f49a22" stroke-width="0.9" />
<line x1="134.13" y1="645.95" x2="141.13" y2="645.95" stroke="#f49a22" stroke-width="0.9" />
<circle cx="134.63" cy="645.66" r="1.05" fill="#f49a22"/>
<circle cx="136.63" cy="646.25" r="1.05" fill="#f49a22"/>
<circle cx="138.63" cy="645.66" r="1.05" fill="#f49a22"/>
<circle cx="140.63" cy="645.66" r="1.05" fill="#f49a22"/>
<line x1="157.96" y1="640.87" x2="157.96" y2="645.66" stroke="#f49a22" stroke-width="0.9" />
<line x1="154.46" y1="640.87" x2="161.46" y2="640.87" stroke="#f49a22" stroke-width="0.9" />
<line x1="154.46" y1="645.66" x2="161.46" y2="645.66" stroke="#f49a22" stroke-width="0.9" />
<circle cx="154.96" cy="639.08" r="1.05" fill="#f49a22"/>
<circle cx="156.96" cy="643.26" r="1.05" fill="#f49a22"/>
<circle cx="158.96" cy="646.85" r="1.05" fill="#f49a22"/>
<circle cx="160.96" cy="645.66" r="1.05" fill="#f49a22"/>
<line x1="178.29" y1="637.88" x2="178.29" y2="639.08" stroke="#f49a22" stroke-width="0.9" />
<line x1="174.79" y1="637.88" x2="181.79" y2="637.88" stroke="#f49a22" stroke-width="0.9" />
<line x1="174.79" y1="639.08" x2="181.79" y2="639.08" stroke="#f49a22" stroke-width="0.9" />
<circle cx="175.29" cy="637.28" r="1.05" fill="#f49a22"/>
<circle cx="177.29" cy="638.48" r="1.05" fill="#f49a22"/>
<circle cx="179.29" cy="639.08" r="1.05" fill="#f49a22"/>
<circle cx="181.29" cy="637.88" r="1.05" fill="#f49a22"/>
<line x1="198.62" y1="648.94" x2="198.62" y2="649.54" stroke="#f49a22" stroke-width="0.9" />
<line x1="195.12" y1="648.94" x2="202.12" y2="648.94" stroke="#f49a22" stroke-width="0.9" />
<line x1="195.12" y1="649.54" x2="202.12" y2="649.54" stroke="#f49a22" stroke-width="0.9" />
<circle cx="195.62" cy="649.24" r="1.05" fill="#f49a22"/>
<circle cx="197.62" cy="649.84" r="1.05" fill="#f49a22"/>
<circle cx="199.62" cy="649.24" r="1.05" fill="#f49a22"/>
<circle cx="201.62" cy="648.65" r="1.05" fill="#f49a22"/>
<line x1="218.95" y1="636.09" x2="218.95" y2="638.48" stroke="#f49a22" stroke-width="0.9" />
<line x1="215.45" y1="636.09" x2="222.45" y2="636.09" stroke="#f49a22" stroke-width="0.9" />
<line x1="215.45" y1="638.48" x2="222.45" y2="638.48" stroke="#f49a22" stroke-width="0.9" />
<circle cx="215.95" cy="634.89" r="1.05" fill="#f49a22"/>
<circle cx="217.95" cy="636.69" r="1.05" fill="#f49a22"/>
<circle cx="219.95" cy="638.48" r="1.05" fill="#f49a22"/>
<circle cx="221.95" cy="637.88" r="1.05" fill="#f49a22"/>
<line x1="239.28" y1="639.68" x2="239.28" y2="642.07" stroke="#f49a22" stroke-width="0.9" />
<line x1="235.78" y1="639.68" x2="242.78" y2="639.68" stroke="#f49a22" stroke-width="0.9" />
<line x1="235.78" y1="642.07" x2="242.78" y2="642.07" stroke="#f49a22" stroke-width="0.9" />
<circle cx="236.28" cy="638.48" r="1.05" fill="#f49a22"/>
<circle cx="238.28" cy="640.87" r="1.05" fill="#f49a22"/>
<circle cx="240.28" cy="642.07" r="1.05" fill="#f49a22"/>
<circle cx="242.28" cy="641.47" r="1.05" fill="#f49a22"/>
<line x1="106.50" y1="602.60" x2="106.50" y2="692.80" stroke="#aaa" stroke-width="1.0" />
<line x1="106.50" y1="692.30" x2="249.90" y2="692.30" stroke="#444" stroke-width="1.2" />
<line x1="104.20" y1="692.30" x2="106.50" y2="692.30" stroke="#333" stroke-width="1.0" />
<text x="101.30" y="695.00" font-size="7.5" text-anchor="end" fill="#231f20">0.0</text>
<line x1="104.20" y1="662.40" x2="106.50" y2="662.40" stroke="#333" stroke-width="1.0" />
<text x="101.30" y="665.10" font-size="7.5" text-anchor="end" fill="#231f20">0.5</text>
<line x1="104.20" y1="632.50" x2="106.50" y2="632.50" stroke="#333" stroke-width="1.0" />
<text x="101.30" y="635.20" font-size="7.5" text-anchor="end" fill="#231f20">1.0</text>
<line x1="104.20" y1="602.60" x2="106.50" y2="602.60" stroke="#333" stroke-width="1.0" />
<text x="101.30" y="605.30" font-size="7.5" text-anchor="end" fill="#231f20">1.5</text>
<line x1="117.30" y1="692.30" x2="117.30" y2="694.10" stroke="#444" stroke-width="0.9" />
<text x="121.30" y="702.60" font-size="8.5" text-anchor="end" fill="#231f20" transform="rotate(-45 121.30 702.60)">Ctrl</text>
<line x1="137.63" y1="692.30" x2="137.63" y2="694.10" stroke="#444" stroke-width="0.9" />
<text x="141.63" y="702.60" font-size="8.5" text-anchor="end" fill="#231f20" transform="rotate(-45 141.63 702.60)">MYCSE1-1</text>
<line x1="157.96" y1="692.30" x2="157.96" y2="694.10" stroke="#444" stroke-width="0.9" />
<text x="161.96" y="702.60" font-size="8.5" text-anchor="end" fill="#231f20" transform="rotate(-45 161.96 702.60)">MYCSE1-2</text>
<line x1="178.29" y1="692.30" x2="178.29" y2="694.10" stroke="#444" stroke-width="0.9" />
<text x="182.29" y="702.60" font-size="8.5" text-anchor="end" fill="#231f20" transform="rotate(-45 182.29 702.60)">MYCSE1-3</text>
<line x1="198.62" y1="692.30" x2="198.62" y2="694.10" stroke="#444" stroke-width="0.9" />
<text x="202.62" y="702.60" font-size="8.5" text-anchor="end" fill="#231f20" transform="rotate(-45 202.62 702.60)">MYCSE2-1</text>
<line x1="218.95" y1="692.30" x2="218.95" y2="694.10" stroke="#444" stroke-width="0.9" />
<text x="222.95" y="702.60" font-size="8.5" text-anchor="end" fill="#231f20" transform="rotate(-45 222.95 702.60)">MYCSE2-2</text>
<line x1="239.28" y1="692.30" x2="239.28" y2="694.10" stroke="#444" stroke-width="0.9" />
<text x="243.28" y="702.60" font-size="8.5" text-anchor="end" fill="#231f20" transform="rotate(-45 243.28 702.60)">MYCSE2-3</text>
<text x="84.30" y="646.20" font-size="9.6" text-anchor="middle" fill="#231f20" textLength="92.90" lengthAdjust="spacingAndGlyphs" transform="rotate(-90 84.30 646.20)">Relative luminiscence</text>
<line x1="116.10" y1="628.90" x2="140.30" y2="628.90" stroke="#888" stroke-width="1.0" />
<text x="111.00" y="625.80" font-size="7.5" fill="#231f20"><tspan font-style="italic">P</tspan> &lt; 0.0001</text>
<line x1="116.10" y1="617.30" x2="159.00" y2="617.30" stroke="#999" stroke-width="1.0" />
<text x="120.10" y="615.10" font-size="7.5" fill="#231f20"><tspan font-style="italic">P</tspan> = 0.0019</text>
<line x1="116.10" y1="606.80" x2="180.20" y2="606.80" stroke="#999" stroke-width="1.0" />
<text x="127.30" y="603.50" font-size="7.5" fill="#231f20"><tspan font-style="italic">P</tspan> = 0.0005</text>
<line x1="116.10" y1="596.10" x2="200.10" y2="596.10" stroke="#444" stroke-width="1.0" />
<text x="137.40" y="592.70" font-size="7.5" fill="#231f20"><tspan font-style="italic">P</tspan> &lt; 0.0001</text>
<line x1="116.10" y1="586.00" x2="221.90" y2="586.00" stroke="#999" stroke-width="1.0" />
<text x="146.80" y="582.90" font-size="7.5" fill="#231f20"><tspan font-style="italic">P</tspan> = 0.0091</text>
<line x1="116.10" y1="575.30" x2="243.90" y2="575.30" stroke="#333" stroke-width="1.0" />
<text x="155.60" y="571.60" font-size="7.5" fill="#231f20"><tspan font-style="italic">P</tspan> = 0.0003</text>
<text x="296.90" y="559.90" font-size="8.7" fill="#231f20" textLength="156.50" lengthAdjust="spacingAndGlyphs">BCBL1-CRISPRi inhibition of MYCSE1/2</text>
<rect x="305.00" y="633.40" width="14.20" height="59.80" fill="#fff" />
<polyline points="305.00,693.20 305.00,633.40 319.20,633.40 319.20,693.20" fill="none" stroke="#f49a22" stroke-width="1.2" />
<rect x="325.45" y="645.36" width="14.20" height="47.84" fill="#fff" />
<polyline points="325.45,693.20 325.45,645.36 339.65,645.36 339.65,693.20" fill="none" stroke="#f49a22" stroke-width="1.2" />
<rect x="345.90" y="647.75" width="14.20" height="45.45" fill="#fff" />
<polyline points="345.90,693.20 345.90,647.75 360.10,647.75 360.10,693.20" fill="none" stroke="#f49a22" stroke-width="1.2" />
<rect x="366.35" y="641.17" width="14.20" height="52.03" fill="#fff" />
<polyline points="366.35,693.20 366.35,641.17 380.55,641.17 380.55,693.20" fill="none" stroke="#f49a22" stroke-width="1.2" />
<rect x="386.80" y="648.35" width="14.20" height="44.85" fill="#fff" />
<polyline points="386.80,693.20 386.80,648.35 401.00,648.35 401.00,693.20" fill="none" stroke="#f49a22" stroke-width="1.2" />
<rect x="407.25" y="638.78" width="14.20" height="54.42" fill="#fff" />
<polyline points="407.25,693.20 407.25,638.78 421.45,638.78 421.45,693.20" fill="none" stroke="#f49a22" stroke-width="1.2" />
<rect x="427.70" y="634.60" width="14.20" height="58.60" fill="#fff" />
<polyline points="427.70,693.20 427.70,634.60 441.90,634.60 441.90,693.20" fill="none" stroke="#f49a22" stroke-width="1.2" />
<line x1="312.10" y1="632.80" x2="312.10" y2="634.00" stroke="#f49a22" stroke-width="0.9" />
<line x1="308.60" y1="632.80" x2="315.60" y2="632.80" stroke="#f49a22" stroke-width="0.9" />
<line x1="308.60" y1="634.00" x2="315.60" y2="634.00" stroke="#f49a22" stroke-width="0.9" />
<circle cx="309.10" cy="633.40" r="1.05" fill="#f49a22"/>
<circle cx="311.10" cy="634.60" r="1.05" fill="#f49a22"/>
<circle cx="313.10" cy="632.80" r="1.05" fill="#f49a22"/>
<circle cx="315.10" cy="632.20" r="1.05" fill="#f49a22"/>
<line x1="332.55" y1="643.57" x2="332.55" y2="647.15" stroke="#f49a22" stroke-width="0.9" />
<line x1="329.05" y1="643.57" x2="336.05" y2="643.57" stroke="#f49a22" stroke-width="0.9" />
<line x1="329.05" y1="647.15" x2="336.05" y2="647.15" stroke="#f49a22" stroke-width="0.9" />
<circle cx="329.55" cy="641.77" r="1.05" fill="#f49a22"/>
<circle cx="331.55" cy="645.36" r="1.05" fill="#f49a22"/>
<circle cx="333.55" cy="648.95" r="1.05" fill="#f49a22"/>
<circle cx="335.55" cy="644.16" r="1.05" fill="#f49a22"/>
<line x1="353.00" y1="647.15" x2="353.00" y2="648.35" stroke="#f49a22" stroke-width="0.9" />
<line x1="349.50" y1="647.15" x2="356.50" y2="647.15" stroke="#f49a22" stroke-width="0.9" />
<line x1="349.50" y1="648.35" x2="356.50" y2="648.35" stroke="#f49a22" stroke-width="0.9" />
<circle cx="350.00" cy="647.75" r="1.05" fill="#f49a22"/>
<circle cx="352.00" cy="648.35" r="1.05" fill="#f49a22"/>
<circle cx="354.00" cy="647.15" r="1.05" fill="#f49a22"/>
<circle cx="356.00" cy="646.56" r="1.05" fill="#f49a22"/>
<line x1="373.45" y1="639.38" x2="373.45" y2="642.97" stroke="#f49a22" stroke-width="0.9" />
<line x1="369.95" y1="639.38" x2="376.95" y2="639.38" stroke="#f49a22" stroke-width="0.9" />
<line x1="369.95" y1="642.97" x2="376.95" y2="642.97" stroke="#f49a22" stroke-width="0.9" />
<circle cx="370.45" cy="635.19" r="1.05" fill="#f49a22"/>
<circle cx="372.45" cy="641.77" r="1.05" fill="#f49a22"/>
<circle cx="374.45" cy="642.37" r="1.05" fill="#f49a22"/>
<circle cx="376.45" cy="641.77" r="1.05" fill="#f49a22"/>
<line x1="393.90" y1="647.75" x2="393.90" y2="648.95" stroke="#f49a22" stroke-width="0.9" />
<line x1="390.40" y1="647.75" x2="397.40" y2="647.75" stroke="#f49a22" stroke-width="0.9" />
<line x1="390.40" y1="648.95" x2="397.40" y2="648.95" stroke="#f49a22" stroke-width="0.9" />
<circle cx="390.90" cy="647.15" r="1.05" fill="#f49a22"/>
<circle cx="392.90" cy="648.35" r="1.05" fill="#f49a22"/>
<circle cx="394.90" cy="648.95" r="1.05" fill="#f49a22"/>
<circle cx="396.90" cy="647.75" r="1.05" fill="#f49a22"/>
<line x1="414.35" y1="635.79" x2="414.35" y2="641.77" stroke="#f49a22" stroke-width="0.9" />
<line x1="410.85" y1="635.79" x2="417.85" y2="635.79" stroke="#f49a22" stroke-width="0.9" />
<line x1="410.85" y1="641.77" x2="417.85" y2="641.77" stroke="#f49a22" stroke-width="0.9" />
<circle cx="411.35" cy="632.80" r="1.05" fill="#f49a22"/>
<circle cx="413.35" cy="637.59" r="1.05" fill="#f49a22"/>
<circle cx="415.35" cy="641.77" r="1.05" fill="#f49a22"/>
<circle cx="417.35" cy="642.37" r="1.05" fill="#f49a22"/>
<line x1="434.80" y1="633.40" x2="434.80" y2="635.79" stroke="#f49a22" stroke-width="0.9" />
<line x1="431.30" y1="633.40" x2="438.30" y2="633.40" stroke="#f49a22" stroke-width="0.9" />
<line x1="431.30" y1="635.79" x2="438.30" y2="635.79" stroke="#f49a22" stroke-width="0.9" />
<circle cx="431.80" cy="632.20" r="1.05" fill="#f49a22"/>
<circle cx="433.80" cy="634.60" r="1.05" fill="#f49a22"/>
<circle cx="435.80" cy="635.79" r="1.05" fill="#f49a22"/>
<circle cx="437.80" cy="635.19" r="1.05" fill="#f49a22"/>
<line x1="301.30" y1="603.50" x2="301.30" y2="693.70" stroke="#333" stroke-width="1.0" />
<line x1="301.30" y1="693.20" x2="444.60" y2="693.20" stroke="#444" stroke-width="1.2" />
<line x1="299.00" y1="693.20" x2="301.30" y2="693.20" stroke="#333" stroke-width="1.0" />
<text x="296.10" y="695.90" font-size="7.5" text-anchor="end" fill="#231f20">0.0</text>
<line x1="299.00" y1="663.30" x2="301.30" y2="663.30" stroke="#333" stroke-width="1.0" />
<text x="296.10" y="666.00" font-size="7.5" text-anchor="end" fill="#231f20">0.5</text>
<line x1="299.00" y1="633.40" x2="301.30" y2="633.40" stroke="#333" stroke-width="1.0" />
<text x="296.10" y="636.10" font-size="7.5" text-anchor="end" fill="#231f20">1.0</text>
<line x1="299.00" y1="603.50" x2="301.30" y2="603.50" stroke="#333" stroke-width="1.0" />
<text x="296.10" y="606.20" font-size="7.5" text-anchor="end" fill="#231f20">1.5</text>
<line x1="312.10" y1="693.20" x2="312.10" y2="695.00" stroke="#444" stroke-width="0.9" />
<text x="316.10" y="703.50" font-size="8.5" text-anchor="end" fill="#231f20" transform="rotate(-45 316.10 703.50)">Ctrl</text>
<line x1="332.55" y1="693.20" x2="332.55" y2="695.00" stroke="#444" stroke-width="0.9" />
<text x="336.55" y="703.50" font-size="8.5" text-anchor="end" fill="#231f20" transform="rotate(-45 336.55 703.50)">MYCSE1-1</text>
<line x1="353.00" y1="693.20" x2="353.00" y2="695.00" stroke="#444" stroke-width="0.9" />
<text x="357.00" y="703.50" font-size="8.5" text-anchor="end" fill="#231f20" transform="rotate(-45 357.00 703.50)">MYCSE1-2</text>
<line x1="373.45" y1="693.20" x2="373.45" y2="695.00" stroke="#444" stroke-width="0.9" />
<text x="377.45" y="703.50" font-size="8.5" text-anchor="end" fill="#231f20" transform="rotate(-45 377.45 703.50)">MYCSE1-3</text>
<line x1="393.90" y1="693.20" x2="393.90" y2="695.00" stroke="#444" stroke-width="0.9" />
<text x="397.90" y="703.50" font-size="8.5" text-anchor="end" fill="#231f20" transform="rotate(-45 397.90 703.50)">MYCSE2-1</text>
<line x1="414.35" y1="693.20" x2="414.35" y2="695.00" stroke="#444" stroke-width="0.9" />
<text x="418.35" y="703.50" font-size="8.5" text-anchor="end" fill="#231f20" transform="rotate(-45 418.35 703.50)">MYCSE2-2</text>
<line x1="434.80" y1="693.20" x2="434.80" y2="695.00" stroke="#444" stroke-width="0.9" />
<text x="438.80" y="703.50" font-size="8.5" text-anchor="end" fill="#231f20" transform="rotate(-45 438.80 703.50)">MYCSE2-3</text>
<text x="279.00" y="647.70" font-size="9.6" text-anchor="middle" fill="#231f20" textLength="92.90" lengthAdjust="spacingAndGlyphs" transform="rotate(-90 279.00 647.70)">Relative luminiscence</text>
<line x1="309.30" y1="626.90" x2="334.20" y2="626.90" stroke="#888" stroke-width="1.0" />
<text x="307.30" y="623.70" font-size="7.5" fill="#231f20"><tspan font-style="italic">P</tspan> = 0.0003</text>
<line x1="309.30" y1="615.70" x2="353.20" y2="615.70" stroke="#555" stroke-width="1.0" />
<text x="317.90" y="613.70" font-size="7.5" fill="#231f20"><tspan font-style="italic">P</tspan> &lt; 0.0001</text>
<line x1="309.30" y1="604.90" x2="374.10" y2="604.90" stroke="#999" stroke-width="1.0" />
<text x="323.80" y="602.50" font-size="7.5" fill="#231f20"><tspan font-style="italic">P</tspan> = 0.0096</text>
<line x1="309.30" y1="594.50" x2="394.10" y2="594.50" stroke="#333" stroke-width="1.0" />
<text x="337.40" y="592.50" font-size="7.5" fill="#231f20"><tspan font-style="italic">P</tspan> &lt; 0.0001</text>
<text x="415.10" y="628.50" font-size="5.2" text-anchor="middle" fill="#231f20">N.S.</text>
<text x="435.00" y="627.00" font-size="5.2" text-anchor="middle" fill="#231f20">N.S.</text>
<text x="511.70" y="558.80" font-size="8.7" fill="#231f20" textLength="166.30" lengthAdjust="spacingAndGlyphs">GM12878-CRISPRi inhibition of MYCSE1/2</text>
<rect x="521.80" y="630.29" width="14.20" height="61.91" fill="#fff" />
<polyline points="521.80,692.20 521.80,630.29 536.00,630.29 536.00,692.20" fill="none" stroke="#f49a22" stroke-width="1.2" />
<rect x="542.30" y="635.14" width="14.20" height="57.06" fill="#fff" />
<polyline points="542.30,692.20 542.30,635.14 556.50,635.14 556.50,692.20" fill="none" stroke="#f49a22" stroke-width="1.2" />
<rect x="562.80" y="632.71" width="14.20" height="59.49" fill="#fff" />
<polyline points="562.80,692.20 562.80,632.71 577.00,632.71 577.00,692.20" fill="none" stroke="#f49a22" stroke-width="1.2" />
<rect x="583.30" y="635.75" width="14.20" height="56.45" fill="#fff" />
<polyline points="583.30,692.20 583.30,635.75 597.50,635.75 597.50,692.20" fill="none" stroke="#f49a22" stroke-width="1.2" />
<rect x="603.80" y="631.50" width="14.20" height="60.70" fill="#fff" />
<polyline points="603.80,692.20 603.80,631.50 618.00,631.50 618.00,692.20" fill="none" stroke="#f49a22" stroke-width="1.2" />
<rect x="624.30" y="633.93" width="14.20" height="58.27" fill="#fff" />
<polyline points="624.30,692.20 624.30,633.93 638.50,633.93 638.50,692.20" fill="none" stroke="#f49a22" stroke-width="1.2" />
<rect x="644.80" y="635.14" width="14.20" height="57.06" fill="#fff" />
<polyline points="644.80,692.20 644.80,635.14 659.00,635.14 659.00,692.20" fill="none" stroke="#f49a22" stroke-width="1.2" />
<line x1="528.90" y1="628.47" x2="528.90" y2="632.11" stroke="#f49a22" stroke-width="0.9" />
<line x1="525.40" y1="628.47" x2="532.40" y2="628.47" stroke="#f49a22" stroke-width="0.9" />
<line x1="525.40" y1="632.11" x2="532.40" y2="632.11" stroke="#f49a22" stroke-width="0.9" />
<circle cx="525.90" cy="625.43" r="1.05" fill="#f49a22"/>
<circle cx="527.90" cy="630.29" r="1.05" fill="#f49a22"/>
<circle cx="529.90" cy="632.11" r="1.05" fill="#f49a22"/>
<circle cx="531.90" cy="630.89" r="1.05" fill="#f49a22"/>
<line x1="549.40" y1="633.93" x2="549.40" y2="636.36" stroke="#f49a22" stroke-width="0.9" />
<line x1="545.90" y1="633.93" x2="552.90" y2="633.93" stroke="#f49a22" stroke-width="0.9" />
<line x1="545.90" y1="636.36" x2="552.90" y2="636.36" stroke="#f49a22" stroke-width="0.9" />
<circle cx="546.40" cy="633.32" r="1.05" fill="#f49a22"/>
<circle cx="548.40" cy="635.14" r="1.05" fill="#f49a22"/>
<circle cx="550.40" cy="636.36" r="1.05" fill="#f49a22"/>
<circle cx="552.40" cy="635.75" r="1.05" fill="#f49a22"/>
<line x1="569.90" y1="630.89" x2="569.90" y2="634.54" stroke="#f49a22" stroke-width="0.9" />
<line x1="566.40" y1="630.89" x2="573.40" y2="630.89" stroke="#f49a22" stroke-width="0.9" />
<line x1="566.40" y1="634.54" x2="573.40" y2="634.54" stroke="#f49a22" stroke-width="0.9" />
<circle cx="566.90" cy="629.07" r="1.05" fill="#f49a22"/>
<circle cx="568.90" cy="632.71" r="1.05" fill="#f49a22"/>
<circle cx="570.90" cy="634.54" r="1.05" fill="#f49a22"/>
<circle cx="572.90" cy="632.11" r="1.05" fill="#f49a22"/>
<line x1="590.40" y1="632.71" x2="590.40" y2="638.78" stroke="#f49a22" stroke-width="0.9" />
<line x1="586.90" y1="632.71" x2="593.90" y2="632.71" stroke="#f49a22" stroke-width="0.9" />
<line x1="586.90" y1="638.78" x2="593.90" y2="638.78" stroke="#f49a22" stroke-width="0.9" />
<circle cx="587.40" cy="630.29" r="1.05" fill="#f49a22"/>
<circle cx="589.40" cy="633.93" r="1.05" fill="#f49a22"/>
<circle cx="591.40" cy="638.78" r="1.05" fill="#f49a22"/>
<circle cx="593.40" cy="640.00" r="1.05" fill="#f49a22"/>
<line x1="610.90" y1="630.29" x2="610.90" y2="632.71" stroke="#f49a22" stroke-width="0.9" />
<line x1="607.40" y1="630.29" x2="614.40" y2="630.29" stroke="#f49a22" stroke-width="0.9" />
<line x1="607.40" y1="632.71" x2="614.40" y2="632.71" stroke="#f49a22" stroke-width="0.9" />
<circle cx="607.90" cy="629.68" r="1.05" fill="#f49a22"/>
<circle cx="609.90" cy="631.50" r="1.05" fill="#f49a22"/>
<circle cx="611.90" cy="632.11" r="1.05" fill="#f49a22"/>
<circle cx="613.90" cy="632.71" r="1.05" fill="#f49a22"/>
<line x1="631.40" y1="632.71" x2="631.40" y2="635.14" stroke="#f49a22" stroke-width="0.9" />
<line x1="627.90" y1="632.71" x2="634.90" y2="632.71" stroke="#f49a22" stroke-width="0.9" />
<line x1="627.90" y1="635.14" x2="634.90" y2="635.14" stroke="#f49a22" stroke-width="0.9" />
<circle cx="628.40" cy="630.29" r="1.05" fill="#f49a22"/>
<circle cx="630.40" cy="633.93" r="1.05" fill="#f49a22"/>
<circle cx="632.40" cy="635.14" r="1.05" fill="#f49a22"/>
<circle cx="634.40" cy="634.54" r="1.05" fill="#f49a22"/>
<line x1="651.90" y1="633.93" x2="651.90" y2="636.36" stroke="#f49a22" stroke-width="0.9" />
<line x1="648.40" y1="633.93" x2="655.40" y2="633.93" stroke="#f49a22" stroke-width="0.9" />
<line x1="648.40" y1="636.36" x2="655.40" y2="636.36" stroke="#f49a22" stroke-width="0.9" />
<circle cx="648.90" cy="633.32" r="1.05" fill="#f49a22"/>
<circle cx="650.90" cy="635.14" r="1.05" fill="#f49a22"/>
<circle cx="652.90" cy="635.75" r="1.05" fill="#f49a22"/>
<circle cx="654.90" cy="636.36" r="1.05" fill="#f49a22"/>
<line x1="519.60" y1="601.15" x2="519.60" y2="692.70" stroke="#333" stroke-width="1.0" />
<line x1="519.60" y1="692.20" x2="662.10" y2="692.20" stroke="#444" stroke-width="1.2" />
<line x1="517.30" y1="692.20" x2="519.60" y2="692.20" stroke="#333" stroke-width="1.0" />
<text x="514.40" y="694.90" font-size="7.5" text-anchor="end" fill="#231f20">0.0</text>
<line x1="517.30" y1="661.85" x2="519.60" y2="661.85" stroke="#333" stroke-width="1.0" />
<text x="514.40" y="664.55" font-size="7.5" text-anchor="end" fill="#231f20">0.5</text>
<line x1="517.30" y1="631.50" x2="519.60" y2="631.50" stroke="#333" stroke-width="1.0" />
<text x="514.40" y="634.20" font-size="7.5" text-anchor="end" fill="#231f20">1.0</text>
<line x1="517.30" y1="601.15" x2="519.60" y2="601.15" stroke="#333" stroke-width="1.0" />
<text x="514.40" y="603.85" font-size="7.5" text-anchor="end" fill="#231f20">1.5</text>
<line x1="528.90" y1="692.20" x2="528.90" y2="694.00" stroke="#444" stroke-width="0.9" />
<text x="532.90" y="702.50" font-size="8.5" text-anchor="end" fill="#231f20" transform="rotate(-45 532.90 702.50)">Ctrl</text>
<line x1="549.40" y1="692.20" x2="549.40" y2="694.00" stroke="#444" stroke-width="0.9" />
<text x="553.40" y="702.50" font-size="8.5" text-anchor="end" fill="#231f20" transform="rotate(-45 553.40 702.50)">MYCSE1-1</text>
<line x1="569.90" y1="692.20" x2="569.90" y2="694.00" stroke="#444" stroke-width="0.9" />
<text x="573.90" y="702.50" font-size="8.5" text-anchor="end" fill="#231f20" transform="rotate(-45 573.90 702.50)">MYCSE1-2</text>
<line x1="590.40" y1="692.20" x2="590.40" y2="694.00" stroke="#444" stroke-width="0.9" />
<text x="594.40" y="702.50" font-size="8.5" text-anchor="end" fill="#231f20" transform="rotate(-45 594.40 702.50)">MYCSE1-3</text>
<line x1="610.90" y1="692.20" x2="610.90" y2="694.00" stroke="#444" stroke-width="0.9" />
<text x="614.90" y="702.50" font-size="8.5" text-anchor="end" fill="#231f20" transform="rotate(-45 614.90 702.50)">MYCSE2-1</text>
<line x1="631.40" y1="692.20" x2="631.40" y2="694.00" stroke="#444" stroke-width="0.9" />
<text x="635.40" y="702.50" font-size="8.5" text-anchor="end" fill="#231f20" transform="rotate(-45 635.40 702.50)">MYCSE2-2</text>
<line x1="651.90" y1="692.20" x2="651.90" y2="694.00" stroke="#444" stroke-width="0.9" />
<text x="655.90" y="702.50" font-size="8.5" text-anchor="end" fill="#231f20" transform="rotate(-45 655.90 702.50)">MYCSE2-3</text>
<text x="497.00" y="647.50" font-size="9.6" text-anchor="middle" fill="#231f20" textLength="92.60" lengthAdjust="spacingAndGlyphs" transform="rotate(-90 497.00 647.50)">Relative luminiscence</text>
<line x1="524.30" y1="609.70" x2="657.70" y2="609.70" stroke="#666" stroke-width="1.0" />
<text x="596.20" y="603.40" font-size="8.8" text-anchor="middle" fill="#231f20">N.S.</text>
<text x="6.90" y="768.30" font-size="17.5" font-weight="bold" fill="#000">d</text>
<text x="142.10" y="776.40" font-size="10.5" fill="#231f20" textLength="136.20" lengthAdjust="spacingAndGlyphs">Chr8:128790000-129300000</text>
<rect x="106.25" y="782.70" width="1.50" height="159.60" fill="#fcf0a6" />
<rect x="316.85" y="782.70" width="1.50" height="159.60" fill="#fcf0a6" />
<rect x="326.85" y="782.70" width="1.50" height="159.60" fill="#fcf0a6" />
<line x1="73.10" y1="815.10" x2="346.00" y2="815.10" stroke="#a6a8dc" stroke-width="0.6" />
<path d="M74.1 815.1L74.10 815.10L74.45 815.10L74.80 815.10L75.15 815.10L75.50 815.10L75.85 815.10L76.20 815.10L76.55 815.10L76.90 815.10L77.25 815.10L77.60 815.10L77.95 815.10L78.30 815.10L78.65 815.10L79.00 815.10L79.35 815.10L79.70 815.10L80.05 815.10L80.40 815.10L80.75 815.10L81.10 815.10L81.45 815.10L81.80 815.10L82.15 815.10L82.50 815.10L82.85 815.10L83.20 815.10L83.55 815.10L83.90 815.10L84.25 815.10L84.60 815.10L84.95 815.10L85.30 815.10L85.65 815.10L86.00 815.10L86.35 815.10L86.70 815.10L87.05 815.10L87.40 815.10L87.75 815.10L88.10 815.10L88.45 815.10L88.80 815.10L89.15 815.10L89.50 815.10L89.85 815.08L90.20 815.01L90.55 814.78L90.90 814.27L91.25 813.40L91.60 812.37L91.95 811.68L92.30 811.74L92.65 812.51L93.00 813.54L93.35 814.37L93.70 814.83L94.05 815.02L94.40 815.08L94.75 815.10L95.10 815.10L95.45 815.10L95.80 815.10L96.15 815.10L96.50 815.10L96.85 815.10L97.20 815.10L97.55 815.10L97.90 815.10L98.25 815.10L98.60 815.10L98.95 815.10L99.30 815.10L99.65 815.10L100.00 815.10L100.35 815.10L100.70 815.10L101.05 815.10L101.40 815.10L101.75 815.10L102.10 815.10L102.45 815.10L102.80 815.10L103.15 815.10L103.50 815.10L103.85 815.10L104.20 815.10L104.55 815.10L104.90 815.10L105.25 815.10L105.60 815.10L105.95 815.10L106.30 815.10L106.65 815.10L107.00 815.10L107.35 815.10L107.70 815.10L108.05 815.10L108.40 815.10L108.75 815.10L109.10 815.10L109.45 815.10L109.80 815.10L110.15 815.10L110.50 815.10L110.85 815.10L111.20 815.10L111.55 815.10L111.90 815.10L112.25 815.10L112.60 815.10L112.95 815.10L113.30 815.10L113.65 815.10L114.00 815.10L114.35 815.10L114.70 815.10L115.05 815.10L115.40 815.10L115.75 815.10L116.10 815.10L116.45 815.08L116.80 814.99L117.15 814.56L117.50 813.34L117.85 811.20L118.20 809.16L118.55 808.82L118.90 810.26L119.25 811.93L119.60 812.67L119.95 812.66L120.30 812.58L120.65 812.80L121.00 813.32L121.35 813.94L121.70 814.46L122.05 814.80L122.40 814.98L122.75 815.06L123.10 815.09L123.45 815.10L123.80 815.10L124.15 815.10L124.50 815.10L124.85 815.10L125.20 815.10L125.55 815.10L125.90 815.10L126.25 815.10L126.60 815.10L126.95 815.10L127.30 815.10L127.65 815.10L128.00 815.10L128.35 815.10L128.70 815.10L129.05 815.10L129.40 815.10L129.75 815.10L130.10 815.10L130.45 815.10L130.80 815.10L131.15 815.10L131.50 815.10L131.85 815.10L132.20 815.10L132.55 815.10L132.90 815.10L133.25 815.10L133.60 815.10L133.95 815.10L134.30 815.10L134.65 815.10L135.00 815.10L135.35 815.10L135.70 815.10L136.05 815.10L136.40 815.10L136.75 815.10L137.10 815.10L137.45 815.10L137.80 815.10L138.15 815.10L138.50 815.10L138.85 815.10L139.20 815.10L139.55 815.10L139.90 815.10L140.25 815.10L140.60 815.10L140.95 815.10L141.30 815.10L141.65 815.10L142.00 815.10L142.35 815.10L142.70 815.10L143.05 815.10L143.40 815.10L143.75 815.10L144.10 815.10L144.45 815.10L144.80 815.10L145.15 815.10L145.50 815.10L145.85 815.10L146.20 815.10L146.55 815.10L146.90 815.10L147.25 815.10L147.60 815.10L147.95 815.10L148.30 815.10L148.65 815.10L149.00 815.10L149.35 815.10L149.70 815.10L150.05 815.10L150.40 815.10L150.75 815.10L151.10 815.10L151.45 815.10L151.80 815.10L152.15 815.10L152.50 815.10L152.85 815.10L153.20 815.10L153.55 815.10L153.90 815.10L154.25 815.10L154.60 815.10L154.95 815.10L155.30 815.10L155.65 815.09L156.00 815.08L156.35 815.06L156.70 815.03L157.05 814.99L157.40 814.92L157.75 814.82L158.10 814.69L158.45 814.55L158.80 814.40L159.15 814.27L159.50 814.16L159.85 814.11L160.20 814.11L160.55 814.17L160.90 814.28L161.25 814.42L161.60 814.57L161.95 814.71L162.30 814.83L162.65 814.93L163.00 814.99L163.35 815.04L163.70 815.07L164.05 815.08L164.40 815.09L164.75 815.10L165.10 815.10L165.45 815.10L165.80 815.10L166.15 815.10L166.50 815.10L166.85 815.10L167.20 815.10L167.55 815.07L167.90 814.98L168.25 814.69L168.60 814.07L168.95 813.17L169.30 812.43L169.65 812.38L170.00 813.04L170.35 813.95L170.70 814.63L171.05 814.96L171.40 815.07L171.75 815.09L172.10 815.10L172.45 815.10L172.80 815.10L173.15 815.10L173.50 815.10L173.85 815.10L174.20 815.10L174.55 815.10L174.90 815.10L175.25 815.10L175.60 815.10L175.95 815.10L176.30 815.10L176.65 815.10L177.00 815.10L177.35 815.10L177.70 815.10L178.05 815.10L178.40 815.10L178.75 815.10L179.10 815.10L179.45 815.10L179.80 815.10L180.15 815.10L180.50 815.10L180.85 815.10L181.20 815.10L181.55 815.10L181.90 815.10L182.25 815.10L182.60 815.10L182.95 815.10L183.30 815.10L183.65 815.10L184.00 815.10L184.35 815.10L184.70 815.10L185.05 815.10L185.40 815.10L185.75 815.10L186.10 815.10L186.45 815.10L186.80 815.10L187.15 815.10L187.50 815.10L187.85 815.10L188.20 815.10L188.55 815.10L188.90 815.10L189.25 815.10L189.60 815.10L189.95 815.10L190.30 815.10L190.65 815.10L191.00 815.10L191.35 815.10L191.70 815.10L192.05 815.10L192.40 815.10L192.75 815.10L193.10 815.10L193.45 815.10L193.80 815.10L194.15 815.10L194.50 815.10L194.85 815.10L195.20 815.10L195.55 815.10L195.90 815.10L196.25 815.10L196.60 815.10L196.95 815.10L197.30 815.10L197.65 815.10L198.00 815.10L198.35 815.10L198.70 815.10L199.05 815.10L199.40 815.10L199.75 815.10L200.10 815.10L200.45 815.10L200.80 815.10L201.15 815.10L201.50 815.10L201.85 815.10L202.20 815.10L202.55 815.10L202.90 815.10L203.25 815.10L203.60 815.09L203.95 815.04L204.30 814.84L204.65 814.21L205.00 812.84L205.35 810.84L205.70 809.10L206.05 808.69L206.40 809.72L206.75 811.21L207.10 812.27L207.45 812.79L207.80 813.13L208.15 813.53L208.50 813.99L208.85 814.42L209.20 814.74L209.55 814.93L209.90 815.03L210.25 815.08L210.60 815.09L210.95 815.10L211.30 815.10L211.65 815.10L212.00 815.10L212.35 815.10L212.70 815.10L213.05 815.09L213.40 815.05L213.75 814.94L214.10 814.67L214.45 814.23L214.80 813.70L215.15 813.34L215.50 813.37L215.85 813.77L216.20 814.30L216.55 814.72L216.90 814.96L217.25 815.06L217.60 815.09L217.95 815.10L218.30 815.10L218.65 815.10L219.00 815.10L219.35 815.10L219.70 815.10L220.05 815.10L220.40 815.10L220.75 815.10L221.10 815.10L221.45 815.10L221.80 815.10L222.15 815.10L222.50 815.10L222.85 815.10L223.20 815.10L223.55 815.10L223.90 815.10L224.25 815.10L224.60 815.10L224.95 815.10L225.30 815.10L225.65 815.10L226.00 815.10L226.35 815.10L226.70 815.10L227.05 815.10L227.40 815.10L227.75 815.10L228.10 815.10L228.45 815.10L228.80 815.10L229.15 815.10L229.50 815.10L229.85 815.10L230.20 815.10L230.55 815.10L230.90 815.10L231.25 815.10L231.60 815.10L231.95 815.10L232.30 815.10L232.65 815.10L233.00 815.10L233.35 815.10L233.70 815.10L234.05 815.10L234.40 815.10L234.75 815.10L235.10 815.09L235.45 815.08L235.80 815.05L236.15 815.00L236.50 814.91L236.85 814.79L237.20 814.63L237.55 814.48L237.90 814.35L238.25 814.30L238.60 814.33L238.95 814.44L239.30 814.59L239.65 814.74L240.00 814.88L240.35 814.98L240.70 815.04L241.05 815.07L241.40 815.09L241.75 815.10L242.10 815.10L242.45 815.10L242.80 815.10L243.15 815.10L243.50 815.10L243.85 815.10L244.20 815.10L244.55 815.10L244.90 815.10L245.25 815.10L245.60 815.10L245.95 815.09L246.30 815.07L246.65 814.99L247.00 814.82L247.35 814.52L247.70 814.17L248.05 813.93L248.40 813.95L248.75 814.21L249.10 814.57L249.45 814.85L249.80 815.01L250.15 815.07L250.50 815.09L250.85 815.10L251.20 815.10L251.55 815.10L251.90 815.10L252.25 815.10L252.60 815.10L252.95 815.10L253.30 815.10L253.65 815.10L254.00 815.10L254.35 815.10L254.70 815.10L255.05 815.09L255.40 815.06L255.75 814.87L256.10 814.21L256.45 812.54L256.80 809.62L257.15 806.30L257.50 803.62L257.85 800.09L258.20 792.81L258.55 785.68L258.90 787.83L259.25 797.82L259.60 805.14L259.95 806.68L260.30 807.07L260.65 809.26L261.00 812.16L261.35 814.09L261.70 814.86L262.05 815.06L262.40 815.10L262.75 815.10L263.10 815.10L263.45 815.09L263.80 815.04L264.15 814.84L264.50 814.25L264.85 813.05L265.20 811.43L265.55 810.24L265.90 810.34L266.25 811.66L266.60 813.26L266.95 814.37L267.30 814.89L267.65 815.05L268.00 815.09L268.35 815.10L268.70 815.10L269.05 815.10L269.40 815.10L269.75 815.10L270.10 815.10L270.45 815.10L270.80 815.10L271.15 815.10L271.50 815.10L271.85 815.10L272.20 815.10L272.55 815.10L272.90 815.10L273.25 815.10L273.60 815.10L273.95 815.10L274.30 815.10L274.65 815.10L275.00 815.10L275.35 815.10L275.70 815.10L276.05 815.10L276.40 815.10L276.75 815.10L277.10 815.10L277.45 815.10L277.80 815.10L278.15 815.10L278.50 815.10L278.85 815.10L279.20 815.10L279.55 815.10L279.90 815.10L280.25 815.10L280.60 815.10L280.95 815.09L281.30 815.07L281.65 814.99L282.00 814.82L282.35 814.52L282.70 814.17L283.05 813.93L283.40 813.95L283.75 814.21L284.10 814.57L284.45 814.85L284.80 815.01L285.15 815.07L285.50 815.09L285.85 815.10L286.20 815.10L286.55 815.10L286.90 815.10L287.25 815.10L287.60 815.10L287.95 815.10L288.30 815.09L288.65 815.07L289.00 814.96L289.35 814.65L289.70 813.92L290.05 812.67L290.40 811.21L290.75 810.21L291.10 810.30L291.45 811.41L291.80 812.88L292.15 814.05L292.50 814.71L292.85 814.99L293.20 815.07L293.55 815.10L293.90 815.10L294.25 815.10L294.60 815.10L294.95 815.10L295.30 815.10L295.65 815.10L296.00 815.10L296.35 815.10L296.70 815.10L297.05 815.10L297.40 815.10L297.75 815.10L298.10 815.10L298.45 815.10L298.80 815.10L299.15 815.10L299.50 815.10L299.85 815.10L300.20 815.10L300.55 815.10L300.90 815.10L301.25 815.10L301.60 815.10L301.95 815.10L302.30 815.10L302.65 815.10L303.00 815.10L303.35 815.10L303.70 815.10L304.05 815.10L304.40 815.10L304.75 815.10L305.10 815.10L305.45 815.09L305.80 815.00L306.15 814.43L306.50 812.39L306.85 808.49L307.20 805.30L307.55 806.30L307.90 810.30L308.25 813.51L308.60 814.78L308.95 815.06L309.30 815.10L309.65 815.10L310.00 815.10L310.35 815.10L310.70 815.10L311.05 815.10L311.40 815.10L311.75 815.10L312.10 815.10L312.45 815.10L312.80 815.10L313.15 815.10L313.50 815.09L313.85 814.96L314.20 814.11L314.55 810.79L314.90 803.65L315.25 796.27L315.60 795.11L315.95 799.61L316.30 803.94L316.65 806.56L317.00 809.12L317.35 811.81L317.70 813.75L318.05 814.69L318.40 815.01L318.75 815.08L319.10 815.10L319.45 815.10L319.80 815.10L320.15 815.10L320.50 815.10L320.85 815.10L321.20 815.10L321.55 815.10L321.90 815.10L322.25 815.10L322.60 815.10L322.95 815.10L323.30 815.10L323.65 815.10L324.00 815.10L324.35 815.10L324.70 815.10L325.05 815.10L325.40 815.09L325.75 814.96L326.10 813.94L326.45 810.35L326.80 805.25L327.15 804.75L327.50 809.55L327.85 813.39L328.20 814.19L328.55 813.42L328.90 812.01L329.25 810.56L329.60 809.75L329.95 809.85L330.30 810.51L330.65 811.23L331.00 811.90L331.35 812.65L331.70 813.51L332.05 814.26L332.40 814.75L332.75 814.98L333.10 815.07L333.45 815.09L333.80 815.10L334.15 815.10L334.50 815.10L334.85 815.10L335.20 815.10L335.55 815.10L335.90 815.10L336.25 815.10L336.60 815.10L336.95 815.10L337.30 815.10L337.65 815.10L338.00 815.10L338.35 815.10L338.70 815.10L339.05 815.10L339.40 815.10L339.75 815.10L340.10 815.10L340.45 815.10L340.80 815.10L341.15 815.10L341.50 815.10L341.85 815.10L342.20 815.10L342.55 815.10L342.90 815.10L343.25 815.10L343.60 815.10L343.95 815.10L344.30 815.10L344.65 815.10L345.0 815.1Z" fill="#2e3192" stroke="#2e3192" stroke-width="0.4"/>
<rect x="301.40" y="793.10" width="30.60" height="21.50" fill="none" stroke="#111" stroke-width="1.1" />
<path d="M73.9 840.9L73.90 838.92L74.40 839.34L74.90 838.48L75.40 839.00L75.90 838.09L76.40 837.53L76.90 837.43L77.40 837.97L77.90 834.31L78.40 838.13L78.90 838.60L79.40 838.12L79.90 837.95L80.40 837.37L80.90 837.82L81.40 837.64L81.90 834.73L82.40 836.16L82.90 837.60L83.40 837.01L83.90 837.49L84.40 837.48L84.90 837.68L85.40 836.76L85.90 836.43L86.40 837.49L86.90 837.16L87.40 837.08L87.90 836.91L88.40 837.54L88.90 837.19L89.40 837.35L89.90 837.10L90.40 837.47L90.90 837.45L91.40 837.30L91.90 830.90L92.40 833.90L92.90 833.90L93.40 837.44L93.90 837.18L94.40 837.18L94.90 837.62L95.40 837.76L95.90 835.90L96.40 836.89L96.90 838.44L97.40 838.17L97.90 838.32L98.40 836.43L98.90 837.04L99.40 838.02L99.90 832.05L100.40 837.80L100.90 836.06L101.40 839.03L101.90 838.13L102.40 838.80L102.90 837.74L103.40 836.97L103.90 838.22L104.40 838.67L104.90 838.24L105.40 837.80L105.90 838.60L106.40 838.97L106.90 839.30L107.40 839.72L107.90 839.59L108.40 839.27L108.90 838.72L109.40 838.73L109.90 834.90L110.40 837.71L110.90 838.45L111.40 839.32L111.90 837.51L112.40 838.53L112.90 838.41L113.40 839.46L113.90 839.06L114.40 838.27L114.90 837.65L115.40 838.54L115.90 838.71L116.40 838.29L116.90 838.31L117.40 837.99L117.90 838.80L118.40 832.40L118.90 832.40L119.40 838.47L119.90 838.95L120.40 837.93L120.90 838.71L121.40 839.28L121.90 839.10L122.40 837.71L122.90 839.26L123.40 838.44L123.90 837.62L124.40 838.87L124.90 837.61L125.40 839.05L125.90 839.33L126.40 838.98L126.90 838.69L127.40 838.69L127.90 839.44L128.40 837.93L128.90 839.56L129.40 839.76L129.90 839.28L130.40 839.83L130.90 838.23L131.40 837.49L131.90 839.17L132.40 838.74L132.90 839.24L133.40 838.28L133.90 839.04L134.40 838.83L134.90 838.98L135.40 839.47L135.90 839.99L136.40 838.81L136.90 839.88L137.40 838.69L137.90 839.18L138.40 839.65L138.90 839.49L139.40 839.78L139.90 840.01L140.40 839.22L140.90 838.91L141.40 838.39L141.90 839.11L142.40 839.07L142.90 838.92L143.40 838.59L143.90 838.32L144.40 838.27L144.90 838.63L145.40 836.91L145.90 838.52L146.40 838.15L146.90 838.45L147.40 838.87L147.90 838.37L148.40 838.14L148.90 836.92L149.40 836.97L149.90 837.96L150.40 837.59L150.90 836.86L151.40 837.58L151.90 837.96L152.40 836.61L152.90 837.46L153.40 838.84L153.90 837.09L154.40 837.33L154.90 837.34L155.40 836.93L155.90 838.07L156.40 838.42L156.90 837.81L157.40 837.90L157.90 837.62L158.40 837.17L158.90 838.23L159.40 839.02L159.90 838.34L160.40 838.32L160.90 837.26L161.40 832.90L161.90 839.35L162.40 838.51L162.90 837.87L163.40 838.50L163.90 838.49L164.40 838.49L164.90 838.62L165.40 839.08L165.90 839.20L166.40 839.04L166.90 838.48L167.40 838.02L167.90 837.45L168.40 838.71L168.90 839.38L169.40 839.64L169.90 839.85L170.40 839.94L170.90 840.02L171.40 839.29L171.90 839.67L172.40 839.54L172.90 839.47L173.40 838.75L173.90 839.27L174.40 839.65L174.90 839.52L175.40 839.17L175.90 839.22L176.40 839.10L176.90 839.63L177.40 838.90L177.90 839.36L178.40 838.95L178.90 839.75L179.40 839.09L179.90 839.80L180.40 839.20L180.90 839.16L181.40 839.38L181.90 838.33L182.40 838.45L182.90 838.43L183.40 838.63L183.90 838.34L184.40 838.13L184.90 838.01L185.40 837.84L185.90 837.18L186.40 838.07L186.90 838.00L187.40 838.22L187.90 838.20L188.40 838.58L188.90 837.83L189.40 838.80L189.90 836.08L190.40 839.08L190.90 838.52L191.40 838.04L191.90 838.19L192.40 838.08L192.90 836.93L193.40 837.45L193.90 838.35L194.40 837.06L194.90 839.24L195.40 837.63L195.90 838.12L196.40 837.54L196.90 838.33L197.40 837.31L197.90 838.69L198.40 838.60L198.90 837.72L199.40 838.43L199.90 837.39L200.40 837.90L200.90 835.00L201.40 838.25L201.90 837.23L202.40 838.01L202.90 837.08L203.40 838.38L203.90 837.13L204.40 838.19L204.90 839.20L205.40 838.29L205.90 838.94L206.40 838.62L206.90 838.32L207.40 837.00L207.90 837.79L208.40 836.57L208.90 836.84L209.40 838.91L209.90 838.47L210.40 838.14L210.90 838.12L211.40 838.78L211.90 838.47L212.40 838.63L212.90 838.95L213.40 839.52L213.90 839.00L214.40 838.87L214.90 839.01L215.40 839.52L215.90 836.90L216.40 839.18L216.90 838.69L217.40 839.48L217.90 839.25L218.40 839.75L218.90 839.32L219.40 838.63L219.90 839.19L220.40 838.42L220.90 839.40L221.40 839.20L221.90 838.53L222.40 838.96L222.90 839.34L223.40 839.36L223.90 838.17L224.40 837.45L224.90 839.34L225.40 838.77L225.90 839.59L226.40 839.41L226.90 840.01L227.40 839.78L227.90 839.17L228.40 839.90L228.90 839.45L229.40 838.95L229.90 839.14L230.40 838.41L230.90 838.10L231.40 839.81L231.90 838.11L232.40 839.39L232.90 837.62L233.40 838.89L233.90 837.54L234.40 839.04L234.90 838.66L235.40 837.20L235.90 838.95L236.40 838.74L236.90 839.38L237.40 839.56L237.90 839.57L238.40 838.71L238.90 839.64L239.40 837.68L239.90 839.46L240.40 838.46L240.90 839.86L241.40 839.21L241.90 839.37L242.40 839.96L242.90 839.85L243.40 838.90L243.90 838.95L244.40 839.33L244.90 834.40L245.40 838.90L245.90 839.15L246.40 838.58L246.90 838.16L247.40 838.97L247.90 839.32L248.40 839.57L248.90 839.94L249.40 839.28L249.90 834.90L250.40 838.89L250.90 838.80L251.40 839.77L251.90 839.86L252.40 838.56L252.90 838.58L253.40 837.44L253.90 837.71L254.40 838.60L254.90 838.10L255.40 837.55L255.90 836.89L256.40 838.30L256.90 838.10L257.40 837.37L257.90 838.01L258.40 838.75L258.90 838.14L259.40 838.50L259.90 838.72L260.40 838.41L260.90 837.23L261.40 837.47L261.90 837.87L262.40 833.01L262.90 838.39L263.40 838.01L263.90 838.41L264.40 837.86L264.90 839.57L265.40 839.83L265.90 839.54L266.40 839.07L266.90 838.38L267.40 839.96L267.90 840.04L268.40 839.02L268.90 838.32L269.40 840.08L269.90 838.60L270.40 839.16L270.90 839.08L271.40 839.46L271.90 839.21L272.40 839.79L272.90 839.28L273.40 838.54L273.90 839.39L274.40 837.35L274.90 839.89L275.40 839.03L275.90 839.39L276.40 838.69L276.90 837.81L277.40 838.90L277.90 838.27L278.40 837.96L278.90 838.49L279.40 838.96L279.90 838.93L280.40 837.77L280.90 838.49L281.40 838.26L281.90 838.13L282.40 838.89L282.90 838.05L283.40 838.94L283.90 839.22L284.40 838.68L284.90 839.09L285.40 838.42L285.90 838.65L286.40 837.29L286.90 837.52L287.40 838.53L287.90 837.26L288.40 837.10L288.90 837.91L289.40 833.82L289.90 837.41L290.40 836.97L290.90 836.82L291.40 837.36L291.90 837.81L292.40 837.56L292.90 835.43L293.40 837.73L293.90 838.19L294.40 837.86L294.90 836.71L295.40 837.31L295.90 838.39L296.40 838.44L296.90 838.49L297.40 839.06L297.90 838.75L298.40 839.03L298.90 838.34L299.40 838.94L299.90 838.47L300.40 839.14L300.90 836.70L301.40 838.14L301.90 838.35L302.40 839.73L302.90 839.26L303.40 838.84L303.90 839.64L304.40 838.27L304.90 839.57L305.40 839.88L305.90 839.65L306.40 838.39L306.90 839.26L307.40 838.26L307.90 839.25L308.40 837.29L308.90 838.10L309.40 838.35L309.90 838.73L310.40 838.64L310.90 838.96L311.40 839.51L311.90 839.23L312.40 839.39L312.90 838.45L313.40 839.25L313.90 837.93L314.40 838.94L314.90 838.26L315.40 837.73L315.90 838.07L316.40 838.15L316.90 838.08L317.40 838.74L317.90 838.71L318.40 838.77L318.90 838.64L319.40 838.49L319.90 837.28L320.40 837.94L320.90 837.14L321.40 834.98L321.90 838.37L322.40 837.41L322.90 838.06L323.40 836.45L323.90 837.94L324.40 838.41L324.90 838.37L325.40 835.29L325.90 838.43L326.40 838.06L326.90 838.32L327.40 837.57L327.90 837.87L328.40 837.95L328.90 838.19L329.40 838.20L329.90 837.63L330.40 837.47L330.90 838.06L331.40 838.42L331.90 838.30L332.40 837.81L332.90 838.31L333.40 837.95L333.90 836.61L334.40 836.30L334.90 837.67L335.40 837.34L335.90 837.97L336.40 837.23L336.90 837.08L337.40 837.94L337.90 837.93L338.40 837.41L338.90 837.57L339.40 838.22L339.90 835.46L340.40 839.03L340.90 839.23L341.40 839.00L341.90 837.28L342.40 838.52L342.90 838.21L343.40 837.19L343.90 838.19L344.40 837.71L344.90 838.34L345.2 840.9Z" fill="#1f9a3c" stroke="#1f9a3c" stroke-width="0.4"/>
<line x1="317.60" y1="819.00" x2="317.60" y2="841.00" stroke="#b5d86a" stroke-width="1.0" />
<path d="M73.9 867.7L73.90 861.97L74.40 863.56L74.90 862.12L75.40 862.68L75.90 856.70L76.40 863.54L76.90 863.55L77.40 863.56L77.90 863.20L78.40 860.52L78.90 862.90L79.40 863.46L79.90 862.15L80.40 862.74L80.90 862.48L81.40 861.54L81.90 863.45L82.40 862.62L82.90 863.90L83.40 862.72L83.90 863.15L84.40 863.74L84.90 864.02L85.40 862.42L85.90 862.78L86.40 862.77L86.90 863.86L87.40 862.47L87.90 860.40L88.40 863.15L88.90 862.65L89.40 863.39L89.90 863.89L90.40 863.12L90.90 860.36L91.40 862.40L91.90 863.16L92.40 863.17L92.90 864.02L93.40 863.37L93.90 864.41L94.40 863.08L94.90 864.38L95.40 863.70L95.90 864.25L96.40 864.15L96.90 863.67L97.40 864.73L97.90 863.98L98.40 863.00L98.90 864.65L99.40 864.01L99.90 863.15L100.40 859.92L100.90 863.33L101.40 864.20L101.90 863.46L102.40 864.60L102.90 863.71L103.40 864.12L103.90 864.09L104.40 863.66L104.90 863.96L105.40 863.47L105.90 863.91L106.40 863.05L106.90 864.66L107.40 861.17L107.90 863.31L108.40 862.74L108.90 863.95L109.40 863.57L109.90 862.43L110.40 863.92L110.90 864.10L111.40 863.99L111.90 861.78L112.40 863.49L112.90 861.63L113.40 862.10L113.90 863.05L114.40 863.36L114.90 862.72L115.40 862.43L115.90 862.29L116.40 861.99L116.90 860.90L117.40 863.10L117.90 861.81L118.40 853.90L118.90 858.70L119.40 862.61L119.90 863.36L120.40 863.12L120.90 862.69L121.40 860.05L121.90 860.66L122.40 863.67L122.90 864.48L123.40 864.20L123.90 864.98L124.40 864.69L124.90 863.19L125.40 863.89L125.90 864.29L126.40 863.75L126.90 862.72L127.40 863.15L127.90 863.14L128.40 863.87L128.90 860.29L129.40 863.04L129.90 863.10L130.40 862.26L130.90 862.80L131.40 862.75L131.90 862.98L132.40 862.37L132.90 862.65L133.40 863.09L133.90 863.61L134.40 862.39L134.90 863.21L135.40 861.81L135.90 862.98L136.40 862.48L136.90 863.30L137.40 862.72L137.90 863.67L138.40 862.88L138.90 864.18L139.40 863.90L139.90 863.35L140.40 863.31L140.90 863.08L141.40 863.91L141.90 864.70L142.40 864.52L142.90 864.66L143.40 864.50L143.90 862.62L144.40 864.03L144.90 863.75L145.40 864.17L145.90 864.00L146.40 864.17L146.90 864.23L147.40 864.26L147.90 864.42L148.40 863.91L148.90 864.75L149.40 863.74L149.90 862.90L150.40 864.01L150.90 864.70L151.40 864.20L151.90 864.26L152.40 863.51L152.90 862.37L153.40 864.50L153.90 864.53L154.40 864.40L154.90 863.62L155.40 864.00L155.90 863.09L156.40 862.99L156.90 861.77L157.40 863.55L157.90 862.39L158.40 863.66L158.90 863.44L159.40 864.27L159.90 864.31L160.40 863.47L160.90 863.59L161.40 858.78L161.90 863.81L162.40 863.36L162.90 863.28L163.40 863.62L163.90 863.59L164.40 862.15L164.90 863.12L165.40 863.76L165.90 862.89L166.40 860.02L166.90 862.58L167.40 863.46L167.90 863.63L168.40 863.26L168.90 864.06L169.40 862.85L169.90 864.34L170.40 863.70L170.90 863.22L171.40 863.29L171.90 863.68L172.40 863.53L172.90 863.37L173.40 864.67L173.90 864.06L174.40 864.47L174.90 863.91L175.40 864.47L175.90 863.07L176.40 861.85L176.90 863.09L177.40 861.98L177.90 862.63L178.40 861.72L178.90 862.80L179.40 860.98L179.90 862.28L180.40 862.61L180.90 863.37L181.40 862.39L181.90 863.03L182.40 862.07L182.90 863.73L183.40 863.65L183.90 863.45L184.40 862.56L184.90 858.73L185.40 861.67L185.90 862.06L186.40 862.39L186.90 861.44L187.40 860.04L187.90 862.52L188.40 862.41L188.90 862.66L189.40 862.12L189.90 863.04L190.40 862.76L190.90 861.19L191.40 863.53L191.90 862.10L192.40 863.32L192.90 863.22L193.40 862.87L193.90 862.99L194.40 863.15L194.90 862.97L195.40 862.67L195.90 861.86L196.40 863.78L196.90 862.09L197.40 861.83L197.90 863.68L198.40 864.49L198.90 863.39L199.40 863.62L199.90 861.46L200.40 862.60L200.90 862.35L201.40 863.08L201.90 863.65L202.40 862.66L202.90 862.26L203.40 862.45L203.90 862.17L204.40 860.96L204.90 862.18L205.40 862.03L205.90 860.68L206.40 862.10L206.90 863.33L207.40 863.12L207.90 861.79L208.40 862.23L208.90 862.74L209.40 861.56L209.90 862.10L210.40 862.23L210.90 861.77L211.40 862.85L211.90 861.88L212.40 862.09L212.90 862.69L213.40 862.83L213.90 863.35L214.40 863.51L214.90 864.39L215.40 864.41L215.90 864.54L216.40 864.35L216.90 864.33L217.40 863.99L217.90 864.29L218.40 863.73L218.90 863.63L219.40 864.73L219.90 863.69L220.40 863.68L220.90 863.95L221.40 863.90L221.90 863.69L222.40 863.91L222.90 861.58L223.40 863.27L223.90 861.63L224.40 863.40L224.90 863.31L225.40 861.39L225.90 863.02L226.40 861.89L226.90 863.56L227.40 863.86L227.90 863.89L228.40 864.34L228.90 864.64L229.40 864.07L229.90 863.18L230.40 862.36L230.90 863.89L231.40 863.06L231.90 864.24L232.40 863.90L232.90 862.71L233.40 863.01L233.90 864.51L234.40 862.76L234.90 863.98L235.40 863.52L235.90 863.67L236.40 864.59L236.90 863.48L237.40 863.65L237.90 864.98L238.40 863.73L238.90 863.53L239.40 864.06L239.90 864.20L240.40 863.29L240.90 863.31L241.40 863.70L241.90 861.88L242.40 864.02L242.90 863.22L243.40 864.37L243.90 863.58L244.40 863.36L244.90 863.55L245.40 862.30L245.90 862.41L246.40 864.19L246.90 863.01L247.40 863.85L247.90 863.66L248.40 863.35L248.90 862.00L249.40 862.93L249.90 861.66L250.40 862.64L250.90 863.27L251.40 862.30L251.90 862.93L252.40 861.53L252.90 863.37L253.40 862.96L253.90 861.84L254.40 862.44L254.90 863.34L255.40 862.89L255.90 863.32L256.40 862.97L256.90 863.59L257.40 862.37L257.90 862.45L258.40 863.45L258.90 864.08L259.40 862.19L259.90 863.74L260.40 862.46L260.90 861.71L261.40 862.36L261.90 863.72L262.40 861.28L262.90 862.90L263.40 862.63L263.90 861.35L264.40 862.97L264.90 862.79L265.40 862.60L265.90 862.29L266.40 862.36L266.90 863.26L267.40 862.64L267.90 862.80L268.40 863.56L268.90 863.25L269.40 861.95L269.90 862.84L270.40 862.04L270.90 863.28L271.40 860.27L271.90 862.15L272.40 862.53L272.90 861.80L273.40 862.85L273.90 862.23L274.40 862.87L274.90 863.10L275.40 862.14L275.90 862.14L276.40 861.32L276.90 861.62L277.40 861.80L277.90 863.17L278.40 863.09L278.90 862.75L279.40 862.80L279.90 864.31L280.40 864.23L280.90 864.13L281.40 864.15L281.90 862.92L282.40 862.46L282.90 863.40L283.40 863.75L283.90 863.62L284.40 862.59L284.90 863.39L285.40 863.01L285.90 863.13L286.40 863.67L286.90 863.74L287.40 864.23L287.90 861.18L288.40 863.01L288.90 863.96L289.40 863.89L289.90 863.01L290.40 864.23L290.90 863.42L291.40 863.83L291.90 864.19L292.40 862.77L292.90 863.53L293.40 864.08L293.90 863.55L294.40 863.73L294.90 862.88L295.40 863.70L295.90 864.01L296.40 861.62L296.90 863.03L297.40 863.47L297.90 862.06L298.40 863.67L298.90 863.16L299.40 862.62L299.90 861.58L300.40 863.27L300.90 862.42L301.40 863.43L301.90 863.58L302.40 863.45L302.90 862.06L303.40 861.63L303.90 863.62L304.40 862.27L304.90 862.64L305.40 863.25L305.90 863.13L306.40 863.31L306.90 862.51L307.40 862.20L307.90 863.52L308.40 862.00L308.90 862.89L309.40 863.77L309.90 863.47L310.40 863.79L310.90 861.73L311.40 863.41L311.90 863.40L312.40 864.49L312.90 862.07L313.40 864.77L313.90 864.42L314.40 864.04L314.90 864.13L315.40 864.81L315.90 864.95L316.40 863.56L316.90 864.04L317.40 864.49L317.90 864.28L318.40 864.47L318.90 864.62L319.40 864.66L319.90 864.85L320.40 863.53L320.90 863.06L321.40 862.96L321.90 864.02L322.40 863.10L322.90 863.31L323.40 863.39L323.90 863.04L324.40 862.61L324.90 863.65L325.40 862.78L325.90 863.27L326.40 863.32L326.90 862.43L327.40 862.31L327.90 863.10L328.40 862.83L328.90 863.00L329.40 861.99L329.90 862.44L330.40 862.41L330.90 861.00L331.40 862.83L331.90 862.08L332.40 862.03L332.90 862.80L333.40 862.59L333.90 861.94L334.40 862.51L334.90 863.30L335.40 859.74L335.90 863.67L336.40 863.49L336.90 863.26L337.40 862.23L337.90 862.73L338.40 862.77L338.90 860.05L339.40 860.88L339.90 861.71L340.40 862.19L340.90 862.44L341.40 862.07L341.90 862.78L342.40 862.83L342.90 862.19L343.40 863.08L343.90 862.10L344.40 863.28L344.90 862.98L345.2 867.7Z" fill="#c63ca2" stroke="#c63ca2" stroke-width="0.4"/>
<line x1="327.60" y1="854.00" x2="327.60" y2="866.00" stroke="#e0503a" stroke-width="0.9" />
<path d="M94.4 868.4A163.0 163.0 0 0 0 278.0 868.4M93.7 868.4A139.1 139.1 0 0 0 254.5 868.4M92.6 868.4A112.0 112.0 0 0 0 226.8 868.4M92.2 868.4A119.5 119.5 0 0 0 234.0 868.4M112.1 868.4A79.5 79.5 0 0 0 212.8 868.4M105.7 868.4A96.1 96.1 0 0 0 223.7 868.4M110.4 868.4A137.6 137.6 0 0 0 269.8 868.4M104.0 868.4A196.5 196.5 0 0 0 318.5 868.4M114.0 868.4A109.3 109.3 0 0 0 245.6 868.4M123.0 868.4A83.4 83.4 0 0 0 227.8 868.4M159.0 868.4A32.6 32.6 0 0 0 206.3 868.4M149.3 868.4A61.9 61.9 0 0 0 230.8 868.4M157.2 868.4A33.9 33.9 0 0 0 206.2 868.4M168.1 868.4A38.3 38.3 0 0 0 222.4 868.4M184.7 868.4A117.0 117.0 0 0 0 323.9 868.4M286.5 868.4A26.2 26.2 0 0 0 325.7 868.4M169.1 868.4A59.5 59.5 0 0 0 247.9 868.4M186.2 868.4A86.1 86.1 0 0 0 293.9 868.4M258.0 868.4A49.3 49.3 0 0 0 325.3 868.4M215.6 868.4A52.8 52.8 0 0 0 286.9 868.4M220.2 868.4A44.6 44.6 0 0 0 282.0 868.4M218.3 868.4A69.7 69.7 0 0 0 308.4 868.4M256.7 868.4A31.7 31.7 0 0 0 302.8 868.4M235.0 868.4A27.1 27.1 0 0 0 275.3 868.4M156.8 868.4A75.0 75.0 0 0 0 252.6 868.4M203.9 868.4A21.7 21.7 0 0 0 237.2 868.4M161.9 868.4A75.1 75.1 0 0 0 257.9 868.4M291.3 868.4A28.6 28.6 0 0 0 333.6 868.4M154.5 868.4A68.2 68.2 0 0 0 243.1 868.4M262.7 868.4A18.5 18.5 0 0 0 291.6 868.4M240.9 868.4A30.8 30.8 0 0 0 285.9 868.4M306.9 868.4A9.9 9.9 0 0 0 323.7 868.4M244.6 868.4A10.1 10.1 0 0 0 261.6 868.4M229.4 868.4A30.8 30.8 0 0 0 274.4 868.4M249.7 868.4A30.8 30.8 0 0 0 294.7 868.4M302.3 868.4A5.7 5.7 0 0 0 312.6 868.4M245.8 868.4A22.7 22.7 0 0 0 280.3 868.4M300.3 868.4A19.2 19.2 0 0 0 330.2 868.4M256.5 868.4A27.8 27.8 0 0 0 297.7 868.4M261.4 868.4A27.1 27.1 0 0 0 301.7 868.4M302.6 868.4A8.8 8.8 0 0 0 317.8 868.4M304.2 868.4A20.5 20.5 0 0 0 335.9 868.4M284.5 868.4A30.8 30.8 0 0 0 329.5 868.4M316.2 868.4A5.8 5.8 0 0 0 326.5 868.4M321.2 868.4A5.4 5.4 0 0 0 331.0 868.4M303.6 868.4A6.3 6.3 0 0 0 314.8 868.4M256.5 868.4A27.2 27.2 0 0 0 297.0 868.4M306.9 868.4A14.7 14.7 0 0 0 330.6 868.4M247.2 868.4A30.8 30.8 0 0 0 292.2 868.4M309.3 868.4A11.1 11.1 0 0 0 327.9 868.4M232.8 868.4A23.6 23.6 0 0 0 268.5 868.4M255.5 868.4A26.2 26.2 0 0 0 294.7 868.4M316.6 868.4A9.4 9.4 0 0 0 332.6 868.4M305.0 868.4A5.4 5.4 0 0 0 314.8 868.4M251.1 868.4A30.8 30.8 0 0 0 296.1 868.4M90.5 868.4A224.5 224.5 0 0 0 330.0 868.4M96.0 868.4A204.9 204.9 0 0 0 318.0 868.4M100.0 868.4A180.7 180.7 0 0 0 300.0 868.4M118.0 868.4A132.0 132.0 0 0 0 272.0 868.4M125.0 868.4A83.6 83.6 0 0 0 230.0 868.4" fill="none" stroke="#e2371f" stroke-width="0.5" stroke-opacity="0.8"/>
<rect x="73.10" y="782.70" width="272.90" height="159.60" fill="none" stroke="#231f20" stroke-width="1.6" />
<line x1="73.10" y1="905.40" x2="346.00" y2="905.40" stroke="#231f20" stroke-width="1.5" />
<text x="67.40" y="799.90" font-size="8.4" text-anchor="end" fill="#231f20" textLength="64.00" lengthAdjust="spacingAndGlyphs">BCBL1-H3K27ac</text>
<text x="67.40" y="833.00" font-size="8.4" text-anchor="end" fill="#231f20">GM12878-<tspan font-style="italic">IRF4</tspan></text>
<text x="67.40" y="858.70" font-size="8.4" text-anchor="end" font-style="italic" fill="#231f20">GM12878-MEF2C</text>
<text x="67.40" y="890.90" font-size="8.4" text-anchor="end" fill="#231f20" textLength="55.40" lengthAdjust="spacingAndGlyphs">BCBL1-HiChIP</text>
<text x="67.40" y="927.50" font-size="8.6" text-anchor="end" fill="#231f20">Ref genes</text>
<text x="349.00" y="788.60" font-size="7.6" fill="#231f20">35.6</text>
<text x="349.00" y="813.50" font-size="7.6" fill="#231f20">0.16</text>
<text x="349.00" y="821.50" font-size="7.6" fill="#231f20">8.66</text>
<text x="349.00" y="841.10" font-size="7.6" fill="#231f20">0</text>
<text x="349.00" y="849.10" font-size="7.6" fill="#231f20">5</text>
<text x="349.00" y="868.40" font-size="7.6" fill="#231f20">0</text>
<rect x="91.20" y="917.40" width="2.40" height="4.00" fill="#3a3fa8" />
<polyline points="91.60,921.40 91.60,925.30 99.50,925.30" fill="none" stroke="#111" stroke-width="0.7" />
<polygon points="98.50,923.40 101.80,925.30 98.50,927.20" fill="#111" />
<text x="83.50" y="936.20" font-size="9.0" font-style="italic" fill="#d8322a" textLength="20.10" lengthAdjust="spacingAndGlyphs">MYC</text>
<line x1="159.50" y1="919.00" x2="250.00" y2="919.00" stroke="#3a3fa8" stroke-width="0.7" />
<path d="M161.0 917.7L162.4 919L161.0 920.3M165.2 917.7L166.6 919L165.2 920.3M169.4 917.7L170.8 919L169.4 920.3M173.6 917.7L175.0 919L173.6 920.3M177.8 917.7L179.2 919L177.8 920.3M182.0 917.7L183.4 919L182.0 920.3M186.2 917.7L187.6 919L186.2 920.3M190.4 917.7L191.8 919L190.4 920.3M194.6 917.7L196.0 919L194.6 920.3M198.8 917.7L200.2 919L198.8 920.3M203.0 917.7L204.4 919L203.0 920.3M207.2 917.7L208.6 919L207.2 920.3M211.4 917.7L212.8 919L211.4 920.3M215.6 917.7L217.0 919L215.6 920.3M219.8 917.7L221.2 919L219.8 920.3M224.0 917.7L225.4 919L224.0 920.3M228.2 917.7L229.6 919L228.2 920.3M232.4 917.7L233.8 919L232.4 920.3M236.6 917.7L238.0 919L236.6 920.3M240.8 917.7L242.2 919L240.8 920.3M245.0 917.7L246.4 919L245.0 920.3" fill="none" stroke="#3a3fa8" stroke-width="0.8"/>
<rect x="250.00" y="917.50" width="3.70" height="3.00" fill="#3a3fa8" />
<rect x="159.50" y="917.50" width="1.50" height="3.00" fill="#3a3fa8" />
<text x="121.00" y="910.10" font-size="4.3" font-style="italic" fill="#3a3fa8" textLength="16.50" lengthAdjust="spacingAndGlyphs">MIR1204</text>
<text x="144.60" y="920.60" font-size="4.3" font-style="italic" fill="#3a3fa8" textLength="9.80" lengthAdjust="spacingAndGlyphs">PVT1</text>
<text x="160.20" y="925.60" font-size="4.3" font-style="italic" fill="#3a3fa8" textLength="15.70" lengthAdjust="spacingAndGlyphs">TMEM75</text>
<text x="187.00" y="925.60" font-size="4.3" font-style="italic" fill="#3a3fa8" textLength="16.40" lengthAdjust="spacingAndGlyphs">MIR1205</text>
<text x="249.70" y="925.60" font-size="4.3" font-style="italic" fill="#3a3fa8" textLength="16.30" lengthAdjust="spacingAndGlyphs">MIR1208</text>
<text x="165.40" y="930.20" font-size="4.3" font-style="italic" fill="#3a3fa8" textLength="16.60" lengthAdjust="spacingAndGlyphs">MIR1206</text>
<text x="204.60" y="930.20" font-size="4.3" font-style="italic" fill="#3a3fa8" textLength="17.10" lengthAdjust="spacingAndGlyphs">MIR1207</text>
<text x="233.30" y="916.20" font-size="4.5" font-style="italic" fill="#222" textLength="7.50" lengthAdjust="spacingAndGlyphs">ctrll</text>
<line x1="118.90" y1="907.30" x2="118.90" y2="910.30" stroke="#3a3fa8" stroke-width="0.7" />
<line x1="184.70" y1="921.20" x2="184.70" y2="926.00" stroke="#3a3fa8" stroke-width="0.7" />
<line x1="212.30" y1="922.00" x2="212.30" y2="926.00" stroke="#3a3fa8" stroke-width="0.7" />
<line x1="190.60" y1="927.30" x2="190.60" y2="931.00" stroke="#3a3fa8" stroke-width="0.7" />
<line x1="230.30" y1="927.30" x2="230.30" y2="931.00" stroke="#3a3fa8" stroke-width="0.7" />
<line x1="274.70" y1="921.30" x2="274.70" y2="925.50" stroke="#3a3fa8" stroke-width="0.7" />
<polygon points="102.80,949.40 106.60,943.00 110.40,949.40" fill="#c1272d" />
<polygon points="313.70,949.40 317.50,943.00 321.30,949.40" fill="#c1272d" />
<polygon points="323.70,949.40 327.50,943.00 331.30,949.40" fill="#c1272d" />
<text x="87.50" y="955.90" font-size="6.6" fill="#c1272d" textLength="20.40" lengthAdjust="spacingAndGlyphs">Control</text>
<text x="286.40" y="956.20" font-size="6.6" fill="#c1272d" textLength="32.00" lengthAdjust="spacingAndGlyphs">Enhancer 1</text>
<text x="326.10" y="956.20" font-size="6.6" fill="#c1272d">2</text>
<text x="392.40" y="768.60" font-size="17.5" font-weight="bold" fill="#000">e</text>
<rect x="435.40" y="760.70" width="9.20" height="5.00" fill="#fff" stroke="#6e74c8" stroke-width="1.0" />
<text x="448.50" y="765.30" font-size="6.9" fill="#231f20">Ctrl</text>
<rect x="435.40" y="768.30" width="9.20" height="5.00" fill="#fff" stroke="#f5a028" stroke-width="1.0" />
<text x="448.50" y="772.90" font-size="6.9" fill="#231f20">IRF4sg</text>
<rect x="433.20" y="797.00" width="14.60" height="45.20" fill="#fff" />
<polyline points="433.20,842.20 433.20,797.00 447.80,797.00 447.80,842.20" fill="none" stroke="#6e74c8" stroke-width="1.1" />
<rect x="453.50" y="831.35" width="14.30" height="10.85" fill="#fff" />
<polyline points="453.50,842.20 453.50,831.35 467.80,831.35 467.80,842.20" fill="none" stroke="#f5a028" stroke-width="1.1" />
<rect x="487.30" y="797.00" width="14.40" height="45.20" fill="#fff" />
<polyline points="487.30,842.20 487.30,797.00 501.70,797.00 501.70,842.20" fill="none" stroke="#6e74c8" stroke-width="1.1" />
<rect x="508.00" y="788.41" width="14.50" height="53.79" fill="#fff" />
<polyline points="508.00,842.20 508.00,788.41 522.50,788.41 522.50,842.20" fill="none" stroke="#f5a028" stroke-width="1.1" />
<line x1="440.50" y1="795.19" x2="440.50" y2="798.81" stroke="#6e74c8" stroke-width="0.9" />
<line x1="436.80" y1="795.19" x2="444.20" y2="795.19" stroke="#6e74c8" stroke-width="0.9" />
<line x1="436.80" y1="798.81" x2="444.20" y2="798.81" stroke="#6e74c8" stroke-width="0.9" />
<circle cx="440.80" cy="794.74" r="1.35" fill="#111"/>
<circle cx="438.50" cy="797.45" r="1.35" fill="#111"/>
<circle cx="442.60" cy="798.36" r="1.35" fill="#111"/>
<line x1="460.65" y1="830.45" x2="460.65" y2="832.26" stroke="#f5a028" stroke-width="0.9" />
<line x1="456.95" y1="830.45" x2="464.35" y2="830.45" stroke="#f5a028" stroke-width="0.9" />
<line x1="456.95" y1="832.26" x2="464.35" y2="832.26" stroke="#f5a028" stroke-width="0.9" />
<circle cx="460.95" cy="830.00" r="1.35" fill="#111"/>
<circle cx="458.65" cy="830.90" r="1.35" fill="#111"/>
<circle cx="462.75" cy="832.71" r="1.35" fill="#111"/>
<line x1="494.50" y1="791.12" x2="494.50" y2="802.88" stroke="#6e74c8" stroke-width="0.9" />
<line x1="490.80" y1="791.12" x2="498.20" y2="791.12" stroke="#6e74c8" stroke-width="0.9" />
<line x1="490.80" y1="802.88" x2="498.20" y2="802.88" stroke="#6e74c8" stroke-width="0.9" />
<circle cx="494.80" cy="784.80" r="1.35" fill="#111"/>
<circle cx="492.50" cy="801.97" r="1.35" fill="#111"/>
<circle cx="496.60" cy="803.78" r="1.35" fill="#111"/>
<line x1="515.25" y1="782.08" x2="515.25" y2="794.74" stroke="#f5a028" stroke-width="0.9" />
<line x1="511.55" y1="782.08" x2="518.95" y2="782.08" stroke="#f5a028" stroke-width="0.9" />
<line x1="511.55" y1="794.74" x2="518.95" y2="794.74" stroke="#f5a028" stroke-width="0.9" />
<circle cx="515.55" cy="776.21" r="1.35" fill="#111"/>
<circle cx="513.25" cy="792.93" r="1.35" fill="#111"/>
<circle cx="517.35" cy="796.10" r="1.35" fill="#111"/>
<line x1="426.90" y1="774.40" x2="426.90" y2="842.70" stroke="#333" stroke-width="1.1" />
<line x1="426.90" y1="842.20" x2="528.40" y2="842.20" stroke="#444" stroke-width="1.3" />
<line x1="424.60" y1="842.20" x2="426.90" y2="842.20" stroke="#333" stroke-width="1.0" />
<text x="420.90" y="844.60" font-size="6.6" text-anchor="end" fill="#231f20">0.0</text>
<line x1="424.60" y1="819.60" x2="426.90" y2="819.60" stroke="#333" stroke-width="1.0" />
<text x="420.90" y="822.00" font-size="6.6" text-anchor="end" fill="#231f20">0.5</text>
<line x1="424.60" y1="797.00" x2="426.90" y2="797.00" stroke="#333" stroke-width="1.0" />
<text x="420.90" y="799.40" font-size="6.6" text-anchor="end" fill="#231f20">1.0</text>
<line x1="424.60" y1="774.40" x2="426.90" y2="774.40" stroke="#333" stroke-width="1.0" />
<text x="420.90" y="776.80" font-size="6.6" text-anchor="end" fill="#231f20">1.5</text>
<line x1="450.30" y1="842.20" x2="450.30" y2="844.00" stroke="#444" stroke-width="0.9" />
<text x="454.80" y="852.80" font-size="7.6" text-anchor="end" fill="#231f20" transform="rotate(-45 454.80 852.80)">Enhancer 1</text>
<line x1="505.00" y1="842.20" x2="505.00" y2="844.00" stroke="#444" stroke-width="0.9" />
<text x="509.50" y="852.80" font-size="7.6" text-anchor="end" fill="#231f20" transform="rotate(-45 509.50 852.80)">Control</text>
<text x="399.10" y="809.40" font-size="6.9" text-anchor="middle" fill="#231f20" textLength="51.10" lengthAdjust="spacingAndGlyphs" transform="rotate(-90 399.10 809.40)">Relative H3K27ac</text>
<text x="405.90" y="809.50" font-size="6.9" text-anchor="middle" fill="#231f20" textLength="31.20" lengthAdjust="spacingAndGlyphs" transform="rotate(-90 405.90 809.50)">enrichment</text>
<polyline points="440.40,788.50 440.40,785.80 461.60,785.80 461.60,815.80" fill="none" stroke="#555" stroke-width="0.9" />
<polyline points="491.60,773.60 519.00,773.60" fill="none" stroke="#555" stroke-width="0.9" />
<text x="437.60" y="783.00" font-size="6.2" fill="#231f20"><tspan font-style="italic">P</tspan> = 0.0001</text>
<text x="506.50" y="771.00" font-size="7.1" text-anchor="middle" fill="#231f20">N.S.</text>
<text x="548.90" y="768.00" font-size="17.5" font-weight="bold" fill="#000">f</text>
<rect x="579.90" y="753.80" width="9.80" height="4.40" fill="#fff" stroke="#c0915c" stroke-width="1.0" />
<text x="593.60" y="757.80" font-size="6.9" fill="#231f20">BCBL1</text>
<rect x="579.90" y="761.20" width="9.80" height="4.40" fill="#fff" stroke="#f5a028" stroke-width="1.0" />
<text x="593.60" y="765.20" font-size="6.9" fill="#231f20">JSC</text>
<rect x="585.40" y="796.54" width="14.20" height="49.06" fill="#fff" />
<polyline points="585.40,845.60 585.40,796.54 599.60,796.54 599.60,845.60" fill="none" stroke="#c0915c" stroke-width="1.1" />
<rect x="605.70" y="796.54" width="14.30" height="49.06" fill="#fff" />
<polyline points="605.70,845.60 605.70,796.54 620.00,796.54 620.00,845.60" fill="none" stroke="#f5a028" stroke-width="1.1" />
<rect x="640.50" y="817.70" width="14.30" height="27.90" fill="#fff" />
<polyline points="640.50,845.60 640.50,817.70 654.80,817.70 654.80,845.60" fill="none" stroke="#c0915c" stroke-width="1.1" />
<rect x="660.50" y="815.30" width="14.20" height="30.30" fill="#fff" />
<polyline points="660.50,845.60 660.50,815.30 674.70,815.30 674.70,845.60" fill="none" stroke="#f5a028" stroke-width="1.1" />
<line x1="592.50" y1="786.68" x2="592.50" y2="806.40" stroke="#c0915c" stroke-width="0.9" />
<line x1="588.80" y1="786.68" x2="596.20" y2="786.68" stroke="#c0915c" stroke-width="0.9" />
<line x1="588.80" y1="806.40" x2="596.20" y2="806.40" stroke="#c0915c" stroke-width="0.9" />
<circle cx="592.80" cy="785.48" r="1.35" fill="#111"/>
<circle cx="590.50" cy="797.50" r="1.35" fill="#111"/>
<circle cx="594.60" cy="805.68" r="1.35" fill="#111"/>
<line x1="612.85" y1="787.40" x2="612.85" y2="805.68" stroke="#f5a028" stroke-width="0.9" />
<line x1="609.15" y1="787.40" x2="616.55" y2="787.40" stroke="#f5a028" stroke-width="0.9" />
<line x1="609.15" y1="805.68" x2="616.55" y2="805.68" stroke="#f5a028" stroke-width="0.9" />
<circle cx="613.15" cy="785.96" r="1.35" fill="#111"/>
<circle cx="610.85" cy="800.87" r="1.35" fill="#111"/>
<circle cx="614.95" cy="802.79" r="1.35" fill="#111"/>
<line x1="647.65" y1="815.78" x2="647.65" y2="819.63" stroke="#c0915c" stroke-width="0.9" />
<line x1="643.95" y1="815.78" x2="651.35" y2="815.78" stroke="#c0915c" stroke-width="0.9" />
<line x1="643.95" y1="819.63" x2="651.35" y2="819.63" stroke="#c0915c" stroke-width="0.9" />
<circle cx="647.95" cy="815.78" r="1.35" fill="#111"/>
<circle cx="645.65" cy="818.66" r="1.35" fill="#111"/>
<circle cx="649.75" cy="818.66" r="1.35" fill="#111"/>
<line x1="667.60" y1="810.49" x2="667.60" y2="820.11" stroke="#f5a028" stroke-width="0.9" />
<line x1="663.90" y1="810.49" x2="671.30" y2="810.49" stroke="#f5a028" stroke-width="0.9" />
<line x1="663.90" y1="820.11" x2="671.30" y2="820.11" stroke="#f5a028" stroke-width="0.9" />
<circle cx="667.90" cy="810.97" r="1.35" fill="#111"/>
<circle cx="665.60" cy="817.22" r="1.35" fill="#111"/>
<circle cx="669.70" cy="818.18" r="1.35" fill="#111"/>
<line x1="575.40" y1="773.45" x2="575.40" y2="846.10" stroke="#333" stroke-width="1.1" />
<line x1="575.40" y1="845.60" x2="685.00" y2="845.60" stroke="#444" stroke-width="1.3" />
<line x1="573.10" y1="845.60" x2="575.40" y2="845.60" stroke="#333" stroke-width="1.0" />
<text x="572.10" y="848.00" font-size="6.6" text-anchor="end" fill="#231f20">0.0</text>
<line x1="573.10" y1="821.55" x2="575.40" y2="821.55" stroke="#333" stroke-width="1.0" />
<text x="572.10" y="823.95" font-size="6.6" text-anchor="end" fill="#231f20">0.5</text>
<line x1="573.10" y1="797.50" x2="575.40" y2="797.50" stroke="#333" stroke-width="1.0" />
<text x="572.10" y="799.90" font-size="6.6" text-anchor="end" fill="#231f20">1.0</text>
<line x1="573.10" y1="773.45" x2="575.40" y2="773.45" stroke="#333" stroke-width="1.0" />
<text x="572.10" y="775.85" font-size="6.6" text-anchor="end" fill="#231f20">1.5</text>
<line x1="602.40" y1="845.60" x2="602.40" y2="847.40" stroke="#444" stroke-width="0.9" />
<text x="606.90" y="856.20" font-size="7.6" text-anchor="end" fill="#231f20" transform="rotate(-45 606.90 856.20)">Ctrl</text>
<line x1="657.60" y1="845.60" x2="657.60" y2="847.40" stroke="#444" stroke-width="0.9" />
<text x="662.10" y="856.20" font-size="7.6" text-anchor="end" fill="#231f20" transform="rotate(-45 662.10 856.20)">IRF4sg</text>
<text x="554.10" y="809.80" font-size="6.9" text-anchor="middle" fill="#231f20" textLength="44.20" lengthAdjust="spacingAndGlyphs" transform="rotate(-90 554.10 809.80)">MYC Expression</text>
<polyline points="592.40,781.00 592.40,776.80 646.70,776.80 646.70,811.50" fill="none" stroke="#666" stroke-width="0.9" />
<polyline points="614.30,782.30 614.30,768.90 667.50,768.90 667.50,810.00" fill="none" stroke="#666" stroke-width="0.9" />
<text x="615.60" y="775.00" font-size="6.4" fill="#231f20"><tspan font-style="italic">P</tspan> = 0.018</text>
<text x="633.50" y="765.20" font-size="6.4" fill="#231f20"><tspan font-style="italic">P</tspan> = 0.0288</text>
<text x="393.10" y="904.90" font-size="17.5" font-weight="bold" fill="#000">g</text>
<rect x="432.00" y="901.40" width="10.40" height="4.90" fill="#fff" stroke="#6e74c8" stroke-width="1.0" />
<text x="446.30" y="905.90" font-size="6.9" fill="#231f20">Ctrl</text>
<rect x="432.00" y="909.30" width="10.40" height="4.90" fill="#fff" stroke="#f5a028" stroke-width="1.0" />
<text x="446.30" y="913.80" font-size="6.9" fill="#231f20">MEF2Csg</text>
<rect x="434.90" y="933.83" width="14.00" height="46.47" fill="#fff" />
<polyline points="434.90,980.30 434.90,933.83 448.90,933.83 448.90,980.30" fill="none" stroke="#6e74c8" stroke-width="1.1" />
<rect x="454.60" y="965.89" width="13.60" height="14.41" fill="#fff" />
<polyline points="454.60,980.30 454.60,965.89 468.20,965.89 468.20,980.30" fill="none" stroke="#f5a028" stroke-width="1.1" />
<rect x="487.30" y="931.97" width="13.70" height="48.33" fill="#fff" />
<polyline points="487.30,980.30 487.30,931.97 501.00,931.97 501.00,980.30" fill="none" stroke="#6e74c8" stroke-width="1.1" />
<rect x="507.20" y="931.04" width="13.60" height="49.26" fill="#fff" />
<polyline points="507.20,980.30 507.20,931.04 520.80,931.04 520.80,980.30" fill="none" stroke="#f5a028" stroke-width="1.1" />
<line x1="441.90" y1="931.51" x2="441.90" y2="936.15" stroke="#6e74c8" stroke-width="0.9" />
<line x1="438.20" y1="931.51" x2="445.60" y2="931.51" stroke="#6e74c8" stroke-width="0.9" />
<line x1="438.20" y1="936.15" x2="445.60" y2="936.15" stroke="#6e74c8" stroke-width="0.9" />
<circle cx="442.20" cy="930.58" r="1.35" fill="#111"/>
<circle cx="439.90" cy="934.76" r="1.35" fill="#111"/>
<circle cx="444.00" cy="934.76" r="1.35" fill="#111"/>
<line x1="461.40" y1="964.96" x2="461.40" y2="966.82" stroke="#f5a028" stroke-width="0.9" />
<line x1="457.70" y1="964.96" x2="465.10" y2="964.96" stroke="#f5a028" stroke-width="0.9" />
<line x1="457.70" y1="966.82" x2="465.10" y2="966.82" stroke="#f5a028" stroke-width="0.9" />
<circle cx="461.70" cy="964.04" r="1.35" fill="#111"/>
<circle cx="459.40" cy="966.36" r="1.35" fill="#111"/>
<circle cx="463.50" cy="966.82" r="1.35" fill="#111"/>
<line x1="494.15" y1="928.72" x2="494.15" y2="935.22" stroke="#6e74c8" stroke-width="0.9" />
<line x1="490.45" y1="928.72" x2="497.85" y2="928.72" stroke="#6e74c8" stroke-width="0.9" />
<line x1="490.45" y1="935.22" x2="497.85" y2="935.22" stroke="#6e74c8" stroke-width="0.9" />
<circle cx="494.45" cy="926.86" r="1.35" fill="#111"/>
<circle cx="492.15" cy="931.97" r="1.35" fill="#111"/>
<circle cx="496.25" cy="937.08" r="1.35" fill="#111"/>
<line x1="514.00" y1="925.93" x2="514.00" y2="936.15" stroke="#f5a028" stroke-width="0.9" />
<line x1="510.30" y1="925.93" x2="517.70" y2="925.93" stroke="#f5a028" stroke-width="0.9" />
<line x1="510.30" y1="936.15" x2="517.70" y2="936.15" stroke="#f5a028" stroke-width="0.9" />
<circle cx="514.30" cy="925.00" r="1.35" fill="#111"/>
<circle cx="512.00" cy="931.97" r="1.35" fill="#111"/>
<circle cx="516.10" cy="941.27" r="1.35" fill="#111"/>
<line x1="425.20" y1="910.59" x2="425.20" y2="980.80" stroke="#333" stroke-width="1.1" />
<line x1="425.20" y1="980.30" x2="530.00" y2="980.30" stroke="#444" stroke-width="1.3" />
<line x1="422.90" y1="980.30" x2="425.20" y2="980.30" stroke="#333" stroke-width="1.0" />
<text x="420.00" y="982.70" font-size="6.6" text-anchor="end" fill="#231f20">0.0</text>
<line x1="422.90" y1="957.06" x2="425.20" y2="957.06" stroke="#333" stroke-width="1.0" />
<text x="420.00" y="959.46" font-size="6.6" text-anchor="end" fill="#231f20">0.5</text>
<line x1="422.90" y1="933.83" x2="425.20" y2="933.83" stroke="#333" stroke-width="1.0" />
<text x="420.00" y="936.23" font-size="6.6" text-anchor="end" fill="#231f20">1.0</text>
<line x1="422.90" y1="910.59" x2="425.20" y2="910.59" stroke="#333" stroke-width="1.0" />
<text x="420.00" y="912.99" font-size="6.6" text-anchor="end" fill="#231f20">1.5</text>
<line x1="450.70" y1="980.30" x2="450.70" y2="982.10" stroke="#444" stroke-width="0.9" />
<text x="455.20" y="990.90" font-size="7.6" text-anchor="end" fill="#231f20" transform="rotate(-45 455.20 990.90)">Enhancer 2</text>
<line x1="504.30" y1="980.30" x2="504.30" y2="982.10" stroke="#444" stroke-width="0.9" />
<text x="508.80" y="990.90" font-size="7.6" text-anchor="end" fill="#231f20" transform="rotate(-45 508.80 990.90)">Control</text>
<text x="397.10" y="943.40" font-size="6.9" text-anchor="middle" fill="#231f20" textLength="51.00" lengthAdjust="spacingAndGlyphs" transform="rotate(-90 397.10 943.40)">Relative H3K27ac</text>
<text x="404.30" y="943.40" font-size="6.9" text-anchor="middle" fill="#231f20" textLength="31.40" lengthAdjust="spacingAndGlyphs" transform="rotate(-90 404.30 943.40)">enrichment</text>
<polyline points="440.80,928.00 440.80,924.40 462.70,924.40 462.70,954.60" fill="none" stroke="#555" stroke-width="0.9" />
<polyline points="489.70,920.20 516.40,920.20" fill="none" stroke="#555" stroke-width="0.9" />
<text x="437.80" y="921.30" font-size="6.2" fill="#231f20"><tspan font-style="italic">P</tspan> = 0.0002</text>
<text x="504.30" y="917.40" font-size="7.1" text-anchor="middle" fill="#231f20">N.S.</text>
<text x="548.70" y="904.20" font-size="17.5" font-weight="bold" fill="#000">h</text>
<rect x="585.40" y="904.20" width="9.80" height="4.90" fill="#fff" stroke="#c0915c" stroke-width="1.0" />
<text x="599.10" y="908.70" font-size="6.9" fill="#231f20">BCBL1</text>
<rect x="585.40" y="911.90" width="9.80" height="4.90" fill="#fff" stroke="#f5a028" stroke-width="1.0" />
<text x="599.10" y="916.40" font-size="6.9" fill="#231f20">JSC</text>
<rect x="584.30" y="933.40" width="15.30" height="47.60" fill="#fff" />
<polyline points="584.30,981.00 584.30,933.40 599.60,933.40 599.60,981.00" fill="none" stroke="#c0915c" stroke-width="1.1" />
<rect x="606.20" y="931.50" width="14.60" height="49.50" fill="#fff" />
<polyline points="606.20,981.00 606.20,931.50 620.80,931.50 620.80,981.00" fill="none" stroke="#f5a028" stroke-width="1.1" />
<rect x="641.60" y="949.58" width="14.90" height="31.42" fill="#fff" />
<polyline points="641.60,981.00 641.60,949.58 656.50,949.58 656.50,981.00" fill="none" stroke="#c0915c" stroke-width="1.1" />
<rect x="663.10" y="944.35" width="14.70" height="36.65" fill="#fff" />
<polyline points="663.10,981.00 663.10,944.35 677.80,944.35 677.80,981.00" fill="none" stroke="#f5a028" stroke-width="1.1" />
<line x1="591.95" y1="932.92" x2="591.95" y2="933.88" stroke="#c0915c" stroke-width="0.9" />
<line x1="588.25" y1="932.92" x2="595.65" y2="932.92" stroke="#c0915c" stroke-width="0.9" />
<line x1="588.25" y1="933.88" x2="595.65" y2="933.88" stroke="#c0915c" stroke-width="0.9" />
<circle cx="592.25" cy="933.40" r="1.35" fill="#111"/>
<circle cx="589.95" cy="933.40" r="1.35" fill="#111"/>
<circle cx="594.05" cy="933.88" r="1.35" fill="#111"/>
<line x1="613.50" y1="930.07" x2="613.50" y2="932.92" stroke="#f5a028" stroke-width="0.9" />
<line x1="609.80" y1="930.07" x2="617.20" y2="930.07" stroke="#f5a028" stroke-width="0.9" />
<line x1="609.80" y1="932.92" x2="617.20" y2="932.92" stroke="#f5a028" stroke-width="0.9" />
<circle cx="613.80" cy="930.07" r="1.35" fill="#111"/>
<circle cx="611.50" cy="931.02" r="1.35" fill="#111"/>
<circle cx="615.60" cy="933.40" r="1.35" fill="#111"/>
<line x1="649.05" y1="949.11" x2="649.05" y2="950.06" stroke="#c0915c" stroke-width="0.9" />
<line x1="645.35" y1="949.11" x2="652.75" y2="949.11" stroke="#c0915c" stroke-width="0.9" />
<line x1="645.35" y1="950.06" x2="652.75" y2="950.06" stroke="#c0915c" stroke-width="0.9" />
<circle cx="649.35" cy="948.63" r="1.35" fill="#111"/>
<circle cx="647.05" cy="949.58" r="1.35" fill="#111"/>
<circle cx="651.15" cy="950.06" r="1.35" fill="#111"/>
<line x1="670.45" y1="941.97" x2="670.45" y2="946.73" stroke="#f5a028" stroke-width="0.9" />
<line x1="666.75" y1="941.97" x2="674.15" y2="941.97" stroke="#f5a028" stroke-width="0.9" />
<line x1="666.75" y1="946.73" x2="674.15" y2="946.73" stroke="#f5a028" stroke-width="0.9" />
<circle cx="670.75" cy="941.97" r="1.35" fill="#111"/>
<circle cx="668.45" cy="943.40" r="1.35" fill="#111"/>
<circle cx="672.55" cy="946.73" r="1.35" fill="#111"/>
<line x1="577.30" y1="909.60" x2="577.30" y2="981.50" stroke="#333" stroke-width="1.1" />
<line x1="577.30" y1="981.00" x2="685.00" y2="981.00" stroke="#444" stroke-width="1.3" />
<line x1="575.00" y1="981.00" x2="577.30" y2="981.00" stroke="#333" stroke-width="1.0" />
<text x="572.20" y="983.40" font-size="6.6" text-anchor="end" fill="#231f20">0.0</text>
<line x1="575.00" y1="957.20" x2="577.30" y2="957.20" stroke="#333" stroke-width="1.0" />
<text x="572.20" y="959.60" font-size="6.6" text-anchor="end" fill="#231f20">0.5</text>
<line x1="575.00" y1="933.40" x2="577.30" y2="933.40" stroke="#333" stroke-width="1.0" />
<text x="572.20" y="935.80" font-size="6.6" text-anchor="end" fill="#231f20">1.0</text>
<line x1="575.00" y1="909.60" x2="577.30" y2="909.60" stroke="#333" stroke-width="1.0" />
<text x="572.20" y="912.00" font-size="6.6" text-anchor="end" fill="#231f20">1.5</text>
<line x1="602.90" y1="981.00" x2="602.90" y2="982.80" stroke="#444" stroke-width="0.9" />
<text x="607.40" y="991.60" font-size="7.6" text-anchor="end" fill="#231f20" transform="rotate(-45 607.40 991.60)">Ctrl</text>
<line x1="657.20" y1="981.00" x2="657.20" y2="982.80" stroke="#444" stroke-width="0.9" />
<text x="661.70" y="991.60" font-size="7.6" text-anchor="end" fill="#231f20" transform="rotate(-45 661.70 991.60)">MEF2Csg</text>
<text x="555.00" y="946.70" font-size="6.9" text-anchor="middle" fill="#231f20" textLength="46.50" lengthAdjust="spacingAndGlyphs" transform="rotate(-90 555.00 946.70)">MYC expression</text>
<polyline points="592.40,930.50 592.40,926.80 649.30,926.80 649.30,947.40" fill="none" stroke="#666" stroke-width="0.9" />
<polyline points="613.40,928.00 613.40,916.70 670.30,916.70 670.30,940.00" fill="none" stroke="#666" stroke-width="0.9" />
<text x="618.60" y="924.60" font-size="6.4" fill="#231f20"><tspan font-style="italic">P</tspan> &lt; 0.0001</text>
<text x="629.20" y="914.10" font-size="6.4" fill="#231f20"><tspan font-style="italic">P</tspan> = 0.0075</text>
</svg>
</body></html>
